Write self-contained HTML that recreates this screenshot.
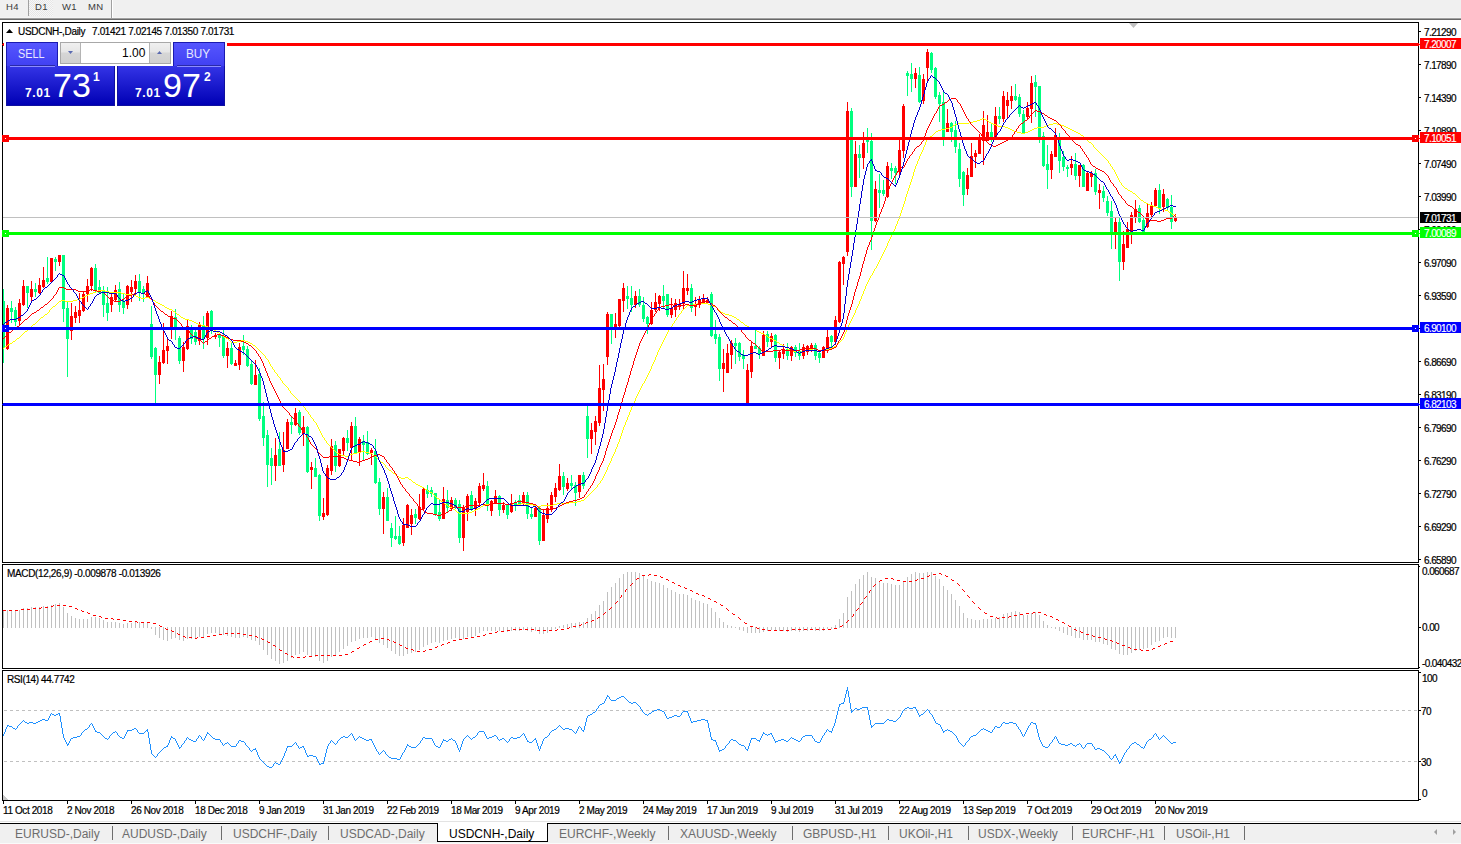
<!DOCTYPE html><html><head><meta charset="utf-8"><title>USDCNH-,Daily</title><style>
*{margin:0;padding:0;box-sizing:border-box}
html,body{width:1461px;height:844px;overflow:hidden;background:#fff}
body{position:relative;font-family:"Liberation Sans",sans-serif;}
.t{position:absolute;white-space:pre;font-size:10px;line-height:10px;color:#000;-webkit-text-stroke:0.2px #000;transform-origin:0 0}
.tb{position:absolute;white-space:pre;font-size:9.5px;line-height:10px;color:#3a3a3a;letter-spacing:0.3px}
.tab{position:absolute;white-space:pre;font-size:12px;line-height:12px;color:#6d6d6d}
.lab{position:absolute;left:1420px;width:41px;height:11px}
.lab span{position:absolute;left:4px;top:2px;font-size:10px;line-height:10px;color:#fff;white-space:pre;letter-spacing:-0.6px;-webkit-text-stroke:0.15px #fff}
svg{position:absolute;left:0;top:0}
.pn{position:absolute}
</style></head><body>
<svg width="1461" height="844" viewBox="0 0 1461 844" shape-rendering="crispEdges"><defs><pattern id="chk" width="2" height="2" patternUnits="userSpaceOnUse"><rect width="2" height="2" fill="#f7f7f7"/><rect width="1" height="1" fill="#e6e6e6"/><rect x="1" y="1" width="1" height="1" fill="#e6e6e6"/></pattern><clipPath id="cm"><rect x="3" y="23" width="1415" height="539"/></clipPath><clipPath id="cmacd"><rect x="3" y="565" width="1415" height="103"/></clipPath><clipPath id="crsi"><rect x="3" y="671" width="1415" height="129"/></clipPath></defs><rect x="0" y="0" width="1461" height="18" fill="#f0f0f0" /><rect x="0" y="17" width="1461" height="1" fill="#f4f4f4" /><rect x="0" y="18" width="1461" height="1" fill="#a0a0a0" /><rect x="0" y="19" width="1461" height="1" fill="#696969" /><rect x="29" y="0" width="24" height="16" fill="url(#chk)" /><rect x="28" y="0" width="1" height="16" fill="#a0a0a0" /><rect x="111" y="0" width="1" height="18" fill="#a0a0a0" /><rect x="112" y="0" width="1" height="18" fill="#ffffff" /><rect x="2" y="22" width="1417" height="1" fill="#000" /><rect x="2" y="562" width="1417" height="1" fill="#000" /><rect x="2" y="22" width="1" height="541" fill="#000" /><rect x="1418" y="22" width="1" height="541" fill="#000" /><rect x="2" y="564" width="1417" height="1" fill="#000" /><rect x="2" y="668" width="1417" height="1" fill="#000" /><rect x="2" y="564" width="1" height="105" fill="#000" /><rect x="1418" y="564" width="1" height="105" fill="#000" /><rect x="2" y="670" width="1417" height="1" fill="#000" /><rect x="2" y="800" width="1417" height="1" fill="#000" /><rect x="2" y="670" width="1" height="131" fill="#000" /><rect x="1418" y="670" width="1" height="131" fill="#000" /><g clip-path="url(#cm)"><rect x="3" y="289" width="1" height="74" fill="#00ff7f"/><rect x="2" y="301" width="3" height="46" fill="#00ff7f"/><rect x="7" y="305" width="1" height="45" fill="#ff0000"/><rect x="6" y="308" width="3" height="41" fill="#ff0000"/><rect x="11" y="301" width="1" height="22" fill="#00ff7f"/><rect x="10" y="308" width="3" height="4" fill="#00ff7f"/><rect x="15" y="307" width="1" height="19" fill="#00ff7f"/><rect x="14" y="310" width="3" height="12" fill="#00ff7f"/><rect x="19" y="299" width="1" height="27" fill="#ff0000"/><rect x="18" y="303" width="3" height="18" fill="#ff0000"/><rect x="23" y="280" width="1" height="26" fill="#ff0000"/><rect x="22" y="286" width="3" height="19" fill="#ff0000"/><rect x="27" y="286" width="1" height="22" fill="#00ff7f"/><rect x="26" y="286" width="3" height="7" fill="#00ff7f"/><rect x="31" y="281" width="1" height="21" fill="#ff0000"/><rect x="30" y="289" width="3" height="8" fill="#ff0000"/><rect x="35" y="283" width="1" height="14" fill="#00ff7f"/><rect x="34" y="289" width="3" height="3" fill="#00ff7f"/><rect x="39" y="278" width="1" height="16" fill="#ff0000"/><rect x="38" y="285" width="3" height="8" fill="#ff0000"/><rect x="43" y="267" width="1" height="21" fill="#ff0000"/><rect x="42" y="280" width="3" height="7" fill="#ff0000"/><rect x="47" y="257" width="1" height="27" fill="#00ff7f"/><rect x="46" y="278" width="3" height="4" fill="#00ff7f"/><rect x="51" y="258" width="1" height="25" fill="#ff0000"/><rect x="50" y="258" width="3" height="24" fill="#ff0000"/><rect x="55" y="257" width="1" height="14" fill="#00ff7f"/><rect x="54" y="259" width="3" height="3" fill="#00ff7f"/><rect x="59" y="255" width="1" height="11" fill="#ff0000"/><rect x="58" y="255" width="3" height="7" fill="#ff0000"/><rect x="63" y="255" width="1" height="67" fill="#00ff7f"/><rect x="62" y="255" width="3" height="54" fill="#00ff7f"/><rect x="67" y="301" width="1" height="76" fill="#00ff7f"/><rect x="66" y="308" width="3" height="31" fill="#00ff7f"/><rect x="71" y="303" width="1" height="37" fill="#ff0000"/><rect x="70" y="316" width="3" height="15" fill="#ff0000"/><rect x="75" y="306" width="1" height="17" fill="#ff0000"/><rect x="74" y="312" width="3" height="6" fill="#ff0000"/><rect x="79" y="293" width="1" height="30" fill="#ff0000"/><rect x="78" y="310" width="3" height="6" fill="#ff0000"/><rect x="83" y="292" width="1" height="20" fill="#ff0000"/><rect x="82" y="294" width="3" height="17" fill="#ff0000"/><rect x="87" y="279" width="1" height="23" fill="#ff0000"/><rect x="86" y="286" width="3" height="8" fill="#ff0000"/><rect x="91" y="267" width="1" height="24" fill="#ff0000"/><rect x="90" y="268" width="3" height="18" fill="#ff0000"/><rect x="95" y="264" width="1" height="28" fill="#00ff7f"/><rect x="94" y="268" width="3" height="22" fill="#00ff7f"/><rect x="99" y="280" width="1" height="14" fill="#00ff7f"/><rect x="98" y="287" width="3" height="6" fill="#00ff7f"/><rect x="103" y="286" width="1" height="31" fill="#00ff7f"/><rect x="102" y="290" width="3" height="15" fill="#00ff7f"/><rect x="107" y="287" width="1" height="34" fill="#00ff7f"/><rect x="106" y="303" width="3" height="10" fill="#00ff7f"/><rect x="111" y="292" width="1" height="20" fill="#ff0000"/><rect x="110" y="297" width="3" height="8" fill="#ff0000"/><rect x="115" y="285" width="1" height="17" fill="#ff0000"/><rect x="114" y="290" width="3" height="10" fill="#ff0000"/><rect x="119" y="282" width="1" height="30" fill="#00ff7f"/><rect x="118" y="289" width="3" height="16" fill="#00ff7f"/><rect x="123" y="294" width="1" height="20" fill="#00ff7f"/><rect x="122" y="301" width="3" height="7" fill="#00ff7f"/><rect x="127" y="285" width="1" height="24" fill="#ff0000"/><rect x="126" y="286" width="3" height="19" fill="#ff0000"/><rect x="131" y="280" width="1" height="22" fill="#ff0000"/><rect x="130" y="287" width="3" height="5" fill="#ff0000"/><rect x="135" y="275" width="1" height="21" fill="#ff0000"/><rect x="134" y="281" width="3" height="8" fill="#ff0000"/><rect x="139" y="274" width="1" height="27" fill="#00ff7f"/><rect x="138" y="281" width="3" height="11" fill="#00ff7f"/><rect x="143" y="286" width="1" height="16" fill="#00ff7f"/><rect x="142" y="289" width="3" height="5" fill="#00ff7f"/><rect x="147" y="276" width="1" height="22" fill="#ff0000"/><rect x="146" y="283" width="3" height="14" fill="#ff0000"/><rect x="151" y="306" width="1" height="53" fill="#00ff7f"/><rect x="150" y="324" width="3" height="33" fill="#00ff7f"/><rect x="155" y="347" width="1" height="56" fill="#00ff7f"/><rect x="154" y="348" width="3" height="27" fill="#00ff7f"/><rect x="159" y="356" width="1" height="28" fill="#ff0000"/><rect x="158" y="362" width="3" height="13" fill="#ff0000"/><rect x="163" y="323" width="1" height="41" fill="#ff0000"/><rect x="162" y="350" width="3" height="13" fill="#ff0000"/><rect x="167" y="339" width="1" height="25" fill="#ff0000"/><rect x="166" y="346" width="3" height="5" fill="#ff0000"/><rect x="171" y="311" width="1" height="28" fill="#ff0000"/><rect x="170" y="316" width="3" height="13" fill="#ff0000"/><rect x="175" y="309" width="1" height="31" fill="#00ff7f"/><rect x="174" y="317" width="3" height="11" fill="#00ff7f"/><rect x="179" y="336" width="1" height="28" fill="#00ff7f"/><rect x="178" y="338" width="3" height="23" fill="#00ff7f"/><rect x="183" y="342" width="1" height="30" fill="#ff0000"/><rect x="182" y="347" width="3" height="14" fill="#ff0000"/><rect x="187" y="320" width="1" height="30" fill="#ff0000"/><rect x="186" y="326" width="3" height="23" fill="#ff0000"/><rect x="191" y="325" width="1" height="19" fill="#00ff7f"/><rect x="190" y="330" width="3" height="9" fill="#00ff7f"/><rect x="195" y="330" width="1" height="15" fill="#00ff7f"/><rect x="194" y="332" width="3" height="10" fill="#00ff7f"/><rect x="199" y="322" width="1" height="23" fill="#ff0000"/><rect x="198" y="324" width="3" height="17" fill="#ff0000"/><rect x="203" y="316" width="1" height="33" fill="#00ff7f"/><rect x="202" y="326" width="3" height="13" fill="#00ff7f"/><rect x="207" y="311" width="1" height="34" fill="#ff0000"/><rect x="206" y="313" width="3" height="25" fill="#ff0000"/><rect x="211" y="310" width="1" height="24" fill="#00ff7f"/><rect x="210" y="311" width="3" height="17" fill="#00ff7f"/><rect x="215" y="333" width="1" height="6" fill="#ff0000"/><rect x="214" y="335" width="3" height="2" fill="#ff0000"/><rect x="219" y="333" width="1" height="14" fill="#00ff7f"/><rect x="218" y="334" width="3" height="4" fill="#00ff7f"/><rect x="223" y="330" width="1" height="28" fill="#00ff7f"/><rect x="222" y="336" width="3" height="20" fill="#00ff7f"/><rect x="227" y="342" width="1" height="26" fill="#ff0000"/><rect x="226" y="348" width="3" height="8" fill="#ff0000"/><rect x="231" y="343" width="1" height="22" fill="#00ff7f"/><rect x="230" y="348" width="3" height="16" fill="#00ff7f"/><rect x="235" y="360" width="1" height="6" fill="#ff0000"/><rect x="234" y="363" width="3" height="3" fill="#ff0000"/><rect x="239" y="343" width="1" height="27" fill="#ff0000"/><rect x="238" y="347" width="3" height="18" fill="#ff0000"/><rect x="243" y="335" width="1" height="20" fill="#00ff7f"/><rect x="242" y="346" width="3" height="4" fill="#00ff7f"/><rect x="247" y="346" width="1" height="21" fill="#00ff7f"/><rect x="246" y="349" width="3" height="17" fill="#00ff7f"/><rect x="251" y="361" width="1" height="24" fill="#00ff7f"/><rect x="250" y="364" width="3" height="20" fill="#00ff7f"/><rect x="255" y="360" width="1" height="25" fill="#ff0000"/><rect x="254" y="375" width="3" height="10" fill="#ff0000"/><rect x="259" y="368" width="1" height="53" fill="#00ff7f"/><rect x="258" y="374" width="3" height="45" fill="#00ff7f"/><rect x="263" y="402" width="1" height="44" fill="#00ff7f"/><rect x="262" y="416" width="3" height="22" fill="#00ff7f"/><rect x="267" y="430" width="1" height="57" fill="#00ff7f"/><rect x="266" y="435" width="3" height="30" fill="#00ff7f"/><rect x="271" y="448" width="1" height="37" fill="#00ff7f"/><rect x="270" y="458" width="3" height="8" fill="#00ff7f"/><rect x="275" y="438" width="1" height="43" fill="#ff0000"/><rect x="274" y="455" width="3" height="11" fill="#ff0000"/><rect x="279" y="432" width="1" height="34" fill="#00ff7f"/><rect x="278" y="449" width="3" height="17" fill="#00ff7f"/><rect x="283" y="432" width="1" height="40" fill="#ff0000"/><rect x="282" y="450" width="3" height="15" fill="#ff0000"/><rect x="287" y="419" width="1" height="30" fill="#ff0000"/><rect x="286" y="422" width="3" height="27" fill="#ff0000"/><rect x="291" y="416" width="1" height="18" fill="#00ff7f"/><rect x="290" y="422" width="3" height="3" fill="#00ff7f"/><rect x="295" y="408" width="1" height="18" fill="#ff0000"/><rect x="294" y="413" width="3" height="12" fill="#ff0000"/><rect x="299" y="410" width="1" height="25" fill="#00ff7f"/><rect x="298" y="412" width="3" height="21" fill="#00ff7f"/><rect x="303" y="416" width="1" height="30" fill="#ff0000"/><rect x="302" y="427" width="3" height="7" fill="#ff0000"/><rect x="307" y="426" width="1" height="47" fill="#00ff7f"/><rect x="306" y="427" width="3" height="45" fill="#00ff7f"/><rect x="311" y="462" width="1" height="27" fill="#ff0000"/><rect x="310" y="467" width="3" height="3" fill="#ff0000"/><rect x="315" y="458" width="1" height="19" fill="#00ff7f"/><rect x="314" y="468" width="3" height="9" fill="#00ff7f"/><rect x="319" y="474" width="1" height="47" fill="#00ff7f"/><rect x="318" y="475" width="3" height="41" fill="#00ff7f"/><rect x="323" y="498" width="1" height="22" fill="#ff0000"/><rect x="322" y="513" width="3" height="4" fill="#ff0000"/><rect x="327" y="465" width="1" height="51" fill="#ff0000"/><rect x="326" y="468" width="3" height="47" fill="#ff0000"/><rect x="331" y="439" width="1" height="36" fill="#ff0000"/><rect x="330" y="446" width="3" height="25" fill="#ff0000"/><rect x="335" y="441" width="1" height="31" fill="#00ff7f"/><rect x="334" y="445" width="3" height="21" fill="#00ff7f"/><rect x="339" y="449" width="1" height="18" fill="#ff0000"/><rect x="338" y="449" width="3" height="17" fill="#ff0000"/><rect x="343" y="437" width="1" height="19" fill="#ff0000"/><rect x="342" y="438" width="3" height="13" fill="#ff0000"/><rect x="347" y="430" width="1" height="21" fill="#00ff7f"/><rect x="346" y="438" width="3" height="5" fill="#00ff7f"/><rect x="351" y="422" width="1" height="39" fill="#ff0000"/><rect x="350" y="426" width="3" height="22" fill="#ff0000"/><rect x="355" y="417" width="1" height="37" fill="#00ff7f"/><rect x="354" y="426" width="3" height="27" fill="#00ff7f"/><rect x="359" y="437" width="1" height="29" fill="#ff0000"/><rect x="358" y="439" width="3" height="14" fill="#ff0000"/><rect x="363" y="435" width="1" height="26" fill="#00ff7f"/><rect x="362" y="441" width="3" height="4" fill="#00ff7f"/><rect x="367" y="431" width="1" height="24" fill="#00ff7f"/><rect x="366" y="442" width="3" height="12" fill="#00ff7f"/><rect x="371" y="448" width="1" height="17" fill="#ff0000"/><rect x="370" y="450" width="3" height="3" fill="#ff0000"/><rect x="375" y="439" width="1" height="45" fill="#00ff7f"/><rect x="374" y="451" width="3" height="32" fill="#00ff7f"/><rect x="379" y="478" width="1" height="37" fill="#00ff7f"/><rect x="378" y="482" width="3" height="27" fill="#00ff7f"/><rect x="383" y="492" width="1" height="42" fill="#ff0000"/><rect x="382" y="497" width="3" height="12" fill="#ff0000"/><rect x="387" y="488" width="1" height="33" fill="#00ff7f"/><rect x="386" y="497" width="3" height="24" fill="#00ff7f"/><rect x="391" y="523" width="1" height="24" fill="#00ff7f"/><rect x="390" y="528" width="3" height="10" fill="#00ff7f"/><rect x="395" y="516" width="1" height="24" fill="#00ff7f"/><rect x="394" y="536" width="3" height="3" fill="#00ff7f"/><rect x="399" y="526" width="1" height="19" fill="#00ff7f"/><rect x="398" y="536" width="3" height="8" fill="#00ff7f"/><rect x="403" y="518" width="1" height="28" fill="#ff0000"/><rect x="402" y="525" width="3" height="18" fill="#ff0000"/><rect x="407" y="504" width="1" height="24" fill="#ff0000"/><rect x="406" y="505" width="3" height="23" fill="#ff0000"/><rect x="411" y="509" width="1" height="26" fill="#ff0000"/><rect x="410" y="515" width="3" height="9" fill="#ff0000"/><rect x="415" y="509" width="1" height="15" fill="#00ff7f"/><rect x="414" y="514" width="3" height="4" fill="#00ff7f"/><rect x="419" y="494" width="1" height="26" fill="#ff0000"/><rect x="418" y="507" width="3" height="12" fill="#ff0000"/><rect x="423" y="488" width="1" height="23" fill="#ff0000"/><rect x="422" y="489" width="3" height="20" fill="#ff0000"/><rect x="427" y="485" width="1" height="13" fill="#00ff7f"/><rect x="426" y="490" width="3" height="4" fill="#00ff7f"/><rect x="431" y="487" width="1" height="10" fill="#00ff7f"/><rect x="430" y="490" width="3" height="4" fill="#00ff7f"/><rect x="435" y="493" width="1" height="23" fill="#00ff7f"/><rect x="434" y="493" width="3" height="21" fill="#00ff7f"/><rect x="439" y="500" width="1" height="21" fill="#00ff7f"/><rect x="438" y="512" width="3" height="7" fill="#00ff7f"/><rect x="443" y="487" width="1" height="32" fill="#ff0000"/><rect x="442" y="499" width="3" height="20" fill="#ff0000"/><rect x="447" y="490" width="1" height="22" fill="#00ff7f"/><rect x="446" y="500" width="3" height="8" fill="#00ff7f"/><rect x="451" y="497" width="1" height="14" fill="#ff0000"/><rect x="450" y="500" width="3" height="9" fill="#ff0000"/><rect x="455" y="498" width="1" height="11" fill="#00ff7f"/><rect x="454" y="500" width="3" height="7" fill="#00ff7f"/><rect x="459" y="500" width="1" height="43" fill="#00ff7f"/><rect x="458" y="504" width="3" height="34" fill="#00ff7f"/><rect x="463" y="505" width="1" height="46" fill="#ff0000"/><rect x="462" y="508" width="3" height="30" fill="#ff0000"/><rect x="467" y="494" width="1" height="27" fill="#ff0000"/><rect x="466" y="496" width="3" height="16" fill="#ff0000"/><rect x="471" y="491" width="1" height="20" fill="#00ff7f"/><rect x="470" y="495" width="3" height="15" fill="#00ff7f"/><rect x="475" y="498" width="1" height="18" fill="#ff0000"/><rect x="474" y="501" width="3" height="8" fill="#ff0000"/><rect x="479" y="483" width="1" height="22" fill="#ff0000"/><rect x="478" y="486" width="3" height="17" fill="#ff0000"/><rect x="483" y="473" width="1" height="18" fill="#ff0000"/><rect x="482" y="485" width="3" height="4" fill="#ff0000"/><rect x="487" y="481" width="1" height="30" fill="#00ff7f"/><rect x="486" y="486" width="3" height="20" fill="#00ff7f"/><rect x="491" y="500" width="1" height="16" fill="#ff0000"/><rect x="490" y="501" width="3" height="10" fill="#ff0000"/><rect x="495" y="490" width="1" height="14" fill="#ff0000"/><rect x="494" y="496" width="3" height="8" fill="#ff0000"/><rect x="499" y="495" width="1" height="21" fill="#00ff7f"/><rect x="498" y="496" width="3" height="14" fill="#00ff7f"/><rect x="503" y="502" width="1" height="11" fill="#ff0000"/><rect x="502" y="505" width="3" height="5" fill="#ff0000"/><rect x="507" y="504" width="1" height="15" fill="#00ff7f"/><rect x="506" y="505" width="3" height="10" fill="#00ff7f"/><rect x="511" y="494" width="1" height="19" fill="#ff0000"/><rect x="510" y="503" width="3" height="9" fill="#ff0000"/><rect x="515" y="500" width="1" height="11" fill="#00ff7f"/><rect x="514" y="503" width="3" height="3" fill="#00ff7f"/><rect x="519" y="495" width="1" height="11" fill="#00ff7f"/><rect x="518" y="500" width="3" height="4" fill="#00ff7f"/><rect x="523" y="492" width="1" height="14" fill="#ff0000"/><rect x="522" y="495" width="3" height="9" fill="#ff0000"/><rect x="527" y="492" width="1" height="27" fill="#00ff7f"/><rect x="526" y="495" width="3" height="19" fill="#00ff7f"/><rect x="531" y="507" width="1" height="12" fill="#00ff7f"/><rect x="530" y="514" width="3" height="3" fill="#00ff7f"/><rect x="535" y="507" width="1" height="10" fill="#ff0000"/><rect x="534" y="508" width="3" height="9" fill="#ff0000"/><rect x="539" y="507" width="1" height="38" fill="#00ff7f"/><rect x="538" y="508" width="3" height="33" fill="#00ff7f"/><rect x="543" y="510" width="1" height="31" fill="#ff0000"/><rect x="542" y="515" width="3" height="26" fill="#ff0000"/><rect x="547" y="503" width="1" height="20" fill="#ff0000"/><rect x="546" y="508" width="3" height="11" fill="#ff0000"/><rect x="551" y="492" width="1" height="20" fill="#ff0000"/><rect x="550" y="495" width="3" height="14" fill="#ff0000"/><rect x="555" y="483" width="1" height="19" fill="#ff0000"/><rect x="554" y="488" width="3" height="9" fill="#ff0000"/><rect x="559" y="464" width="1" height="27" fill="#ff0000"/><rect x="558" y="476" width="3" height="14" fill="#ff0000"/><rect x="563" y="472" width="1" height="23" fill="#00ff7f"/><rect x="562" y="476" width="3" height="11" fill="#00ff7f"/><rect x="567" y="478" width="1" height="13" fill="#ff0000"/><rect x="566" y="483" width="3" height="6" fill="#ff0000"/><rect x="571" y="475" width="1" height="14" fill="#00ff7f"/><rect x="570" y="483" width="3" height="3" fill="#00ff7f"/><rect x="575" y="482" width="1" height="24" fill="#00ff7f"/><rect x="574" y="485" width="3" height="8" fill="#00ff7f"/><rect x="579" y="475" width="1" height="23" fill="#ff0000"/><rect x="578" y="475" width="3" height="17" fill="#ff0000"/><rect x="583" y="472" width="1" height="17" fill="#00ff7f"/><rect x="582" y="475" width="3" height="11" fill="#00ff7f"/><rect x="587" y="405" width="1" height="53" fill="#00ff7f"/><rect x="586" y="416" width="3" height="23" fill="#00ff7f"/><rect x="591" y="423" width="1" height="31" fill="#ff0000"/><rect x="590" y="430" width="3" height="9" fill="#ff0000"/><rect x="595" y="416" width="1" height="29" fill="#ff0000"/><rect x="594" y="421" width="3" height="11" fill="#ff0000"/><rect x="599" y="365" width="1" height="61" fill="#ff0000"/><rect x="598" y="388" width="3" height="35" fill="#ff0000"/><rect x="603" y="364" width="1" height="47" fill="#ff0000"/><rect x="602" y="379" width="3" height="11" fill="#ff0000"/><rect x="607" y="312" width="1" height="53" fill="#ff0000"/><rect x="606" y="314" width="3" height="43" fill="#ff0000"/><rect x="611" y="314" width="1" height="30" fill="#00ff7f"/><rect x="610" y="314" width="3" height="13" fill="#00ff7f"/><rect x="615" y="313" width="1" height="25" fill="#ff0000"/><rect x="614" y="324" width="3" height="3" fill="#ff0000"/><rect x="619" y="299" width="1" height="28" fill="#ff0000"/><rect x="618" y="299" width="3" height="27" fill="#ff0000"/><rect x="623" y="283" width="1" height="29" fill="#ff0000"/><rect x="622" y="288" width="3" height="13" fill="#ff0000"/><rect x="627" y="286" width="1" height="23" fill="#00ff7f"/><rect x="626" y="296" width="3" height="3" fill="#00ff7f"/><rect x="631" y="286" width="1" height="26" fill="#00ff7f"/><rect x="630" y="298" width="3" height="7" fill="#00ff7f"/><rect x="635" y="291" width="1" height="17" fill="#ff0000"/><rect x="634" y="296" width="3" height="9" fill="#ff0000"/><rect x="639" y="289" width="1" height="18" fill="#00ff7f"/><rect x="638" y="296" width="3" height="9" fill="#00ff7f"/><rect x="643" y="297" width="1" height="25" fill="#00ff7f"/><rect x="642" y="305" width="3" height="14" fill="#00ff7f"/><rect x="647" y="316" width="1" height="18" fill="#00ff7f"/><rect x="646" y="317" width="3" height="7" fill="#00ff7f"/><rect x="651" y="302" width="1" height="23" fill="#ff0000"/><rect x="650" y="310" width="3" height="14" fill="#ff0000"/><rect x="655" y="293" width="1" height="19" fill="#ff0000"/><rect x="654" y="302" width="3" height="8" fill="#ff0000"/><rect x="659" y="295" width="1" height="16" fill="#ff0000"/><rect x="658" y="296" width="3" height="8" fill="#ff0000"/><rect x="663" y="285" width="1" height="24" fill="#00ff7f"/><rect x="662" y="296" width="3" height="5" fill="#00ff7f"/><rect x="667" y="294" width="1" height="23" fill="#00ff7f"/><rect x="666" y="294" width="3" height="21" fill="#00ff7f"/><rect x="671" y="298" width="1" height="20" fill="#ff0000"/><rect x="670" y="308" width="3" height="7" fill="#ff0000"/><rect x="675" y="299" width="1" height="18" fill="#ff0000"/><rect x="674" y="303" width="3" height="7" fill="#ff0000"/><rect x="679" y="299" width="1" height="11" fill="#ff0000"/><rect x="678" y="304" width="3" height="3" fill="#ff0000"/><rect x="683" y="271" width="1" height="38" fill="#ff0000"/><rect x="682" y="288" width="3" height="16" fill="#ff0000"/><rect x="687" y="274" width="1" height="21" fill="#ff0000"/><rect x="686" y="288" width="3" height="3" fill="#ff0000"/><rect x="691" y="284" width="1" height="28" fill="#00ff7f"/><rect x="690" y="288" width="3" height="20" fill="#00ff7f"/><rect x="695" y="297" width="1" height="19" fill="#ff0000"/><rect x="694" y="304" width="3" height="3" fill="#ff0000"/><rect x="699" y="296" width="1" height="12" fill="#ff0000"/><rect x="698" y="300" width="3" height="5" fill="#ff0000"/><rect x="703" y="294" width="1" height="9" fill="#ff0000"/><rect x="702" y="298" width="3" height="5" fill="#ff0000"/><rect x="707" y="297" width="1" height="6" fill="#ff0000"/><rect x="706" y="300" width="3" height="3" fill="#ff0000"/><rect x="711" y="292" width="1" height="45" fill="#00ff7f"/><rect x="710" y="294" width="3" height="42" fill="#00ff7f"/><rect x="715" y="320" width="1" height="24" fill="#00ff7f"/><rect x="714" y="334" width="3" height="5" fill="#00ff7f"/><rect x="719" y="334" width="1" height="47" fill="#00ff7f"/><rect x="718" y="337" width="3" height="32" fill="#00ff7f"/><rect x="723" y="349" width="1" height="43" fill="#ff0000"/><rect x="722" y="363" width="3" height="6" fill="#ff0000"/><rect x="727" y="344" width="1" height="29" fill="#ff0000"/><rect x="726" y="353" width="3" height="20" fill="#ff0000"/><rect x="731" y="340" width="1" height="29" fill="#ff0000"/><rect x="730" y="343" width="3" height="12" fill="#ff0000"/><rect x="735" y="338" width="1" height="26" fill="#00ff7f"/><rect x="734" y="343" width="3" height="3" fill="#00ff7f"/><rect x="739" y="342" width="1" height="19" fill="#00ff7f"/><rect x="738" y="343" width="3" height="14" fill="#00ff7f"/><rect x="743" y="350" width="1" height="19" fill="#00ff7f"/><rect x="742" y="355" width="3" height="4" fill="#00ff7f"/><rect x="747" y="364" width="1" height="40" fill="#ff0000"/><rect x="746" y="370" width="3" height="34" fill="#ff0000"/><rect x="751" y="342" width="1" height="36" fill="#ff0000"/><rect x="750" y="346" width="3" height="26" fill="#ff0000"/><rect x="755" y="330" width="1" height="19" fill="#00ff7f"/><rect x="754" y="346" width="3" height="3" fill="#00ff7f"/><rect x="759" y="346" width="1" height="13" fill="#00ff7f"/><rect x="758" y="348" width="3" height="6" fill="#00ff7f"/><rect x="763" y="331" width="1" height="25" fill="#ff0000"/><rect x="762" y="335" width="3" height="21" fill="#ff0000"/><rect x="767" y="331" width="1" height="16" fill="#00ff7f"/><rect x="766" y="334" width="3" height="8" fill="#00ff7f"/><rect x="771" y="333" width="1" height="15" fill="#ff0000"/><rect x="770" y="336" width="3" height="6" fill="#ff0000"/><rect x="775" y="334" width="1" height="28" fill="#00ff7f"/><rect x="774" y="335" width="3" height="23" fill="#00ff7f"/><rect x="779" y="351" width="1" height="18" fill="#ff0000"/><rect x="778" y="352" width="3" height="6" fill="#ff0000"/><rect x="783" y="344" width="1" height="15" fill="#ff0000"/><rect x="782" y="350" width="3" height="4" fill="#ff0000"/><rect x="787" y="343" width="1" height="17" fill="#00ff7f"/><rect x="786" y="349" width="3" height="7" fill="#00ff7f"/><rect x="791" y="346" width="1" height="15" fill="#ff0000"/><rect x="790" y="347" width="3" height="9" fill="#ff0000"/><rect x="795" y="345" width="1" height="12" fill="#00ff7f"/><rect x="794" y="347" width="3" height="6" fill="#00ff7f"/><rect x="799" y="343" width="1" height="17" fill="#00ff7f"/><rect x="798" y="351" width="3" height="5" fill="#00ff7f"/><rect x="803" y="344" width="1" height="15" fill="#ff0000"/><rect x="802" y="347" width="3" height="9" fill="#ff0000"/><rect x="807" y="345" width="1" height="10" fill="#ff0000"/><rect x="806" y="346" width="3" height="6" fill="#ff0000"/><rect x="811" y="343" width="1" height="9" fill="#ff0000"/><rect x="810" y="345" width="3" height="4" fill="#ff0000"/><rect x="815" y="343" width="1" height="17" fill="#00ff7f"/><rect x="814" y="345" width="3" height="11" fill="#00ff7f"/><rect x="819" y="351" width="1" height="12" fill="#00ff7f"/><rect x="818" y="353" width="3" height="5" fill="#00ff7f"/><rect x="823" y="346" width="1" height="12" fill="#ff0000"/><rect x="822" y="347" width="3" height="11" fill="#ff0000"/><rect x="827" y="330" width="1" height="23" fill="#ff0000"/><rect x="826" y="337" width="3" height="12" fill="#ff0000"/><rect x="831" y="335" width="1" height="12" fill="#00ff7f"/><rect x="830" y="336" width="3" height="6" fill="#00ff7f"/><rect x="835" y="316" width="1" height="29" fill="#ff0000"/><rect x="834" y="320" width="3" height="22" fill="#ff0000"/><rect x="839" y="261" width="1" height="62" fill="#ff0000"/><rect x="838" y="262" width="3" height="60" fill="#ff0000"/><rect x="843" y="256" width="1" height="29" fill="#ff0000"/><rect x="842" y="257" width="3" height="7" fill="#ff0000"/><rect x="847" y="102" width="1" height="154" fill="#ff0000"/><rect x="846" y="111" width="3" height="141" fill="#ff0000"/><rect x="851" y="108" width="1" height="89" fill="#00ff7f"/><rect x="850" y="111" width="3" height="76" fill="#00ff7f"/><rect x="855" y="141" width="1" height="46" fill="#ff0000"/><rect x="854" y="154" width="3" height="33" fill="#ff0000"/><rect x="859" y="145" width="1" height="33" fill="#00ff7f"/><rect x="858" y="154" width="3" height="4" fill="#00ff7f"/><rect x="863" y="132" width="1" height="37" fill="#ff0000"/><rect x="862" y="143" width="3" height="15" fill="#ff0000"/><rect x="867" y="128" width="1" height="25" fill="#00ff7f"/><rect x="866" y="140" width="3" height="2" fill="#00ff7f"/><rect x="871" y="133" width="1" height="117" fill="#00ff7f"/><rect x="870" y="141" width="3" height="80" fill="#00ff7f"/><rect x="875" y="181" width="1" height="41" fill="#ff0000"/><rect x="874" y="189" width="3" height="32" fill="#ff0000"/><rect x="879" y="174" width="1" height="34" fill="#00ff7f"/><rect x="878" y="190" width="3" height="3" fill="#00ff7f"/><rect x="883" y="180" width="1" height="16" fill="#00ff7f"/><rect x="882" y="190" width="3" height="4" fill="#00ff7f"/><rect x="887" y="162" width="1" height="36" fill="#ff0000"/><rect x="886" y="166" width="3" height="31" fill="#ff0000"/><rect x="891" y="163" width="1" height="16" fill="#00ff7f"/><rect x="890" y="168" width="3" height="3" fill="#00ff7f"/><rect x="895" y="166" width="1" height="18" fill="#00ff7f"/><rect x="894" y="168" width="3" height="5" fill="#00ff7f"/><rect x="899" y="140" width="1" height="35" fill="#ff0000"/><rect x="898" y="150" width="3" height="22" fill="#ff0000"/><rect x="903" y="104" width="1" height="54" fill="#ff0000"/><rect x="902" y="106" width="3" height="45" fill="#ff0000"/><rect x="907" y="71" width="1" height="25" fill="#00ff7f"/><rect x="906" y="73" width="3" height="3" fill="#00ff7f"/><rect x="911" y="63" width="1" height="29" fill="#00ff7f"/><rect x="910" y="74" width="3" height="5" fill="#00ff7f"/><rect x="915" y="68" width="1" height="20" fill="#ff0000"/><rect x="914" y="73" width="3" height="6" fill="#ff0000"/><rect x="919" y="67" width="1" height="36" fill="#00ff7f"/><rect x="918" y="75" width="3" height="27" fill="#00ff7f"/><rect x="923" y="74" width="1" height="30" fill="#ff0000"/><rect x="922" y="79" width="3" height="22" fill="#ff0000"/><rect x="927" y="49" width="1" height="32" fill="#ff0000"/><rect x="926" y="52" width="3" height="16" fill="#ff0000"/><rect x="931" y="52" width="1" height="21" fill="#00ff7f"/><rect x="930" y="53" width="3" height="17" fill="#00ff7f"/><rect x="935" y="67" width="1" height="32" fill="#00ff7f"/><rect x="934" y="68" width="3" height="29" fill="#00ff7f"/><rect x="939" y="92" width="1" height="30" fill="#00ff7f"/><rect x="938" y="95" width="3" height="9" fill="#00ff7f"/><rect x="943" y="92" width="1" height="54" fill="#00ff7f"/><rect x="942" y="102" width="3" height="35" fill="#00ff7f"/><rect x="947" y="109" width="1" height="23" fill="#ff0000"/><rect x="946" y="123" width="3" height="9" fill="#ff0000"/><rect x="951" y="122" width="1" height="20" fill="#00ff7f"/><rect x="950" y="123" width="3" height="9" fill="#00ff7f"/><rect x="955" y="121" width="1" height="32" fill="#00ff7f"/><rect x="954" y="130" width="3" height="17" fill="#00ff7f"/><rect x="959" y="143" width="1" height="44" fill="#00ff7f"/><rect x="958" y="149" width="3" height="30" fill="#00ff7f"/><rect x="963" y="171" width="1" height="35" fill="#00ff7f"/><rect x="962" y="172" width="3" height="23" fill="#00ff7f"/><rect x="967" y="168" width="1" height="27" fill="#ff0000"/><rect x="966" y="175" width="3" height="14" fill="#ff0000"/><rect x="971" y="143" width="1" height="34" fill="#ff0000"/><rect x="970" y="156" width="3" height="21" fill="#ff0000"/><rect x="975" y="150" width="1" height="18" fill="#ff0000"/><rect x="974" y="153" width="3" height="4" fill="#ff0000"/><rect x="979" y="134" width="1" height="20" fill="#ff0000"/><rect x="978" y="137" width="3" height="17" fill="#ff0000"/><rect x="983" y="111" width="1" height="54" fill="#ff0000"/><rect x="982" y="125" width="3" height="16" fill="#ff0000"/><rect x="987" y="115" width="1" height="26" fill="#ff0000"/><rect x="986" y="132" width="3" height="9" fill="#ff0000"/><rect x="991" y="123" width="1" height="19" fill="#00ff7f"/><rect x="990" y="132" width="3" height="5" fill="#00ff7f"/><rect x="995" y="107" width="1" height="32" fill="#ff0000"/><rect x="994" y="116" width="3" height="23" fill="#ff0000"/><rect x="999" y="107" width="1" height="17" fill="#00ff7f"/><rect x="998" y="116" width="3" height="3" fill="#00ff7f"/><rect x="1003" y="91" width="1" height="31" fill="#ff0000"/><rect x="1002" y="96" width="3" height="23" fill="#ff0000"/><rect x="1007" y="92" width="1" height="27" fill="#ff0000"/><rect x="1006" y="100" width="3" height="6" fill="#ff0000"/><rect x="1011" y="86" width="1" height="23" fill="#ff0000"/><rect x="1010" y="96" width="3" height="5" fill="#ff0000"/><rect x="1015" y="84" width="1" height="17" fill="#00ff7f"/><rect x="1014" y="96" width="3" height="4" fill="#00ff7f"/><rect x="1019" y="94" width="1" height="23" fill="#00ff7f"/><rect x="1018" y="97" width="3" height="17" fill="#00ff7f"/><rect x="1023" y="110" width="1" height="24" fill="#00ff7f"/><rect x="1022" y="114" width="3" height="19" fill="#00ff7f"/><rect x="1027" y="102" width="1" height="17" fill="#ff0000"/><rect x="1026" y="108" width="3" height="9" fill="#ff0000"/><rect x="1031" y="76" width="1" height="47" fill="#ff0000"/><rect x="1030" y="83" width="3" height="26" fill="#ff0000"/><rect x="1035" y="75" width="1" height="42" fill="#00ff7f"/><rect x="1034" y="82" width="3" height="5" fill="#00ff7f"/><rect x="1039" y="86" width="1" height="57" fill="#00ff7f"/><rect x="1038" y="86" width="3" height="53" fill="#00ff7f"/><rect x="1043" y="132" width="1" height="35" fill="#00ff7f"/><rect x="1042" y="136" width="3" height="30" fill="#00ff7f"/><rect x="1047" y="145" width="1" height="44" fill="#00ff7f"/><rect x="1046" y="164" width="3" height="6" fill="#00ff7f"/><rect x="1051" y="151" width="1" height="28" fill="#ff0000"/><rect x="1050" y="154" width="3" height="16" fill="#ff0000"/><rect x="1055" y="128" width="1" height="29" fill="#ff0000"/><rect x="1054" y="135" width="3" height="22" fill="#ff0000"/><rect x="1059" y="133" width="1" height="40" fill="#00ff7f"/><rect x="1058" y="137" width="3" height="24" fill="#00ff7f"/><rect x="1063" y="151" width="1" height="20" fill="#00ff7f"/><rect x="1062" y="157" width="3" height="10" fill="#00ff7f"/><rect x="1067" y="165" width="1" height="12" fill="#00ff7f"/><rect x="1066" y="167" width="3" height="2" fill="#00ff7f"/><rect x="1071" y="156" width="1" height="19" fill="#ff0000"/><rect x="1070" y="164" width="3" height="4" fill="#ff0000"/><rect x="1075" y="153" width="1" height="27" fill="#00ff7f"/><rect x="1074" y="164" width="3" height="12" fill="#00ff7f"/><rect x="1079" y="165" width="1" height="22" fill="#ff0000"/><rect x="1078" y="165" width="3" height="11" fill="#ff0000"/><rect x="1083" y="164" width="1" height="23" fill="#00ff7f"/><rect x="1082" y="165" width="3" height="22" fill="#00ff7f"/><rect x="1087" y="172" width="1" height="19" fill="#ff0000"/><rect x="1086" y="173" width="3" height="18" fill="#ff0000"/><rect x="1091" y="171" width="1" height="16" fill="#ff0000"/><rect x="1090" y="173" width="3" height="4" fill="#ff0000"/><rect x="1095" y="169" width="1" height="26" fill="#00ff7f"/><rect x="1094" y="173" width="3" height="19" fill="#00ff7f"/><rect x="1099" y="184" width="1" height="25" fill="#ff0000"/><rect x="1098" y="190" width="3" height="3" fill="#ff0000"/><rect x="1103" y="186" width="1" height="16" fill="#00ff7f"/><rect x="1102" y="191" width="3" height="7" fill="#00ff7f"/><rect x="1107" y="196" width="1" height="20" fill="#00ff7f"/><rect x="1106" y="201" width="3" height="12" fill="#00ff7f"/><rect x="1111" y="201" width="1" height="48" fill="#00ff7f"/><rect x="1110" y="211" width="3" height="23" fill="#00ff7f"/><rect x="1115" y="217" width="1" height="32" fill="#ff0000"/><rect x="1114" y="222" width="3" height="13" fill="#ff0000"/><rect x="1119" y="218" width="1" height="63" fill="#00ff7f"/><rect x="1118" y="222" width="3" height="40" fill="#00ff7f"/><rect x="1123" y="231" width="1" height="39" fill="#ff0000"/><rect x="1122" y="244" width="3" height="18" fill="#ff0000"/><rect x="1127" y="222" width="1" height="26" fill="#ff0000"/><rect x="1126" y="229" width="3" height="19" fill="#ff0000"/><rect x="1131" y="212" width="1" height="32" fill="#ff0000"/><rect x="1130" y="215" width="3" height="17" fill="#ff0000"/><rect x="1135" y="200" width="1" height="23" fill="#ff0000"/><rect x="1134" y="209" width="3" height="8" fill="#ff0000"/><rect x="1139" y="205" width="1" height="18" fill="#00ff7f"/><rect x="1138" y="208" width="3" height="14" fill="#00ff7f"/><rect x="1143" y="218" width="1" height="14" fill="#00ff7f"/><rect x="1142" y="220" width="3" height="12" fill="#00ff7f"/><rect x="1147" y="204" width="1" height="24" fill="#ff0000"/><rect x="1146" y="213" width="3" height="14" fill="#ff0000"/><rect x="1151" y="202" width="1" height="16" fill="#ff0000"/><rect x="1150" y="205" width="3" height="10" fill="#ff0000"/><rect x="1155" y="188" width="1" height="19" fill="#ff0000"/><rect x="1154" y="190" width="3" height="16" fill="#ff0000"/><rect x="1159" y="184" width="1" height="30" fill="#00ff7f"/><rect x="1158" y="190" width="3" height="18" fill="#00ff7f"/><rect x="1163" y="189" width="1" height="23" fill="#ff0000"/><rect x="1162" y="194" width="3" height="13" fill="#ff0000"/><rect x="1167" y="198" width="1" height="12" fill="#00ff7f"/><rect x="1166" y="199" width="3" height="9" fill="#00ff7f"/><rect x="1171" y="195" width="1" height="34" fill="#00ff7f"/><rect x="1170" y="207" width="3" height="15" fill="#00ff7f"/><rect x="1175" y="214" width="1" height="8" fill="#ff0000"/><rect x="1174" y="217" width="3" height="4" fill="#ff0000"/><path d="M36 322h1v1h-1zM194 322h2v1h-2zM674 322h1v1h-1zM741 322h2v1h-2zM850 322h1v1h-1zM935 132h1v1h-1zM1017 132h4v1h-4zM1025 132h3v1h-3zM1076 132h2v1h-2zM35 323h1v1h-1zM196 323h2v1h-2zM673 323h1v1h-1zM743 323h1v1h-1zM849 323h1v1h-1zM905 197h1v1h-1zM1138 197h1v1h-1zM941 129h4v1h-4zM1010 129h2v1h-2zM1032 129h2v1h-2zM1070 129h2v1h-2zM430 492h2v1h-2zM591 492h1v1h-1zM383 463h1v1h-1zM609 463h1v1h-1zM61 300h4v1h-4zM73 300h4v1h-4zM153 300h2v1h-2zM860 300h1v1h-1zM329 445h1v1h-1zM617 445h1v1h-1zM339 454h2v1h-2zM350 454h3v1h-3zM372 454h1v1h-1zM613 454h1v1h-1zM952 126h1v1h-1zM998 126h7v1h-7zM1044 126h2v1h-2zM1064 126h2v1h-2zM308 413h1v1h-1zM629 413h1v1h-1zM59 301h2v1h-2zM65 301h8v1h-8zM155 301h1v1h-1zM859 301h1v1h-1zM287 387h1v1h-1zM641 387h1v1h-1zM277 375h1v1h-1zM647 375h1v1h-1zM980 119h2v1h-2zM984 119h2v1h-2zM278 376h1v1h-1zM647 376h1v1h-1zM445 504h2v1h-2zM485 504h8v1h-8zM505 504h8v1h-8zM517 504h4v1h-4zM525 504h8v1h-8zM553 504h4v1h-4zM922 150h1v1h-1zM1097 150h1v1h-1zM47 313h1v1h-1zM176 313h1v1h-1zM680 313h1v1h-1zM723 313h2v1h-2zM854 313h1v1h-1zM292 394h1v1h-1zM637 394h1v1h-1zM82 297h2v1h-2zM138 297h3v1h-3zM145 297h4v1h-4zM861 297h1v1h-1zM12 342h1v1h-1zM231 342h6v1h-6zM248 342h2v1h-2zM662 342h1v1h-1zM777 342h2v1h-2zM839 342h1v1h-1zM949 127h3v1h-3zM1005 127h3v1h-3zM1037 127h7v1h-7zM1066 127h2v1h-2zM314 421h1v1h-1zM626 421h1v1h-1zM273 369h1v1h-1zM650 369h1v1h-1zM459 513h10v1h-10zM955 124h2v1h-2zM993 124h3v1h-3zM1049 124h4v1h-4zM1057 124h4v1h-4zM10 343h2v1h-2zM250 343h2v1h-2zM662 343h1v1h-1zM779 343h1v1h-1zM838 343h1v1h-1zM317 425h1v1h-1zM624 425h1v1h-1zM969 122h4v1h-4zM989 122h2v1h-2zM33 324h2v1h-2zM198 324h3v1h-3zM672 324h1v1h-1zM744 324h1v1h-1zM849 324h1v1h-1zM31 326h1v1h-1zM205 326h3v1h-3zM671 326h1v1h-1zM747 326h2v1h-2zM848 326h1v1h-1zM934 133h1v1h-1zM1021 133h4v1h-4zM1078 133h2v1h-2zM441 501h2v1h-2zM577 501h4v1h-4zM93 292h3v1h-3zM109 292h12v1h-12zM863 292h1v1h-1zM341 455h4v1h-4zM348 455h2v1h-2zM373 455h2v1h-2zM613 455h1v1h-1zM425 489h2v1h-2zM594 489h1v1h-1zM3 348h1v1h-1zM257 348h1v1h-1zM659 348h1v1h-1zM787 348h1v1h-1zM829 348h3v1h-3zM40 318h1v1h-1zM183 318h2v1h-2zM676 318h1v1h-1zM736 318h1v1h-1zM852 318h1v1h-1zM385 465h1v1h-1zM608 465h1v1h-1zM444 503h1v1h-1zM493 503h12v1h-12zM521 503h4v1h-4zM557 503h12v1h-12zM905 199h1v1h-1zM1140 199h1v1h-1zM41 317h2v1h-2zM181 317h2v1h-2zM677 317h1v1h-1zM734 317h2v1h-2zM852 317h1v1h-1zM982 118h2v1h-2zM20 336h1v1h-1zM223 336h1v1h-1zM665 336h1v1h-1zM767 336h1v1h-1zM844 336h1v1h-1zM260 351h1v1h-1zM658 351h1v1h-1zM793 351h4v1h-4zM801 351h4v1h-4zM817 351h4v1h-4zM45 314h2v1h-2zM177 314h2v1h-2zM679 314h1v1h-1zM725 314h4v1h-4zM854 314h1v1h-1zM919 156h1v1h-1zM1103 156h1v1h-1zM80 298h2v1h-2zM141 298h4v1h-4zM149 298h3v1h-3zM861 298h1v1h-1zM393 473h2v1h-2zM605 473h1v1h-1zM288 388h1v1h-1zM640 388h1v1h-1zM336 452h1v1h-1zM357 452h4v1h-4zM365 452h4v1h-4zM614 452h1v1h-1zM53 306h2v1h-2zM164 306h1v1h-1zM686 306h1v1h-1zM713 306h3v1h-3zM857 306h1v1h-1zM316 423h1v1h-1zM625 423h1v1h-1zM274 371h1v1h-1zM649 371h1v1h-1zM7 345h1v1h-1zM253 345h2v1h-2zM661 345h1v1h-1zM782 345h2v1h-2zM836 345h1v1h-1zM32 325h1v1h-1zM201 325h4v1h-4zM672 325h1v1h-1zM745 325h2v1h-2zM848 325h1v1h-1zM29 328h1v1h-1zM210 328h2v1h-2zM670 328h1v1h-1zM752 328h2v1h-2zM847 328h1v1h-1zM58 302h1v1h-1zM156 302h2v1h-2zM859 302h1v1h-1zM345 456h3v1h-3zM375 456h1v1h-1zM612 456h1v1h-1zM17 338h2v1h-2zM226 338h2v1h-2zM664 338h1v1h-1zM770 338h2v1h-2zM843 338h1v1h-1zM917 163h1v1h-1zM1109 163h1v1h-1zM301 404h1v1h-1zM633 404h1v1h-1zM928 137h2v1h-2zM1084 137h1v1h-1zM413 482h2v1h-2zM600 482h1v1h-1zM261 352h1v1h-1zM657 352h1v1h-1zM797 352h4v1h-4zM884 251h1v1h-1zM331 447h1v1h-1zM616 447h1v1h-1zM896 225h1v1h-1zM52 307h1v1h-1zM165 307h2v1h-2zM685 307h1v1h-1zM716 307h1v1h-1zM857 307h1v1h-1zM867 283h1v1h-1zM276 373h1v1h-1zM648 373h1v1h-1zM945 128h4v1h-4zM1008 128h2v1h-2zM1034 128h3v1h-3zM1068 128h2v1h-2zM904 201h1v1h-1zM1143 201h1v1h-1zM30 327h1v1h-1zM208 327h2v1h-2zM670 327h1v1h-1zM749 327h3v1h-3zM847 327h1v1h-1zM925 144h1v1h-1zM1092 144h1v1h-1zM901 212h1v1h-1zM1169 212h2v1h-2zM880 258h1v1h-1zM13 341h2v1h-2zM230 341h1v1h-1zM237 341h4v1h-4zM245 341h3v1h-3zM663 341h1v1h-1zM776 341h1v1h-1zM840 341h1v1h-1zM280 379h1v1h-1zM645 379h1v1h-1zM434 495h1v1h-1zM588 495h1v1h-1zM88 294h2v1h-2zM125 294h8v1h-8zM862 294h1v1h-1zM921 152h1v1h-1zM1099 152h1v1h-1zM305 408h1v1h-1zM631 408h1v1h-1zM396 475h1v1h-1zM604 475h1v1h-1zM936 131h2v1h-2zM1014 131h3v1h-3zM1028 131h2v1h-2zM1074 131h2v1h-2zM921 153h1v1h-1zM1100 153h1v1h-1zM57 303h1v1h-1zM158 303h2v1h-2zM697 303h11v1h-11zM859 303h1v1h-1zM448 506h2v1h-2zM481 506h2v1h-2zM537 506h4v1h-4zM957 123h12v1h-12zM991 123h2v1h-2zM1053 123h4v1h-4zM319 429h1v1h-1zM623 429h1v1h-1zM908 189h1v1h-1zM1127 189h1v1h-1zM447 505h1v1h-1zM483 505h2v1h-2zM513 505h4v1h-4zM533 505h4v1h-4zM541 505h12v1h-12zM428 491h2v1h-2zM592 491h1v1h-1zM25 331h2v1h-2zM216 331h1v1h-1zM668 331h1v1h-1zM757 331h2v1h-2zM846 331h1v1h-1zM424 488h1v1h-1zM595 488h1v1h-1zM264 355h1v1h-1zM656 355h1v1h-1zM916 165h1v1h-1zM1110 165h1v1h-1zM303 406h1v1h-1zM632 406h1v1h-1zM883 253h1v1h-1zM895 227h1v1h-1zM453 509h2v1h-2zM476 509h2v1h-2zM866 285h1v1h-1zM924 146h1v1h-1zM1093 146h1v1h-1zM48 312h1v1h-1zM175 312h1v1h-1zM681 312h1v1h-1zM721 312h2v1h-2zM855 312h1v1h-1zM297 399h1v1h-1zM635 399h1v1h-1zM879 260h1v1h-1zM918 159h1v1h-1zM1106 159h1v1h-1zM39 319h1v1h-1zM185 319h4v1h-4zM676 319h1v1h-1zM737 319h2v1h-2zM851 319h1v1h-1zM90 293h3v1h-3zM121 293h4v1h-4zM863 293h1v1h-1zM320 432h1v1h-1zM622 432h1v1h-1zM319 430h1v1h-1zM622 430h1v1h-1zM422 487h2v1h-2zM596 487h1v1h-1zM38 320h1v1h-1zM189 320h3v1h-3zM675 320h1v1h-1zM739 320h1v1h-1zM851 320h1v1h-1zM907 191h1v1h-1zM1130 191h2v1h-2zM416 484h2v1h-2zM598 484h1v1h-1zM953 125h2v1h-2zM996 125h2v1h-2zM1046 125h3v1h-3zM1061 125h3v1h-3zM973 121h4v1h-4zM988 121h1v1h-1zM259 350h1v1h-1zM658 350h1v1h-1zM790 350h3v1h-3zM805 350h4v1h-4zM813 350h4v1h-4zM821 350h4v1h-4zM324 439h1v1h-1zM619 439h1v1h-1zM43 316h1v1h-1zM180 316h1v1h-1zM678 316h1v1h-1zM732 316h2v1h-2zM853 316h1v1h-1zM281 380h1v1h-1zM645 380h1v1h-1zM923 149h1v1h-1zM1096 149h1v1h-1zM289 390h1v1h-1zM639 390h1v1h-1zM313 420h1v1h-1zM626 420h1v1h-1zM282 381h1v1h-1zM644 381h1v1h-1zM890 237h1v1h-1zM878 262h1v1h-1zM8 344h2v1h-2zM252 344h1v1h-1zM661 344h1v1h-1zM780 344h2v1h-2zM837 344h1v1h-1zM904 202h1v1h-1zM1144 202h2v1h-2zM913 175h1v1h-1zM1116 175h1v1h-1zM77 299h3v1h-3zM152 299h1v1h-1zM860 299h1v1h-1zM37 321h1v1h-1zM192 321h2v1h-2zM674 321h1v1h-1zM740 321h1v1h-1zM850 321h1v1h-1zM86 295h2v1h-2zM133 295h3v1h-3zM862 295h1v1h-1zM874 269h1v1h-1zM437 498h2v1h-2zM585 498h1v1h-1zM23 333h1v1h-1zM219 333h1v1h-1zM667 333h1v1h-1zM761 333h3v1h-3zM845 333h1v1h-1zM870 276h1v1h-1zM98 290h7v1h-7zM864 290h1v1h-1zM269 363h1v1h-1zM653 363h1v1h-1zM326 442h1v1h-1zM618 442h1v1h-1zM392 472h1v1h-1zM605 472h1v1h-1zM330 446h1v1h-1zM617 446h1v1h-1zM55 305h1v1h-1zM162 305h2v1h-2zM687 305h6v1h-6zM710 305h3v1h-3zM858 305h1v1h-1zM900 215h1v1h-1zM1174 215h2v1h-2zM299 401h1v1h-1zM634 401h1v1h-1zM315 422h1v1h-1zM625 422h1v1h-1zM917 161h1v1h-1zM1108 161h1v1h-1zM902 208h1v1h-1zM1158 208h3v1h-3zM910 182h1v1h-1zM1120 182h1v1h-1zM4 347h1v1h-1zM256 347h1v1h-1zM660 347h1v1h-1zM785 347h2v1h-2zM832 347h2v1h-2zM938 130h3v1h-3zM1012 130h2v1h-2zM1030 130h2v1h-2zM1072 130h2v1h-2zM318 428h1v1h-1zM623 428h1v1h-1zM301 403h1v1h-1zM633 403h1v1h-1zM873 272h1v1h-1zM433 494h1v1h-1zM589 494h1v1h-1zM258 349h1v1h-1zM659 349h1v1h-1zM788 349h2v1h-2zM809 349h4v1h-4zM825 349h4v1h-4zM399 477h2v1h-2zM405 477h3v1h-3zM603 477h1v1h-1zM21 335h1v1h-1zM221 335h2v1h-2zM666 335h1v1h-1zM765 335h2v1h-2zM844 335h1v1h-1zM266 358h1v1h-1zM655 358h1v1h-1zM869 279h1v1h-1zM50 309h1v1h-1zM169 309h3v1h-3zM683 309h1v1h-1zM718 309h1v1h-1zM856 309h1v1h-1zM19 337h1v1h-1zM224 337h2v1h-2zM665 337h1v1h-1zM768 337h2v1h-2zM843 337h1v1h-1zM280 378h1v1h-1zM646 378h1v1h-1zM270 364h1v1h-1zM652 364h1v1h-1zM284 384h1v1h-1zM642 384h1v1h-1zM395 474h1v1h-1zM604 474h1v1h-1zM932 135h1v1h-1zM1081 135h2v1h-2zM332 448h1v1h-1zM616 448h1v1h-1zM865 286h1v1h-1zM912 177h1v1h-1zM1117 177h1v1h-1zM412 481h1v1h-1zM600 481h1v1h-1zM912 178h1v1h-1zM1118 178h1v1h-1zM337 453h2v1h-2zM353 453h4v1h-4zM369 453h3v1h-3zM614 453h1v1h-1zM916 164h1v1h-1zM1110 164h1v1h-1zM302 405h1v1h-1zM632 405h1v1h-1zM440 500h1v1h-1zM581 500h3v1h-3zM327 443h1v1h-1zM618 443h1v1h-1zM883 252h1v1h-1zM895 226h1v1h-1zM328 444h1v1h-1zM617 444h1v1h-1zM263 354h1v1h-1zM657 354h1v1h-1zM51 308h1v1h-1zM167 308h2v1h-2zM684 308h1v1h-1zM717 308h1v1h-1zM856 308h1v1h-1zM376 457h1v1h-1zM612 457h1v1h-1zM44 315h1v1h-1zM179 315h1v1h-1zM678 315h1v1h-1zM729 315h3v1h-3zM853 315h1v1h-1zM924 145h1v1h-1zM1093 145h1v1h-1zM49 311h1v1h-1zM173 311h2v1h-2zM681 311h1v1h-1zM720 311h1v1h-1zM855 311h1v1h-1zM913 172h1v1h-1zM1115 172h1v1h-1zM904 203h1v1h-1zM1146 203h2v1h-2zM435 496h1v1h-1zM587 496h1v1h-1zM84 296h2v1h-2zM136 296h2v1h-2zM861 296h1v1h-1zM923 148h1v1h-1zM1095 148h1v1h-1zM397 476h2v1h-2zM603 476h1v1h-1zM334 450h1v1h-1zM615 450h1v1h-1zM316 424h1v1h-1zM625 424h1v1h-1zM415 483h1v1h-1zM599 483h1v1h-1zM282 382h1v1h-1zM644 382h1v1h-1zM268 360h1v1h-1zM654 360h1v1h-1zM272 367h1v1h-1zM651 367h1v1h-1zM900 214h1v1h-1zM1172 214h2v1h-2zM920 155h1v1h-1zM1102 155h1v1h-1zM286 386h1v1h-1zM641 386h1v1h-1zM288 389h1v1h-1zM640 389h1v1h-1zM891 236h1v1h-1zM913 174h1v1h-1zM1116 174h1v1h-1zM294 396h1v1h-1zM636 396h1v1h-1zM909 187h1v1h-1zM1124 187h1v1h-1zM887 243h1v1h-1zM443 502h1v1h-1zM569 502h8v1h-8zM907 193h1v1h-1zM1133 193h2v1h-2zM378 459h1v1h-1zM611 459h1v1h-1zM901 211h1v1h-1zM1168 211h1v1h-1zM271 366h1v1h-1zM651 366h1v1h-1zM15 340h1v1h-1zM229 340h1v1h-1zM241 340h4v1h-4zM663 340h1v1h-1zM774 340h2v1h-2zM841 340h1v1h-1zM274 370h1v1h-1zM650 370h1v1h-1zM304 407h1v1h-1zM631 407h1v1h-1zM318 427h1v1h-1zM623 427h1v1h-1zM56 304h1v1h-1zM160 304h2v1h-2zM693 304h4v1h-4zM708 304h2v1h-2zM858 304h1v1h-1zM873 271h1v1h-1zM919 158h1v1h-1zM1105 158h1v1h-1zM898 220h1v1h-1zM869 278h1v1h-1zM927 139h1v1h-1zM1086 139h1v1h-1zM96 291h2v1h-2zM105 291h4v1h-4zM863 291h1v1h-1zM16 339h1v1h-1zM228 339h1v1h-1zM664 339h1v1h-1zM772 339h2v1h-2zM842 339h1v1h-1zM49 310h1v1h-1zM172 310h1v1h-1zM682 310h1v1h-1zM719 310h1v1h-1zM855 310h1v1h-1zM919 157h1v1h-1zM1104 157h1v1h-1zM275 372h1v1h-1zM649 372h1v1h-1zM910 184h1v1h-1zM1121 184h1v1h-1zM27 330h1v1h-1zM214 330h2v1h-2zM668 330h1v1h-1zM756 330h1v1h-1zM846 330h1v1h-1zM420 486h2v1h-2zM597 486h1v1h-1zM918 160h1v1h-1zM1107 160h1v1h-1zM885 248h1v1h-1zM262 353h1v1h-1zM657 353h1v1h-1zM897 222h1v1h-1zM5 346h2v1h-2zM255 346h1v1h-1zM660 346h1v1h-1zM784 346h1v1h-1zM834 346h2v1h-2zM427 490h1v1h-1zM593 490h1v1h-1zM926 141h1v1h-1zM1088 141h1v1h-1zM880 259h1v1h-1zM455 510h1v1h-1zM474 510h2v1h-2zM305 409h1v1h-1zM631 409h1v1h-1zM902 209h1v1h-1zM1161 209h4v1h-4zM24 332h1v1h-1zM217 332h2v1h-2zM667 332h1v1h-1zM759 332h2v1h-2zM845 332h1v1h-1zM903 206h1v1h-1zM1153 206h3v1h-3zM901 210h1v1h-1zM1165 210h3v1h-3zM277 374h1v1h-1zM648 374h1v1h-1zM909 186h1v1h-1zM1123 186h1v1h-1zM908 190h1v1h-1zM1128 190h2v1h-2zM933 134h1v1h-1zM1080 134h1v1h-1zM409 479h2v1h-2zM602 479h1v1h-1zM265 356h1v1h-1zM656 356h1v1h-1zM895 228h1v1h-1zM879 261h1v1h-1zM891 235h1v1h-1zM920 154h1v1h-1zM1101 154h1v1h-1zM875 268h1v1h-1zM450 507h2v1h-2zM480 507h1v1h-1zM907 192h1v1h-1zM1132 192h1v1h-1zM432 493h1v1h-1zM590 493h1v1h-1zM325 440h1v1h-1zM619 440h1v1h-1zM311 417h1v1h-1zM627 417h1v1h-1zM290 391h1v1h-1zM639 391h1v1h-1zM335 451h1v1h-1zM361 451h4v1h-4zM615 451h1v1h-1zM890 238h1v1h-1zM283 383h1v1h-1zM643 383h1v1h-1zM307 411h1v1h-1zM630 411h1v1h-1zM878 263h1v1h-1zM308 412h1v1h-1zM629 412h1v1h-1zM296 398h1v1h-1zM635 398h1v1h-1zM898 219h1v1h-1zM874 270h1v1h-1zM457 512h2v1h-2zM469 512h3v1h-3zM381 462h2v1h-2zM610 462h1v1h-1zM887 245h1v1h-1zM927 138h1v1h-1zM1085 138h1v1h-1zM418 485h2v1h-2zM597 485h1v1h-1zM28 329h1v1h-1zM212 329h2v1h-2zM669 329h1v1h-1zM754 329h2v1h-2zM846 329h1v1h-1zM870 277h1v1h-1zM401 478h4v1h-4zM408 478h1v1h-1zM602 478h1v1h-1zM917 162h1v1h-1zM1108 162h1v1h-1zM910 183h1v1h-1zM1121 183h1v1h-1zM452 508h1v1h-1zM478 508h2v1h-2zM897 221h1v1h-1zM322 435h1v1h-1zM621 435h1v1h-1zM926 140h1v1h-1zM1087 140h1v1h-1zM915 167h1v1h-1zM1112 167h1v1h-1zM270 365h1v1h-1zM652 365h1v1h-1zM894 229h1v1h-1zM865 287h1v1h-1zM900 213h1v1h-1zM1171 213h1v1h-1zM285 385h1v1h-1zM642 385h1v1h-1zM911 179h1v1h-1zM1118 179h1v1h-1zM909 185h1v1h-1zM1122 185h1v1h-1zM911 180h1v1h-1zM1119 180h1v1h-1zM321 433h1v1h-1zM621 433h1v1h-1zM913 173h1v1h-1zM1115 173h1v1h-1zM377 458h1v1h-1zM611 458h1v1h-1zM893 231h1v1h-1zM456 511h1v1h-1zM472 511h2v1h-2zM925 142h1v1h-1zM1089 142h2v1h-2zM864 289h1v1h-1zM915 166h1v1h-1zM1111 166h1v1h-1zM906 195h1v1h-1zM1136 195h1v1h-1zM320 431h1v1h-1zM622 431h1v1h-1zM268 361h1v1h-1zM654 361h1v1h-1zM272 368h1v1h-1zM651 368h1v1h-1zM310 416h1v1h-1zM628 416h1v1h-1zM977 120h3v1h-3zM986 120h2v1h-2zM22 334h1v1h-1zM220 334h1v1h-1zM666 334h1v1h-1zM764 334h1v1h-1zM844 334h1v1h-1zM295 397h1v1h-1zM636 397h1v1h-1zM380 461h1v1h-1zM610 461h1v1h-1zM887 244h1v1h-1zM439 499h1v1h-1zM584 499h1v1h-1zM387 468h1v1h-1zM607 468h1v1h-1zM389 470h2v1h-2zM606 470h1v1h-1zM313 419h1v1h-1zM627 419h1v1h-1zM298 400h1v1h-1zM635 400h1v1h-1zM886 246h1v1h-1zM385 466h1v1h-1zM608 466h1v1h-1zM391 471h1v1h-1zM606 471h1v1h-1zM436 497h1v1h-1zM586 497h1v1h-1zM300 402h1v1h-1zM634 402h1v1h-1zM885 249h1v1h-1zM897 223h1v1h-1zM930 136h2v1h-2zM1083 136h1v1h-1zM881 256h1v1h-1zM306 410h1v1h-1zM630 410h1v1h-1zM903 204h1v1h-1zM1148 204h2v1h-2zM411 480h1v1h-1zM601 480h1v1h-1zM384 464h1v1h-1zM609 464h1v1h-1zM310 415h1v1h-1zM628 415h1v1h-1zM291 393h1v1h-1zM638 393h1v1h-1zM903 205h1v1h-1zM1150 205h3v1h-3zM379 460h1v1h-1zM611 460h1v1h-1zM323 437h1v1h-1zM620 437h1v1h-1zM386 467h1v1h-1zM607 467h1v1h-1zM326 441h1v1h-1zM619 441h1v1h-1zM312 418h1v1h-1zM627 418h1v1h-1zM925 143h1v1h-1zM1091 143h1v1h-1zM309 414h1v1h-1zM629 414h1v1h-1zM293 395h1v1h-1zM637 395h1v1h-1zM906 194h1v1h-1zM1135 194h1v1h-1zM322 436h1v1h-1zM620 436h1v1h-1zM915 168h1v1h-1zM1112 168h1v1h-1zM265 357h1v1h-1zM655 357h1v1h-1zM894 230h1v1h-1zM882 255h1v1h-1zM865 288h1v1h-1zM923 147h1v1h-1zM1094 147h1v1h-1zM902 207h1v1h-1zM1156 207h2v1h-2zM911 181h1v1h-1zM1119 181h1v1h-1zM321 434h1v1h-1zM621 434h1v1h-1zM914 170h1v1h-1zM1114 170h1v1h-1zM388 469h1v1h-1zM607 469h1v1h-1zM893 232h1v1h-1zM922 151h1v1h-1zM1098 151h1v1h-1zM290 392h1v1h-1zM638 392h1v1h-1zM877 265h1v1h-1zM889 239h1v1h-1zM906 196h1v1h-1zM1137 196h1v1h-1zM324 438h1v1h-1zM620 438h1v1h-1zM912 176h1v1h-1zM1117 176h1v1h-1zM892 234h1v1h-1zM876 267h1v1h-1zM888 241h1v1h-1zM872 274h1v1h-1zM868 281h1v1h-1zM914 169h1v1h-1zM1113 169h1v1h-1zM899 217h1v1h-1zM886 247h1v1h-1zM882 254h1v1h-1zM279 377h1v1h-1zM646 377h1v1h-1zM881 257h1v1h-1zM267 359h1v1h-1zM655 359h1v1h-1zM877 264h1v1h-1zM892 233h1v1h-1zM876 266h1v1h-1zM908 188h1v1h-1zM1125 188h2v1h-2zM872 273h1v1h-1zM868 280h1v1h-1zM905 198h1v1h-1zM1139 198h1v1h-1zM317 426h1v1h-1zM624 426h1v1h-1zM899 216h1v1h-1zM871 275h1v1h-1zM884 250h1v1h-1zM896 224h1v1h-1zM867 282h1v1h-1zM866 284h1v1h-1zM905 200h1v1h-1zM1141 200h2v1h-2zM333 449h1v1h-1zM615 449h1v1h-1zM914 171h1v1h-1zM1114 171h1v1h-1zM889 240h1v1h-1zM269 362h1v1h-1zM653 362h1v1h-1zM888 242h1v1h-1zM899 218h1v1h-1z" fill="#ffff00"/><path d="M271 383h1v1h-1zM627 383h1v1h-1zM413 499h1v1h-1zM577 499h3v1h-3zM416 503h1v1h-1zM493 503h12v1h-12zM512 503h2v1h-2zM529 503h4v1h-4zM564 503h2v1h-2zM19 325h1v1h-1zM181 325h1v1h-1zM648 325h1v1h-1zM736 325h1v1h-1zM845 325h1v1h-1zM417 504h1v1h-1zM481 504h4v1h-4zM489 504h4v1h-4zM505 504h7v1h-7zM533 504h3v1h-3zM562 504h2v1h-2zM49 301h1v1h-1zM114 301h6v1h-6zM152 301h1v1h-1zM705 301h3v1h-3zM852 301h1v1h-1zM41 307h2v1h-2zM157 307h1v1h-1zM659 307h2v1h-2zM716 307h1v1h-1zM850 307h1v1h-1zM878 219h1v1h-1zM1147 219h2v1h-2zM1164 219h2v1h-2zM278 397h1v1h-1zM623 397h1v1h-1zM321 455h1v1h-1zM374 455h3v1h-3zM380 455h2v1h-2zM604 455h1v1h-1zM415 502h1v1h-1zM514 502h3v1h-3zM525 502h4v1h-4zM566 502h3v1h-3zM52 298h1v1h-1zM109 298h2v1h-2zM124 298h1v1h-1zM150 298h1v1h-1zM853 298h1v1h-1zM883 205h1v1h-1zM1128 205h2v1h-2zM414 501h1v1h-1zM517 501h8v1h-8zM569 501h4v1h-4zM28 317h1v1h-1zM170 317h3v1h-3zM652 317h1v1h-1zM725 317h2v1h-2zM847 317h1v1h-1zM322 456h1v1h-1zM329 456h12v1h-12zM372 456h2v1h-2zM382 456h2v1h-2zM604 456h1v1h-1zM877 220h1v1h-1zM1149 220h8v1h-8zM1161 220h3v1h-3zM15 328h1v1h-1zM184 328h2v1h-2zM647 328h1v1h-1zM739 328h1v1h-1zM844 328h1v1h-1zM202 342h1v1h-1zM204 342h1v1h-1zM244 342h2v1h-2zM640 342h1v1h-1zM752 342h1v1h-1zM838 342h1v1h-1zM883 206h1v1h-1zM1130 206h2v1h-2zM306 436h1v1h-1zM610 436h1v1h-1zM879 215h1v1h-1zM1142 215h1v1h-1zM1174 215h1v1h-1zM27 318h1v1h-1zM173 318h3v1h-3zM652 318h1v1h-1zM727 318h1v1h-1zM847 318h1v1h-1zM31 314h1v1h-1zM165 314h2v1h-2zM654 314h1v1h-1zM722 314h1v1h-1zM848 314h1v1h-1zM9 332h2v1h-2zM189 332h1v1h-1zM645 332h1v1h-1zM742 332h1v1h-1zM843 332h1v1h-1zM256 352h1v1h-1zM636 352h1v1h-1zM57 290h1v1h-1zM76 290h2v1h-2zM88 290h2v1h-2zM93 290h4v1h-4zM855 290h1v1h-1zM921 142h1v1h-1zM987 142h1v1h-1zM1002 142h2v1h-2zM1074 142h1v1h-1zM400 482h1v1h-1zM593 482h1v1h-1zM407 492h1v1h-1zM586 492h1v1h-1zM886 195h1v1h-1zM1120 195h1v1h-1zM57 291h1v1h-1zM78 291h10v1h-10zM97 291h4v1h-4zM855 291h1v1h-1zM4 337h1v1h-1zM195 337h1v1h-1zM211 337h1v1h-1zM226 337h2v1h-2zM642 337h1v1h-1zM746 337h1v1h-1zM841 337h1v1h-1zM866 253h1v1h-1zM251 346h1v1h-1zM638 346h1v1h-1zM757 346h1v1h-1zM836 346h1v1h-1zM914 150h1v1h-1zM1082 150h1v1h-1zM945 102h2v1h-2zM958 102h1v1h-1zM927 129h1v1h-1zM976 129h1v1h-1zM1016 129h1v1h-1zM1063 129h1v1h-1zM357 462h3v1h-3zM387 462h1v1h-1zM602 462h1v1h-1zM926 130h1v1h-1zM977 130h1v1h-1zM1016 130h1v1h-1zM1064 130h1v1h-1zM942 104h2v1h-2zM960 104h1v1h-1zM919 145h1v1h-1zM991 145h2v1h-2zM996 145h2v1h-2zM1078 145h2v1h-2zM43 306h1v1h-1zM156 306h1v1h-1zM661 306h4v1h-4zM677 306h4v1h-4zM715 306h1v1h-1zM851 306h1v1h-1zM255 350h1v1h-1zM637 350h1v1h-1zM761 350h2v1h-2zM773 350h8v1h-8zM785 350h15v1h-15zM818 350h11v1h-11zM425 512h2v1h-2zM446 512h2v1h-2zM59 287h5v1h-5zM856 287h1v1h-1zM201 341h1v1h-1zM205 341h2v1h-2zM241 341h3v1h-3zM640 341h1v1h-1zM751 341h1v1h-1zM838 341h1v1h-1zM53 296h1v1h-1zM107 296h1v1h-1zM127 296h2v1h-2zM149 296h1v1h-1zM853 296h1v1h-1zM265 369h1v1h-1zM631 369h1v1h-1zM279 400h1v1h-1zM622 400h1v1h-1zM17 326h2v1h-2zM182 326h1v1h-1zM648 326h1v1h-1zM737 326h1v1h-1zM845 326h1v1h-1zM25 319h2v1h-2zM176 319h1v1h-1zM651 319h1v1h-1zM728 319h1v1h-1zM847 319h1v1h-1zM404 488h1v1h-1zM589 488h1v1h-1zM298 424h1v1h-1zM615 424h1v1h-1zM870 241h1v1h-1zM884 202h1v1h-1zM1125 202h1v1h-1zM249 345h2v1h-2zM639 345h1v1h-1zM756 345h1v1h-1zM836 345h1v1h-1zM921 143h1v1h-1zM988 143h1v1h-1zM1000 143h2v1h-2zM1075 143h1v1h-1zM37 310h2v1h-2zM160 310h1v1h-1zM657 310h1v1h-1zM718 310h1v1h-1zM849 310h1v1h-1zM884 203h1v1h-1zM1126 203h1v1h-1zM433 514h4v1h-4zM441 514h3v1h-3zM36 311h1v1h-1zM161 311h2v1h-2zM656 311h1v1h-1zM719 311h1v1h-1zM849 311h1v1h-1zM878 217h1v1h-1zM1144 217h1v1h-1zM1172 217h1v1h-1zM253 348h1v1h-1zM638 348h1v1h-1zM759 348h1v1h-1zM802 348h14v1h-14zM832 348h2v1h-2zM265 368h1v1h-1zM631 368h1v1h-1zM256 351h1v1h-1zM637 351h1v1h-1zM763 351h10v1h-10zM947 101h1v1h-1zM957 101h1v1h-1zM885 198h1v1h-1zM1122 198h1v1h-1zM917 146h2v1h-2zM993 146h3v1h-3zM1080 146h1v1h-1zM931 120h1v1h-1zM968 120h1v1h-1zM1025 120h2v1h-2zM1054 120h2v1h-2zM272 385h1v1h-1zM626 385h1v1h-1zM418 506h1v1h-1zM455 506h2v1h-2zM465 506h4v1h-4zM537 506h1v1h-1zM558 506h2v1h-2zM933 117h1v1h-1zM966 117h1v1h-1zM1029 117h1v1h-1zM1048 117h2v1h-2zM45 304h2v1h-2zM154 304h1v1h-1zM669 304h4v1h-4zM685 304h4v1h-4zM696 304h2v1h-2zM712 304h1v1h-1zM851 304h1v1h-1zM280 402h1v1h-1zM621 402h1v1h-1zM880 212h1v1h-1zM1138 212h2v1h-2zM290 415h1v1h-1zM617 415h1v1h-1zM266 371h1v1h-1zM630 371h1v1h-1zM254 349h1v1h-1zM637 349h1v1h-1zM760 349h1v1h-1zM781 349h4v1h-4zM800 349h2v1h-2zM816 349h2v1h-2zM829 349h3v1h-3zM880 213h1v1h-1zM1140 213h1v1h-1zM282 406h1v1h-1zM620 406h1v1h-1zM869 244h1v1h-1zM924 138h1v1h-1zM984 138h1v1h-1zM1009 138h2v1h-2zM1070 138h1v1h-1zM933 116h1v1h-1zM966 116h1v1h-1zM1029 116h1v1h-1zM1047 116h1v1h-1zM258 355h1v1h-1zM635 355h1v1h-1zM398 478h1v1h-1zM595 478h1v1h-1zM876 224h1v1h-1zM419 507h1v1h-1zM453 507h2v1h-2zM457 507h8v1h-8zM538 507h1v1h-1zM556 507h2v1h-2zM951 98h5v1h-5zM44 305h1v1h-1zM155 305h1v1h-1zM665 305h4v1h-4zM673 305h4v1h-4zM681 305h4v1h-4zM689 305h7v1h-7zM713 305h2v1h-2zM851 305h1v1h-1zM929 124h1v1h-1zM971 124h1v1h-1zM1020 124h1v1h-1zM1059 124h1v1h-1zM932 118h1v1h-1zM967 118h1v1h-1zM1028 118h1v1h-1zM1050 118h2v1h-2zM926 132h1v1h-1zM979 132h1v1h-1zM1014 132h1v1h-1zM1065 132h1v1h-1zM417 505h1v1h-1zM469 505h12v1h-12zM485 505h4v1h-4zM536 505h1v1h-1zM560 505h2v1h-2zM6 335h1v1h-1zM192 335h1v1h-1zM214 335h3v1h-3zM221 335h3v1h-3zM643 335h1v1h-1zM745 335h1v1h-1zM842 335h1v1h-1zM47 303h1v1h-1zM154 303h1v1h-1zM698 303h3v1h-3zM710 303h2v1h-2zM852 303h1v1h-1zM928 126h1v1h-1zM973 126h1v1h-1zM1018 126h1v1h-1zM1061 126h1v1h-1zM935 113h1v1h-1zM964 113h1v1h-1zM1032 113h1v1h-1zM1042 113h2v1h-2zM274 390h1v1h-1zM625 390h1v1h-1zM937 110h1v1h-1zM963 110h1v1h-1zM1035 110h2v1h-2zM53 297h1v1h-1zM108 297h1v1h-1zM125 297h2v1h-2zM149 297h1v1h-1zM853 297h1v1h-1zM349 460h4v1h-4zM362 460h3v1h-3zM386 460h1v1h-1zM603 460h1v1h-1zM893 179h1v1h-1zM1109 179h1v1h-1zM892 181h1v1h-1zM1110 181h1v1h-1zM353 461h4v1h-4zM360 461h2v1h-2zM386 461h1v1h-1zM602 461h1v1h-1zM890 185h1v1h-1zM1113 185h1v1h-1zM925 134h1v1h-1zM981 134h1v1h-1zM1013 134h1v1h-1zM1067 134h1v1h-1zM300 427h1v1h-1zM614 427h1v1h-1zM878 218h1v1h-1zM1145 218h2v1h-2zM1166 218h6v1h-6zM23 321h1v1h-1zM178 321h1v1h-1zM650 321h1v1h-1zM731 321h1v1h-1zM846 321h1v1h-1zM301 428h1v1h-1zM613 428h1v1h-1zM323 457h6v1h-6zM341 457h3v1h-3zM370 457h2v1h-2zM384 457h1v1h-1zM604 457h1v1h-1zM940 105h2v1h-2zM960 105h1v1h-1zM423 510h1v1h-1zM449 510h2v1h-2zM3 338h1v1h-1zM196 338h2v1h-2zM209 338h2v1h-2zM228 338h2v1h-2zM642 338h1v1h-1zM747 338h1v1h-1zM840 338h1v1h-1zM58 289h1v1h-1zM66 289h10v1h-10zM90 289h3v1h-3zM855 289h1v1h-1zM7 334h1v1h-1zM191 334h1v1h-1zM217 334h4v1h-4zM644 334h1v1h-1zM744 334h1v1h-1zM842 334h1v1h-1zM936 111h1v1h-1zM963 111h1v1h-1zM1034 111h1v1h-1zM1037 111h3v1h-3zM413 500h1v1h-1zM573 500h4v1h-4zM262 361h1v1h-1zM633 361h1v1h-1zM277 396h1v1h-1zM623 396h1v1h-1zM872 234h1v1h-1zM278 398h1v1h-1zM622 398h1v1h-1zM281 403h1v1h-1zM621 403h1v1h-1zM402 485h1v1h-1zM591 485h1v1h-1zM879 214h1v1h-1zM1141 214h1v1h-1zM1175 214h1v1h-1zM924 136h1v1h-1zM982 136h1v1h-1zM1012 136h1v1h-1zM1069 136h1v1h-1zM306 435h1v1h-1zM611 435h1v1h-1zM260 357h1v1h-1zM635 357h1v1h-1zM30 315h1v1h-1zM167 315h1v1h-1zM654 315h1v1h-1zM723 315h1v1h-1zM848 315h1v1h-1zM40 308h1v1h-1zM158 308h1v1h-1zM658 308h1v1h-1zM717 308h1v1h-1zM850 308h1v1h-1zM310 443h1v1h-1zM608 443h1v1h-1zM866 252h1v1h-1zM39 309h1v1h-1zM159 309h1v1h-1zM658 309h1v1h-1zM717 309h1v1h-1zM850 309h1v1h-1zM269 380h1v1h-1zM628 380h1v1h-1zM311 444h1v1h-1zM608 444h1v1h-1zM931 121h1v1h-1zM969 121h1v1h-1zM1024 121h1v1h-1zM1056 121h1v1h-1zM267 374h1v1h-1zM630 374h1v1h-1zM934 115h1v1h-1zM965 115h1v1h-1zM1030 115h1v1h-1zM1045 115h2v1h-2zM925 135h1v1h-1zM981 135h1v1h-1zM1012 135h1v1h-1zM1068 135h1v1h-1zM399 480h1v1h-1zM594 480h1v1h-1zM279 399h1v1h-1zM622 399h1v1h-1zM34 312h2v1h-2zM163 312h1v1h-1zM656 312h1v1h-1zM720 312h1v1h-1zM849 312h1v1h-1zM16 327h1v1h-1zM183 327h1v1h-1zM647 327h1v1h-1zM738 327h1v1h-1zM845 327h1v1h-1zM424 511h1v1h-1zM448 511h1v1h-1zM55 294h1v1h-1zM105 294h1v1h-1zM132 294h2v1h-2zM145 294h3v1h-3zM854 294h1v1h-1zM870 240h1v1h-1zM248 344h1v1h-1zM639 344h1v1h-1zM755 344h1v1h-1zM837 344h1v1h-1zM923 139h1v1h-1zM985 139h1v1h-1zM1008 139h1v1h-1zM1071 139h1v1h-1zM881 211h1v1h-1zM1136 211h2v1h-2zM403 487h1v1h-1zM590 487h1v1h-1zM200 340h1v1h-1zM207 340h1v1h-1zM233 340h8v1h-8zM641 340h1v1h-1zM749 340h2v1h-2zM839 340h1v1h-1zM409 494h1v1h-1zM585 494h1v1h-1zM308 438h1v1h-1zM610 438h1v1h-1zM938 107h1v1h-1zM961 107h1v1h-1zM317 450h1v1h-1zM606 450h1v1h-1zM437 515h4v1h-4zM56 293h1v1h-1zM104 293h1v1h-1zM134 293h3v1h-3zM141 293h4v1h-4zM854 293h1v1h-1zM858 279h1v1h-1zM273 387h1v1h-1zM626 387h1v1h-1zM899 167h5v1h-5zM1095 167h1v1h-1zM421 509h2v1h-2zM451 509h1v1h-1zM541 509h12v1h-12zM48 302h1v1h-1zM153 302h1v1h-1zM701 302h4v1h-4zM708 302h2v1h-2zM852 302h1v1h-1zM936 112h1v1h-1zM964 112h1v1h-1zM1033 112h1v1h-1zM1040 112h2v1h-2zM280 401h1v1h-1zM622 401h1v1h-1zM909 156h1v1h-1zM1086 156h1v1h-1zM299 426h1v1h-1zM614 426h1v1h-1zM906 161h1v1h-1zM1089 161h1v1h-1zM869 243h1v1h-1zM50 300h1v1h-1zM112 300h2v1h-2zM120 300h2v1h-2zM152 300h1v1h-1zM852 300h1v1h-1zM258 354h1v1h-1zM636 354h1v1h-1zM320 454h1v1h-1zM377 454h3v1h-3zM605 454h1v1h-1zM389 465h1v1h-1zM600 465h1v1h-1zM389 464h1v1h-1zM601 464h1v1h-1zM198 339h2v1h-2zM208 339h1v1h-1zM230 339h3v1h-3zM641 339h1v1h-1zM748 339h1v1h-1zM840 339h1v1h-1zM882 208h1v1h-1zM1133 208h1v1h-1zM29 316h1v1h-1zM168 316h2v1h-2zM653 316h1v1h-1zM724 316h1v1h-1zM847 316h1v1h-1zM309 441h1v1h-1zM609 441h1v1h-1zM410 496h1v1h-1zM584 496h1v1h-1zM265 370h1v1h-1zM631 370h1v1h-1zM949 99h2v1h-2zM956 99h1v1h-1zM427 513h6v1h-6zM444 513h2v1h-2zM885 200h1v1h-1zM1124 200h1v1h-1zM930 122h1v1h-1zM970 122h1v1h-1zM1023 122h1v1h-1zM1057 122h1v1h-1zM274 389h1v1h-1zM625 389h1v1h-1zM897 171h1v1h-1zM1102 171h2v1h-2zM318 452h1v1h-1zM605 452h1v1h-1zM890 184h1v1h-1zM1113 184h1v1h-1zM925 133h1v1h-1zM980 133h1v1h-1zM1014 133h1v1h-1zM1066 133h1v1h-1zM51 299h1v1h-1zM111 299h1v1h-1zM122 299h2v1h-2zM151 299h1v1h-1zM853 299h1v1h-1zM888 190h1v1h-1zM1117 190h1v1h-1zM882 207h1v1h-1zM1132 207h1v1h-1zM861 269h1v1h-1zM889 188h1v1h-1zM1116 188h1v1h-1zM267 373h1v1h-1zM630 373h1v1h-1zM284 408h1v1h-1zM620 408h1v1h-1zM32 313h2v1h-2zM164 313h1v1h-1zM655 313h1v1h-1zM721 313h1v1h-1zM848 313h1v1h-1zM399 481h1v1h-1zM593 481h1v1h-1zM402 486h1v1h-1zM590 486h1v1h-1zM291 416h1v1h-1zM617 416h1v1h-1zM5 336h1v1h-1zM193 336h2v1h-2zM212 336h2v1h-2zM224 336h2v1h-2zM643 336h1v1h-1zM745 336h1v1h-1zM841 336h1v1h-1zM397 477h1v1h-1zM595 477h1v1h-1zM927 128h1v1h-1zM975 128h1v1h-1zM1017 128h1v1h-1zM1062 128h1v1h-1zM909 157h1v1h-1zM1087 157h1v1h-1zM908 158h1v1h-1zM1088 158h1v1h-1zM881 210h1v1h-1zM1135 210h1v1h-1zM390 466h1v1h-1zM600 466h1v1h-1zM305 434h1v1h-1zM611 434h1v1h-1zM860 272h1v1h-1zM269 379h1v1h-1zM628 379h1v1h-1zM264 367h1v1h-1zM632 367h1v1h-1zM271 384h1v1h-1zM627 384h1v1h-1zM398 479h1v1h-1zM594 479h1v1h-1zM420 508h1v1h-1zM452 508h1v1h-1zM539 508h2v1h-2zM553 508h3v1h-3zM923 140h1v1h-1zM985 140h1v1h-1zM1006 140h2v1h-2zM1072 140h1v1h-1zM346 459h3v1h-3zM365 459h3v1h-3zM385 459h1v1h-1zM603 459h1v1h-1zM872 236h1v1h-1zM252 347h1v1h-1zM638 347h1v1h-1zM758 347h1v1h-1zM834 347h2v1h-2zM307 437h1v1h-1zM610 437h1v1h-1zM879 216h1v1h-1zM1143 216h1v1h-1zM1173 216h1v1h-1zM400 483h1v1h-1zM592 483h1v1h-1zM270 382h1v1h-1zM627 382h1v1h-1zM408 493h1v1h-1zM586 493h1v1h-1zM401 484h1v1h-1zM592 484h1v1h-1zM411 497h1v1h-1zM582 497h2v1h-2zM932 119h1v1h-1zM968 119h1v1h-1zM1027 119h1v1h-1zM1052 119h2v1h-2zM929 125h1v1h-1zM972 125h1v1h-1zM1019 125h1v1h-1zM1060 125h1v1h-1zM911 154h1v1h-1zM1085 154h1v1h-1zM910 155h1v1h-1zM1086 155h1v1h-1zM298 425h1v1h-1zM614 425h1v1h-1zM896 174h1v1h-1zM1106 174h1v1h-1zM907 160h1v1h-1zM1089 160h1v1h-1zM926 131h1v1h-1zM978 131h1v1h-1zM1015 131h1v1h-1zM1065 131h1v1h-1zM863 262h1v1h-1zM288 412h1v1h-1zM618 412h1v1h-1zM13 329h2v1h-2zM186 329h2v1h-2zM646 329h1v1h-1zM740 329h1v1h-1zM844 329h1v1h-1zM388 463h1v1h-1zM601 463h1v1h-1zM24 320h1v1h-1zM177 320h1v1h-1zM651 320h1v1h-1zM729 320h2v1h-2zM846 320h1v1h-1zM12 330h1v1h-1zM188 330h1v1h-1zM646 330h1v1h-1zM741 330h1v1h-1zM844 330h1v1h-1zM393 470h1v1h-1zM598 470h1v1h-1zM313 446h1v1h-1zM607 446h1v1h-1zM930 123h1v1h-1zM970 123h1v1h-1zM1021 123h2v1h-2zM1058 123h1v1h-1zM858 281h1v1h-1zM203 343h1v1h-1zM246 343h2v1h-2zM639 343h1v1h-1zM753 343h2v1h-2zM837 343h1v1h-1zM875 226h1v1h-1zM317 451h1v1h-1zM605 451h1v1h-1zM861 268h1v1h-1zM266 372h1v1h-1zM630 372h1v1h-1zM262 362h1v1h-1zM633 362h1v1h-1zM58 288h1v1h-1zM64 288h2v1h-2zM856 288h1v1h-1zM395 473h1v1h-1zM597 473h1v1h-1zM275 391h1v1h-1zM625 391h1v1h-1zM344 458h2v1h-2zM368 458h2v1h-2zM384 458h1v1h-1zM603 458h1v1h-1zM881 209h1v1h-1zM1134 209h1v1h-1zM297 423h1v1h-1zM615 423h1v1h-1zM11 331h1v1h-1zM189 331h1v1h-1zM645 331h1v1h-1zM741 331h1v1h-1zM844 331h1v1h-1zM301 429h1v1h-1zM613 429h1v1h-1zM861 271h1v1h-1zM315 448h1v1h-1zM606 448h1v1h-1zM8 333h1v1h-1zM190 333h1v1h-1zM644 333h1v1h-1zM743 333h1v1h-1zM843 333h1v1h-1zM316 449h1v1h-1zM606 449h1v1h-1zM54 295h1v1h-1zM106 295h1v1h-1zM129 295h3v1h-3zM148 295h1v1h-1zM854 295h1v1h-1zM865 255h1v1h-1zM293 418h1v1h-1zM617 418h1v1h-1zM913 151h1v1h-1zM1083 151h1v1h-1zM872 235h1v1h-1zM898 169h1v1h-1zM1098 169h2v1h-2zM281 404h1v1h-1zM621 404h1v1h-1zM282 405h1v1h-1zM620 405h1v1h-1zM924 137h1v1h-1zM983 137h1v1h-1zM1011 137h1v1h-1zM1069 137h1v1h-1zM257 353h1v1h-1zM636 353h1v1h-1zM860 274h1v1h-1zM260 358h1v1h-1zM634 358h1v1h-1zM920 144h1v1h-1zM989 144h2v1h-2zM998 144h2v1h-2zM1076 144h2v1h-2zM270 381h1v1h-1zM628 381h1v1h-1zM405 489h1v1h-1zM588 489h1v1h-1zM267 375h1v1h-1zM629 375h1v1h-1zM896 173h1v1h-1zM1105 173h1v1h-1zM863 261h1v1h-1zM56 292h1v1h-1zM101 292h3v1h-3zM137 292h4v1h-4zM854 292h1v1h-1zM912 153h1v1h-1zM1084 153h1v1h-1zM904 166h1v1h-1zM1093 166h2v1h-2zM871 237h1v1h-1zM891 183h1v1h-1zM1112 183h1v1h-1zM907 159h1v1h-1zM1088 159h1v1h-1zM888 189h1v1h-1zM1116 189h1v1h-1zM303 431h1v1h-1zM612 431h1v1h-1zM858 280h1v1h-1zM938 108h1v1h-1zM962 108h1v1h-1zM899 168h1v1h-1zM1096 168h2v1h-2zM875 225h1v1h-1zM895 175h1v1h-1zM1107 175h1v1h-1zM891 182h1v1h-1zM1111 182h1v1h-1zM259 356h1v1h-1zM635 356h1v1h-1zM394 472h1v1h-1zM597 472h1v1h-1zM857 282h1v1h-1zM319 453h1v1h-1zM605 453h1v1h-1zM273 388h1v1h-1zM625 388h1v1h-1zM889 186h1v1h-1zM1114 186h1v1h-1zM887 191h1v1h-1zM1117 191h1v1h-1zM887 192h1v1h-1zM1118 192h1v1h-1zM861 270h1v1h-1zM21 323h1v1h-1zM180 323h1v1h-1zM649 323h1v1h-1zM733 323h2v1h-2zM846 323h1v1h-1zM865 254h1v1h-1zM396 474h1v1h-1zM596 474h1v1h-1zM292 417h1v1h-1zM617 417h1v1h-1zM905 164h1v1h-1zM1091 164h1v1h-1zM286 410h1v1h-1zM619 410h1v1h-1zM860 273h1v1h-1zM268 376h1v1h-1zM629 376h1v1h-1zM294 419h1v1h-1zM616 419h1v1h-1zM928 127h1v1h-1zM974 127h1v1h-1zM1018 127h1v1h-1zM1061 127h1v1h-1zM912 152h1v1h-1zM1084 152h1v1h-1zM263 364h1v1h-1zM633 364h1v1h-1zM20 324h1v1h-1zM181 324h1v1h-1zM649 324h1v1h-1zM735 324h1v1h-1zM845 324h1v1h-1zM312 445h1v1h-1zM607 445h1v1h-1zM884 201h1v1h-1zM1125 201h1v1h-1zM877 221h1v1h-1zM1157 221h4v1h-4zM863 263h1v1h-1zM906 162h1v1h-1zM1090 162h1v1h-1zM264 366h1v1h-1zM632 366h1v1h-1zM871 239h1v1h-1zM285 409h1v1h-1zM619 409h1v1h-1zM394 471h1v1h-1zM598 471h1v1h-1zM22 322h1v1h-1zM179 322h1v1h-1zM650 322h1v1h-1zM732 322h1v1h-1zM846 322h1v1h-1zM875 227h1v1h-1zM862 265h1v1h-1zM894 177h1v1h-1zM1108 177h1v1h-1zM857 284h1v1h-1zM874 229h1v1h-1zM391 467h1v1h-1zM599 467h1v1h-1zM392 468h1v1h-1zM599 468h1v1h-1zM302 430h1v1h-1zM612 430h1v1h-1zM865 256h1v1h-1zM922 141h1v1h-1zM986 141h1v1h-1zM1004 141h2v1h-2zM1073 141h1v1h-1zM261 359h1v1h-1zM634 359h1v1h-1zM934 114h1v1h-1zM965 114h1v1h-1zM1031 114h1v1h-1zM1044 114h1v1h-1zM263 363h1v1h-1zM633 363h1v1h-1zM873 232h1v1h-1zM892 180h1v1h-1zM1110 180h1v1h-1zM283 407h1v1h-1zM620 407h1v1h-1zM860 275h1v1h-1zM405 490h1v1h-1zM588 490h1v1h-1zM261 360h1v1h-1zM634 360h1v1h-1zM948 100h1v1h-1zM957 100h1v1h-1zM916 147h1v1h-1zM1080 147h1v1h-1zM864 258h1v1h-1zM296 421h1v1h-1zM616 421h1v1h-1zM898 170h1v1h-1zM1100 170h2v1h-2zM263 365h1v1h-1zM632 365h1v1h-1zM871 238h1v1h-1zM397 476h1v1h-1zM595 476h1v1h-1zM304 433h1v1h-1zM611 433h1v1h-1zM868 246h1v1h-1zM859 277h1v1h-1zM937 109h1v1h-1zM962 109h1v1h-1zM876 222h1v1h-1zM314 447h1v1h-1zM607 447h1v1h-1zM862 264h1v1h-1zM894 176h1v1h-1zM1108 176h1v1h-1zM275 392h1v1h-1zM624 392h1v1h-1zM867 248h1v1h-1zM857 283h1v1h-1zM287 411h1v1h-1zM619 411h1v1h-1zM269 378h1v1h-1zM628 378h1v1h-1zM874 228h1v1h-1zM939 106h1v1h-1zM961 106h1v1h-1zM277 395h1v1h-1zM623 395h1v1h-1zM862 267h1v1h-1zM887 193h1v1h-1zM1118 193h1v1h-1zM886 194h1v1h-1zM1119 194h1v1h-1zM289 414h1v1h-1zM618 414h1v1h-1zM396 475h1v1h-1zM596 475h1v1h-1zM915 148h1v1h-1zM1081 148h1v1h-1zM873 231h1v1h-1zM268 377h1v1h-1zM629 377h1v1h-1zM409 495h1v1h-1zM584 495h1v1h-1zM309 440h1v1h-1zM609 440h1v1h-1zM864 257h1v1h-1zM412 498h1v1h-1zM580 498h2v1h-2zM295 420h1v1h-1zM616 420h1v1h-1zM276 393h1v1h-1zM624 393h1v1h-1zM304 432h1v1h-1zM612 432h1v1h-1zM868 245h1v1h-1zM859 276h1v1h-1zM886 196h1v1h-1zM1121 196h1v1h-1zM905 163h1v1h-1zM1090 163h1v1h-1zM406 491h1v1h-1zM587 491h1v1h-1zM310 442h1v1h-1zM608 442h1v1h-1zM897 172h1v1h-1zM1104 172h1v1h-1zM296 422h1v1h-1zM615 422h1v1h-1zM864 260h1v1h-1zM867 247h1v1h-1zM904 165h1v1h-1zM1092 165h1v1h-1zM914 149h1v1h-1zM1082 149h1v1h-1zM883 204h1v1h-1zM1127 204h1v1h-1zM862 266h1v1h-1zM276 394h1v1h-1zM624 394h1v1h-1zM885 199h1v1h-1zM1123 199h1v1h-1zM289 413h1v1h-1zM618 413h1v1h-1zM857 285h1v1h-1zM874 230h1v1h-1zM392 469h1v1h-1zM599 469h1v1h-1zM308 439h1v1h-1zM609 439h1v1h-1zM873 233h1v1h-1zM885 197h1v1h-1zM1121 197h1v1h-1zM944 103h1v1h-1zM959 103h1v1h-1zM864 259h1v1h-1zM893 178h1v1h-1zM1109 178h1v1h-1zM859 278h1v1h-1zM876 223h1v1h-1zM856 286h1v1h-1zM867 249h1v1h-1zM866 251h1v1h-1zM889 187h1v1h-1zM1115 187h1v1h-1zM272 386h1v1h-1zM626 386h1v1h-1zM869 242h1v1h-1zM866 250h1v1h-1z" fill="#ff0000"/><path d="M65 278h1v2h-1zM694 300h1v1h-1zM89 306h1v1h-1zM129 299h1v1h-1zM925 87h1v3h-1zM1052 130h1v1h-1zM957 121h1v4h-1zM842 319h1v4h-1zM1042 115h1v2h-1zM611 384h1v4h-1zM846 287h1v9h-1zM648 305h1v1h-1zM325 474h1v2h-1zM105 292h1v1h-1zM586 479h1v1h-1zM826 348h1v1h-1zM483 503h1v1h-1zM1056 135h1v3h-1zM348 456h1v3h-1zM851 256h1v6h-1zM742 354h1v1h-1zM10 319h1v1h-1zM855 230h1v7h-1zM888 179h1v1h-1zM1149 220h1v2h-1zM617 358h1v4h-1zM912 127h1v3h-1zM860 198h1v6h-1zM845 296h1v8h-1zM154 305h1v3h-1zM999 131h1v1h-1zM1060 146h1v3h-1zM378 457h1v3h-1zM903 162h1v4h-1zM994 138h1v2h-1zM615 367h1v5h-1zM602 434h1v4h-1zM865 171h1v4h-1zM269 405h1v4h-1zM25 312h1v1h-1zM272 417h1v3h-1zM1145 226h1v2h-1zM716 313h1v2h-1zM667 309h1v1h-1zM607 406h1v5h-1zM131 298h1v1h-1zM719 319h1v3h-1zM1155 212h1v1h-1zM589 474h1v2h-1zM60 274h1v1h-1zM1121 218h1v2h-1zM164 331h1v2h-1zM899 175h1v3h-1zM907 146h1v4h-1zM127 300h1v1h-1zM421 517h1v2h-1zM547 514h1v1h-1zM1125 225h1v2h-1zM991 144h1v3h-1zM610 388h1v6h-1zM1048 127h1v1h-1zM924 90h1v4h-1zM392 494h1v3h-1zM644 302h1v1h-1zM146 291h1v1h-1zM265 389h1v4h-1zM624 327h1v3h-1zM960 132h1v4h-1zM850 262h1v6h-1zM911 130h1v4h-1zM935 78h1v1h-1zM1148 222h1v1h-1zM268 401h1v4h-1zM817 351h1v1h-1zM767 350h1v1h-1zM902 166h1v3h-1zM1110 194h1v2h-1zM134 294h1v1h-1zM342 472h1v1h-1zM859 204h1v7h-1zM918 110h1v2h-1zM708 299h1v2h-1zM949 97h1v2h-1zM247 356h1v1h-1zM601 438h1v4h-1zM864 175h1v4h-1zM709 301h1v2h-1zM1144 228h1v2h-1zM712 306h1v2h-1zM66 280h1v2h-1zM836 339h1v3h-1zM351 448h1v2h-1zM160 322h1v2h-1zM569 491h1v1h-1zM320 459h1v4h-1zM447 502h1v1h-1zM953 107h1v3h-1zM619 348h1v5h-1zM550 514h1v1h-1zM915 117h1v3h-1zM1044 119h1v2h-1zM990 147h1v2h-1zM115 293h1v1h-1zM323 471h1v2h-1zM448 502h1v1h-1zM1054 132h1v1h-1zM923 94h1v3h-1zM327 477h1v1h-1zM1055 133h1v2h-1zM878 171h1v1h-1zM32 300h1v1h-1zM289 450h1v1h-1zM281 445h1v2h-1zM435 504h1v1h-1zM596 456h1v4h-1zM868 163h1v1h-1zM1061 149h1v2h-1zM1174 206h1v1h-1zM986 154h1v2h-1zM282 447h1v3h-1zM820 351h1v1h-1zM623 330h1v4h-1zM931 75h1v1h-1zM981 161h1v1h-1zM473 508h1v1h-1zM963 143h1v3h-1zM849 268h1v6h-1zM910 134h1v4h-1zM557 507h1v1h-1zM1116 205h1v3h-1zM242 352h1v1h-1zM341 473h1v2h-1zM224 334h1v1h-1zM593 465h1v2h-1zM271 413h1v4h-1zM1009 115h1v2h-1zM718 317h1v2h-1zM966 151h1v3h-1zM927 81h1v2h-1zM858 211h1v6h-1zM573 487h1v1h-1zM208 331h1v1h-1zM461 511h1v1h-1zM759 354h1v1h-1zM863 179h1v6h-1zM451 503h1v1h-1zM349 453h1v3h-1zM1127 228h1v1h-1zM393 497h1v4h-1zM170 340h1v1h-1zM653 308h1v1h-1zM605 417h1v6h-1zM88 307h1v2h-1zM725 332h1v2h-1zM914 120h1v3h-1zM1028 105h1v1h-1zM857 217h1v7h-1zM77 296h1v2h-1zM204 337h1v2h-1zM989 149h1v2h-1zM726 334h1v2h-1zM729 339h1v2h-1zM905 154h1v4h-1zM264 385h1v4h-1zM680 303h1v1h-1zM874 166h1v3h-1zM921 100h1v4h-1zM31 301h1v2h-1zM1098 178h1v1h-1zM1105 185h1v2h-1zM149 293h1v2h-1zM740 353h1v1h-1zM1016 108h1v1h-1zM867 164h1v3h-1zM1108 190h1v2h-1zM839 330h1v3h-1zM361 442h1v1h-1zM99 293h1v1h-1zM622 334h1v5h-1zM985 156h1v2h-1zM46 287h1v1h-1zM937 80h1v1h-1zM1109 192h1v2h-1zM948 95h1v2h-1zM710 303h1v2h-1zM930 76h1v2h-1zM357 444h1v1h-1zM812 350h1v1h-1zM248 357h1v1h-1zM27 309h1v2h-1zM909 138h1v4h-1zM238 349h1v1h-1zM249 358h1v1h-1zM973 160h1v1h-1zM804 351h1v1h-1zM159 319h1v3h-1zM592 467h1v2h-1zM22 315h1v1h-1zM1008 117h1v1h-1zM853 243h1v7h-1zM926 83h1v4h-1zM843 313h1v6h-1zM38 296h1v1h-1zM58 274h1v1h-1zM695 300h1v1h-1zM457 508h1v1h-1zM847 280h1v7h-1zM18 317h1v1h-1zM125 300h1v1h-1zM599 446h1v3h-1zM626 320h1v3h-1zM691 302h1v1h-1zM751 353h1v1h-1zM53 280h1v1h-1zM641 301h1v1h-1zM277 433h1v3h-1zM537 508h1v2h-1zM827 348h1v1h-1zM87 309h1v1h-1zM280 442h1v3h-1zM480 505h1v1h-1zM904 158h1v4h-1zM359 444h1v1h-1zM430 504h1v1h-1zM196 337h1v1h-1zM814 350h1v1h-1zM1150 219h1v1h-1zM603 429h1v5h-1zM838 333h1v3h-1zM188 338h1v1h-1zM933 77h1v1h-1zM815 350h1v1h-1zM255 364h1v1h-1zM468 508h1v1h-1zM995 136h1v2h-1zM608 400h1v6h-1zM385 473h1v2h-1zM621 339h1v4h-1zM968 156h1v1h-1zM668 309h1v1h-1zM969 157h1v1h-1zM1035 102h1v1h-1zM389 484h1v4h-1zM1156 212h1v1h-1zM452 504h1v1h-1zM753 352h1v1h-1zM262 378h1v3h-1zM954 110h1v4h-1zM180 347h1v1h-1zM78 298h1v2h-1zM331 479h1v1h-1zM57 275h1v2h-1zM829 347h1v1h-1zM727 336h1v1h-1zM263 381h1v4h-1zM1129 230h1v1h-1zM113 293h1v1h-1zM172 342h1v2h-1zM1153 215h1v1h-1zM79 300h1v1h-1zM625 323h1v4h-1zM371 444h1v1h-1zM861 191h1v7h-1zM147 290h1v1h-1zM433 504h1v1h-1zM1078 162h1v1h-1zM582 483h1v1h-1zM818 351h1v1h-1zM1172 205h1v1h-1zM302 434h1v1h-1zM940 84h1v2h-1zM513 505h1v1h-1zM317 449h1v4h-1zM1063 154h1v2h-1zM135 293h1v1h-1zM670 308h1v1h-1zM1117 208h1v3h-1zM240 351h1v1h-1zM299 437h1v1h-1zM620 343h1v5h-1zM1118 211h1v3h-1zM975 162h1v1h-1zM459 511h1v1h-1zM1132 231h1v1h-1zM490 498h1v1h-1zM294 443h1v2h-1zM535 506h1v1h-1zM1041 112h1v3h-1zM612 380h1v4h-1zM276 430h1v3h-1zM651 308h1v1h-1zM567 493h1v2h-1zM890 181h1v1h-1zM168 339h1v1h-1zM879 171h1v1h-1zM841 323h1v3h-1zM436 504h1v1h-1zM880 172h1v1h-1zM377 454h1v3h-1zM772 346h1v1h-1zM516 505h1v1h-1zM474 508h1v1h-1zM384 470h1v3h-1zM632 307h1v1h-1zM1143 230h1v1h-1zM235 347h1v1h-1zM574 487h1v1h-1zM950 99h1v2h-1zM350 450h1v3h-1zM209 331h1v1h-1zM462 511h1v1h-1zM93 299h1v2h-1zM606 411h1v6h-1zM67 282h1v2h-1zM261 376h1v2h-1zM654 308h1v1h-1zM1029 105h1v1h-1zM80 301h1v1h-1zM293 445h1v2h-1zM689 302h1v1h-1zM81 302h1v2h-1zM1025 107h1v1h-1zM774 345h1v1h-1zM681 303h1v1h-1zM840 326h1v4h-1zM1058 140h1v3h-1zM561 502h1v1h-1zM100 293h1v1h-1zM1080 163h1v2h-1zM609 394h1v6h-1zM519 505h1v1h-1zM1065 157h1v2h-1zM358 444h1v1h-1zM813 350h1v1h-1zM316 446h1v3h-1zM1062 151h1v3h-1zM703 298h1v1h-1zM800 352h1v1h-1zM92 301h1v2h-1zM627 317h1v3h-1zM793 349h1v1h-1zM852 250h1v6h-1zM19 317h1v1h-1zM39 295h1v1h-1zM166 335h1v2h-1zM390 488h1v3h-1zM618 353h1v5h-1zM752 353h1v1h-1zM167 337h1v2h-1zM642 301h1v1h-1zM881 173h1v2h-1zM892 183h1v1h-1zM913 123h1v4h-1zM893 184h1v1h-1zM778 346h1v1h-1zM1094 174h1v1h-1zM959 129h1v3h-1zM1000 129h1v2h-1zM30 303h1v2h-1zM1075 160h1v1h-1zM481 504h1v1h-1zM360 443h1v1h-1zM431 503h1v1h-1zM962 139h1v4h-1zM1076 161h1v1h-1zM934 77h1v1h-1zM816 350h1v1h-1zM844 304h1v9h-1zM245 354h1v1h-1zM42 290h1v2h-1zM848 274h1v6h-1zM227 336h1v1h-1zM952 103h1v4h-1zM908 142h1v4h-1zM993 140h1v2h-1zM453 504h1v1h-1zM37 297h1v1h-1zM754 352h1v1h-1zM68 284h1v1h-1zM332 479h1v1h-1zM830 347h1v1h-1zM69 285h1v2h-1zM82 304h1v1h-1zM1130 230h1v1h-1zM181 346h1v1h-1zM83 305h1v1h-1zM877 171h1v1h-1zM896 183h1v2h-1zM1057 138h1v2h-1zM414 526h1v1h-1zM434 504h1v1h-1zM49 284h1v1h-1zM1082 167h1v2h-1zM583 483h1v1h-1zM144 292h1v1h-1zM415 526h1v1h-1zM514 505h1v1h-1zM136 293h1v1h-1zM671 308h1v1h-1zM270 409h1v4h-1zM765 351h1v1h-1zM976 162h1v1h-1zM460 511h1v1h-1zM660 307h1v1h-1zM491 498h1v1h-1zM179 348h1v1h-1zM1133 230h1v1h-1zM539 511h1v1h-1zM56 277h1v1h-1zM652 308h1v1h-1zM1126 227h1v1h-1zM532 507h1v1h-1zM883 176h1v1h-1zM437 504h1v1h-1zM286 451h1v1h-1zM266 393h1v4h-1zM198 338h1v1h-1zM884 177h1v1h-1zM958 125h1v4h-1zM895 185h1v2h-1zM1096 176h1v1h-1zM773 346h1v1h-1zM616 362h1v5h-1zM517 505h1v1h-1zM1070 159h1v1h-1zM701 298h1v1h-1zM1164 208h1v1h-1zM298 438h1v1h-1zM971 158h1v1h-1zM463 511h1v1h-1zM798 352h1v1h-1zM1160 210h1v1h-1zM70 287h1v1h-1zM161 324h1v3h-1zM321 463h1v4h-1zM71 288h1v1h-1zM655 308h1v1h-1zM647 304h1v1h-1zM456 506h1v2h-1zM791 348h1v1h-1zM566 495h1v2h-1zM85 307h1v1h-1zM775 345h1v1h-1zM1003 123h1v2h-1zM677 304h1v1h-1zM1091 172h1v1h-1zM202 339h1v1h-1zM562 502h1v1h-1zM1073 160h1v1h-1zM1092 173h1v1h-1zM409 525h1v1h-1zM678 304h1v1h-1zM1014 110h1v1h-1zM398 514h1v3h-1zM854 237h1v6h-1zM704 298h1v1h-1zM1162 209h1v1h-1zM254 363h1v1h-1zM425 510h1v2h-1zM801 352h1v1h-1zM967 154h1v2h-1zM554 511h1v1h-1zM258 369h1v2h-1zM692 301h1v1h-1zM1006 119h1v1h-1zM628 315h1v2h-1zM956 117h1v4h-1zM330 479h1v1h-1zM871 159h1v2h-1zM205 335h1v2h-1zM643 301h1v1h-1zM748 354h1v1h-1zM565 497h1v2h-1zM1002 125h1v2h-1zM8 320h1v1h-1zM875 169h1v2h-1zM482 504h1v1h-1zM312 438h1v2h-1zM581 483h1v1h-1zM432 503h1v1h-1zM707 298h1v1h-1zM1113 199h1v2h-1zM614 372h1v4h-1zM156 311h1v3h-1zM220 332h1v1h-1zM1139 229h1v1h-1zM1032 103h1v1h-1zM424 512h1v2h-1zM665 309h1v1h-1zM274 424h1v3h-1zM489 498h1v1h-1zM750 353h1v1h-1zM458 509h1v2h-1zM544 513h1v1h-1zM862 185h1v6h-1zM1043 117h1v2h-1zM442 502h1v1h-1zM73 290h1v2h-1zM1154 213h1v2h-1zM588 476h1v2h-1zM649 306h1v1h-1zM545 514h1v1h-1zM420 519h1v2h-1zM650 307h1v1h-1zM118 297h1v1h-1zM530 507h1v1h-1zM889 180h1v1h-1zM284 451h1v1h-1zM267 397h1v4h-1zM307 434h1v1h-1zM1169 206h1v1h-1zM308 435h1v1h-1zM866 167h1v4h-1zM1034 102h1v1h-1zM133 295h1v2h-1zM386 475h1v3h-1zM256 365h1v2h-1zM469 509h1v1h-1zM185 341h1v2h-1zM795 350h1v1h-1zM835 342h1v2h-1zM487 499h1v1h-1zM796 351h1v1h-1zM788 347h1v1h-1zM445 502h1v1h-1zM955 114h1v3h-1zM548 514h1v1h-1zM789 348h1v1h-1zM645 303h1v1h-1zM731 343h1v1h-1zM173 344h1v1h-1zM587 478h1v1h-1zM728 337h1v2h-1zM287 451h1v1h-1zM199 338h1v1h-1zM604 423h1v6h-1zM936 79h1v1h-1zM1089 172h1v1h-1zM148 291h1v2h-1zM151 297h1v2h-1zM1111 196h1v1h-1zM633 306h1v1h-1zM1071 159h1v1h-1zM344 467h1v3h-1zM471 509h1v1h-1zM229 338h1v1h-1zM155 308h1v3h-1zM407 524h1v1h-1zM702 298h1v1h-1zM1064 156h1v1h-1zM230 339h1v1h-1zM807 350h1v1h-1zM1161 210h1v1h-1zM132 297h1v1h-1zM273 420h1v4h-1zM720 322h1v2h-1zM75 293h1v1h-1zM116 294h1v1h-1zM207 332h1v1h-1zM1026 106h1v1h-1zM117 295h1v2h-1zM536 507h1v1h-1zM328 478h1v1h-1zM856 224h1v6h-1zM1103 182h1v1h-1zM395 504h1v3h-1zM367 442h1v1h-1zM891 182h1v1h-1zM1175 206h1v1h-1zM809 350h1v1h-1zM191 337h1v1h-1zM559 504h1v1h-1zM343 470h1v2h-1zM355 445h1v1h-1zM225 335h1v1h-1zM217 331h1v1h-1zM1163 209h1v1h-1zM978 163h1v1h-1zM338 477h1v1h-1zM20 316h1v1h-1zM218 331h1v1h-1zM1037 105h1v1h-1zM570 490h1v1h-1zM1128 229h1v1h-1zM16 318h1v1h-1zM171 341h1v1h-1zM542 513h1v1h-1zM639 302h1v1h-1zM175 347h1v1h-1zM783 346h1v1h-1zM206 333h1v2h-1zM347 459h1v3h-1zM598 449h1v4h-1zM886 178h1v1h-1zM279 439h1v3h-1zM640 302h1v1h-1zM150 295h1v2h-1zM305 434h1v1h-1zM938 81h1v1h-1zM998 132h1v1h-1zM1081 165h1v2h-1zM1013 111h1v1h-1zM939 82h1v2h-1zM504 499h1v1h-1zM429 505h1v1h-1zM505 500h1v1h-1zM43 289h1v1h-1zM221 332h1v1h-1zM232 341h1v2h-1zM1140 229h1v1h-1zM666 309h1v1h-1zM722 326h1v2h-1zM443 502h1v1h-1zM126 300h1v1h-1zM898 178h1v2h-1zM391 491h1v3h-1zM546 514h1v1h-1zM538 510h1v1h-1zM111 293h1v1h-1zM50 283h1v1h-1zM444 502h1v1h-1zM531 507h1v1h-1zM1001 127h1v2h-1zM7 321h1v1h-1zM394 501h1v3h-1zM145 291h1v1h-1zM882 175h1v1h-1zM580 484h1v1h-1zM197 337h1v1h-1zM1095 175h1v1h-1zM1087 171h1v1h-1zM997 133h1v2h-1zM1170 205h1v1h-1zM1069 159h1v1h-1zM766 350h1v1h-1zM26 311h1v1h-1zM511 505h1v1h-1zM762 352h1v1h-1zM470 509h1v1h-1zM1036 103h1v2h-1zM319 456h1v3h-1zM1039 108h1v2h-1zM23 314h1v1h-1zM970 157h1v1h-1zM322 467h1v4h-1zM488 499h1v1h-1zM446 502h1v1h-1zM163 329h1v2h-1zM1120 216h1v2h-1zM533 506h1v1h-1zM54 279h1v1h-1zM114 293h1v1h-1zM1046 123h1v2h-1zM372 445h1v1h-1zM684 302h1v1h-1zM200 338h1v1h-1zM1090 172h1v1h-1zM1101 181h1v1h-1zM1173 206h1v1h-1zM379 460h1v2h-1zM472 509h1v1h-1zM400 519h1v2h-1zM506 501h1v1h-1zM222 333h1v1h-1zM698 299h1v1h-1zM631 308h1v2h-1zM507 502h1v1h-1zM499 498h1v1h-1zM184 343h1v1h-1zM252 361h1v1h-1zM808 350h1v1h-1zM572 488h1v1h-1zM1141 230h1v1h-1zM613 376h1v4h-1zM917 112h1v3h-1zM834 344h1v1h-1zM699 299h1v1h-1zM992 142h1v2h-1zM600 442h1v4h-1zM337 477h1v1h-1zM120 299h1v1h-1zM686 301h1v1h-1zM169 340h1v1h-1zM873 164h1v2h-1zM121 300h1v1h-1zM1053 131h1v1h-1zM540 512h1v1h-1zM292 447h1v2h-1zM781 346h1v1h-1zM1023 108h1v1h-1zM525 505h1v1h-1zM106 292h1v1h-1zM1015 109h1v1h-1zM310 436h1v1h-1zM810 350h1v1h-1zM192 337h1v1h-1zM675 305h1v1h-1zM311 437h1v1h-1zM303 433h1v1h-1zM314 442h1v2h-1zM595 460h1v3h-1zM226 335h1v1h-1zM1115 203h1v2h-1zM502 498h1v1h-1zM811 350h1v1h-1zM555 510h1v1h-1zM158 316h1v3h-1zM979 163h1v1h-1zM1112 197h1v2h-1zM318 453h1v3h-1zM951 101h1v2h-1zM713 308h1v2h-1zM663 308h1v1h-1zM1007 118h1v1h-1zM339 476h1v1h-1zM219 331h1v1h-1zM1119 214h1v2h-1zM17 318h1v1h-1zM916 115h1v2h-1zM1122 220h1v2h-1zM162 327h1v2h-1zM799 353h1v1h-1zM543 513h1v1h-1zM176 347h1v1h-1zM108 292h1v1h-1zM784 346h1v1h-1zM690 302h1v1h-1zM1045 121h1v2h-1zM869 161h1v2h-1zM109 293h1v1h-1zM887 178h1v1h-1zM1019 105h1v1h-1zM738 351h1v1h-1zM194 336h1v1h-1zM822 350h1v1h-1zM1084 170h1v1h-1zM29 305h1v2h-1zM283 450h1v2h-1zM558 505h1v2h-1zM1104 183h1v2h-1zM139 292h1v1h-1zM399 517h1v2h-1zM964 146h1v3h-1zM410 526h1v1h-1zM402 522h1v2h-1zM594 463h1v2h-1zM467 508h1v1h-1zM63 275h1v1h-1zM928 79h1v2h-1zM1136 230h1v1h-1zM794 350h1v1h-1zM36 298h1v1h-1zM872 161h1v3h-1zM112 293h1v1h-1zM369 443h1v1h-1zM894 185h1v1h-1zM440 503h1v1h-1zM824 349h1v1h-1zM730 341h1v2h-1zM51 282h1v1h-1zM370 444h1v1h-1zM4 323h1v1h-1zM412 526h1v1h-1zM142 293h1v1h-1zM153 302h1v3h-1zM1088 171h1v1h-1zM313 440h1v2h-1zM1171 205h1v1h-1zM28 307h1v2h-1zM428 506h1v1h-1zM512 505h1v1h-1zM577 485h1v1h-1zM942 88h1v2h-1zM228 337h1v1h-1zM711 305h1v1h-1zM1114 201h1v2h-1zM763 352h1v1h-1zM186 340h1v1h-1zM669 308h1v1h-1zM497 498h1v1h-1zM697 299h1v1h-1zM1131 231h1v1h-1zM658 307h1v1h-1zM897 180h1v3h-1zM534 506h1v1h-1zM485 501h1v1h-1zM177 348h1v1h-1zM84 306h1v1h-1zM278 436h1v3h-1zM55 278h1v1h-1zM1020 106h1v1h-1zM597 453h1v3h-1zM1021 107h1v1h-1zM1102 181h1v1h-1zM346 462h1v3h-1zM1106 187h1v2h-1zM1068 160h1v1h-1zM515 505h1v1h-1zM223 333h1v1h-1zM500 498h1v1h-1zM977 163h1v1h-1zM1142 230h1v1h-1zM297 439h1v2h-1zM257 367h1v2h-1zM700 299h1v1h-1zM687 301h1v1h-1zM541 512h1v1h-1zM174 345h1v2h-1zM11 319h1v1h-1zM526 505h1v1h-1zM1024 107h1v1h-1zM1097 177h1v1h-1zM732 344h1v2h-1zM107 292h1v1h-1zM769 348h1v1h-1zM560 503h1v1h-1zM152 299h1v3h-1zM676 305h1v1h-1zM304 433h1v1h-1zM770 348h1v1h-1zM193 336h1v1h-1zM944 92h1v1h-1zM137 292h1v1h-1zM672 307h1v1h-1zM503 498h1v1h-1zM941 86h1v2h-1zM630 310h1v2h-1zM972 159h1v1h-1zM571 489h1v1h-1zM234 345h1v2h-1zM664 308h1v1h-1zM833 345h1v1h-1zM61 274h1v1h-1zM336 478h1v1h-1zM792 349h1v1h-1zM721 324h1v2h-1zM724 330h1v2h-1zM86 308h1v1h-1zM14 319h1v1h-1zM870 160h1v1h-1zM988 151h1v2h-1zM195 336h1v1h-1zM637 303h1v1h-1zM823 350h1v1h-1zM1093 174h1v1h-1zM1085 170h1v1h-1zM1074 160h1v1h-1zM1086 171h1v1h-1zM674 306h1v1h-1zM932 76h1v1h-1zM97 294h1v1h-1zM476 507h1v1h-1zM509 504h1v1h-1zM140 292h1v1h-1zM1011 113h1v1h-1zM984 158h1v2h-1zM411 526h1v1h-1zM94 297h1v2h-1zM629 312h1v3h-1zM464 510h1v1h-1zM1038 106h1v2h-1zM551 514h1v1h-1zM1137 229h1v1h-1zM591 469h1v3h-1zM757 353h1v1h-1zM90 304h1v2h-1zM123 301h1v1h-1zM749 354h1v1h-1zM33 300h1v1h-1zM441 503h1v1h-1zM825 349h1v1h-1zM1018 106h1v1h-1zM734 347h1v2h-1zM1059 143h1v3h-1zM413 526h1v1h-1zM1099 179h1v1h-1zM478 506h1v1h-1zM5 322h1v1h-1zM1100 180h1v1h-1zM982 161h1v1h-1zM381 464h1v2h-1zM920 104h1v3h-1zM1066 159h1v1h-1zM837 336h1v3h-1zM466 509h1v1h-1zM24 313h1v1h-1zM974 161h1v1h-1zM233 343h1v2h-1zM802 351h1v1h-1zM236 348h1v1h-1zM388 481h1v3h-1zM40 293h1v2h-1zM1033 103h1v1h-1zM659 307h1v1h-1zM723 328h1v2h-1zM178 348h1v1h-1zM35 299h1v1h-1zM786 347h1v1h-1zM685 301h1v1h-1zM119 298h1v1h-1zM486 500h1v1h-1zM1051 129h1v1h-1zM1152 216h1v2h-1zM1022 107h1v1h-1zM285 451h1v1h-1zM362 442h1v1h-1zM309 436h1v1h-1zM1147 223h1v1h-1zM404 524h1v1h-1zM47 286h1v1h-1zM919 107h1v3h-1zM501 498h1v1h-1zM157 314h1v2h-1zM130 298h1v1h-1zM423 514h1v1h-1zM696 300h1v1h-1zM1040 110h1v2h-1zM797 352h1v1h-1zM688 301h1v1h-1zM275 427h1v3h-1zM906 150h1v4h-1zM790 348h1v1h-1zM419 521h1v1h-1zM1047 125h1v2h-1zM12 319h1v1h-1zM364 441h1v1h-1zM376 451h1v3h-1zM373 446h1v2h-1zM365 442h1v1h-1zM397 510h1v4h-1zM1083 169h1v1h-1zM408 525h1v1h-1zM1146 224h1v2h-1zM380 462h1v2h-1zM138 292h1v1h-1zM383 468h1v2h-1zM96 295h1v1h-1zM301 435h1v1h-1zM673 306h1v1h-1zM215 331h1v1h-1zM901 169h1v3h-1zM354 446h1v1h-1zM246 355h1v1h-1zM296 441h1v1h-1zM387 478h1v3h-1zM454 505h1v1h-1zM260 373h1v3h-1zM15 319h1v1h-1zM368 443h1v1h-1zM288 450h1v1h-1zM638 303h1v1h-1zM922 97h1v3h-1zM819 351h1v1h-1zM98 294h1v1h-1zM510 504h1v1h-1zM315 444h1v2h-1zM356 445h1v1h-1zM929 78h1v1h-1zM576 485h1v1h-1zM1012 112h1v1h-1zM241 351h1v1h-1zM352 447h1v1h-1zM714 310h1v2h-1zM900 172h1v3h-1zM717 315h1v2h-1zM465 509h1v1h-1zM1138 229h1v1h-1zM165 333h1v2h-1zM552 513h1v1h-1zM124 301h1v1h-1zM1123 222h1v2h-1zM374 448h1v1h-1zM528 506h1v1h-1zM821 350h1v1h-1zM1049 128h1v1h-1zM987 153h1v1h-1zM375 449h1v2h-1zM479 506h1v1h-1zM396 507h1v3h-1zM961 136h1v3h-1zM6 322h1v1h-1zM306 434h1v1h-1zM578 484h1v1h-1zM475 508h1v1h-1zM1168 206h1v1h-1zM983 160h1v1h-1zM947 94h1v1h-1zM426 508h1v2h-1zM403 524h1v1h-1zM760 353h1v1h-1zM996 135h1v1h-1zM21 315h1v1h-1zM494 498h1v1h-1zM64 276h1v2h-1zM259 371h1v2h-1zM210 330h1v1h-1zM761 353h1v1h-1zM422 515h1v2h-1zM787 347h1v1h-1zM324 473h1v1h-1zM418 522h1v1h-1zM682 302h1v1h-1zM520 505h1v1h-1zM405 524h1v1h-1zM101 292h1v1h-1zM805 350h1v1h-1zM44 288h1v1h-1zM406 524h1v1h-1zM943 90h1v2h-1zM59 273h1v1h-1zM213 331h1v1h-1zM715 312h1v1h-1zM1124 224h1v1h-1zM183 344h1v1h-1zM214 331h1v1h-1zM13 319h1v1h-1zM1151 218h1v1h-1zM585 480h1v2h-1zM779 346h1v1h-1zM366 442h1v1h-1zM417 523h1v2h-1zM523 505h1v1h-1zM771 347h1v1h-1zM1077 161h1v1h-1zM401 521h1v1h-1zM1107 189h1v1h-1zM190 337h1v1h-1zM508 503h1v1h-1zM216 331h1v1h-1zM239 350h1v1h-1zM755 352h1v1h-1zM1158 211h1v1h-1zM661 308h1v1h-1zM455 505h1v1h-1zM333 479h1v1h-1zM831 347h1v1h-1zM756 353h1v1h-1zM326 476h1v1h-1zM122 300h1v1h-1zM743 355h1v1h-1zM782 346h1v1h-1zM733 346h1v1h-1zM744 355h1v1h-1zM345 465h1v2h-1zM635 305h1v1h-1zM95 296h1v1h-1zM300 436h1v1h-1zM945 93h1v1h-1zM295 442h1v1h-1zM492 498h1v1h-1zM91 303h1v1h-1zM1134 230h1v1h-1zM72 289h1v1h-1zM34 299h1v1h-1zM785 347h1v1h-1zM1005 120h1v2h-1zM291 449h1v1h-1zM76 294h1v2h-1zM746 355h1v1h-1zM529 506h1v1h-1zM438 504h1v1h-1zM110 293h1v1h-1zM1050 128h1v1h-1zM564 499h1v2h-1zM739 352h1v1h-1zM885 177h1v1h-1zM518 505h1v1h-1zM579 484h1v1h-1zM3 324h1v1h-1zM575 486h1v1h-1zM1165 208h1v1h-1zM556 508h1v2h-1zM980 162h1v1h-1zM41 292h1v1h-1zM427 507h1v1h-1zM340 475h1v1h-1zM495 498h1v1h-1zM211 330h1v1h-1zM1030 104h1v1h-1zM656 308h1v1h-1zM449 503h1v1h-1zM776 345h1v1h-1zM484 502h1v1h-1zM363 441h1v1h-1zM777 346h1v1h-1zM683 302h1v1h-1zM735 349h1v1h-1zM203 339h1v1h-1zM48 285h1v1h-1zM521 505h1v1h-1zM679 304h1v1h-1zM102 292h1v1h-1zM143 293h1v1h-1zM1167 207h1v1h-1zM705 298h1v1h-1zM806 350h1v1h-1zM243 352h1v1h-1zM382 466h1v2h-1zM965 149h1v2h-1zM244 353h1v1h-1zM498 498h1v1h-1zM693 301h1v1h-1zM74 292h1v1h-1zM128 299h1v1h-1zM590 472h1v2h-1zM104 292h1v1h-1zM9 320h1v1h-1zM780 346h1v1h-1zM52 281h1v1h-1zM741 354h1v1h-1zM876 170h1v1h-1zM524 505h1v1h-1zM768 349h1v1h-1zM250 359h1v1h-1zM764 351h1v1h-1zM187 339h1v1h-1zM251 360h1v1h-1zM1159 211h1v1h-1zM662 308h1v1h-1zM182 345h1v1h-1zM334 479h1v1h-1zM832 346h1v1h-1zM335 479h1v1h-1zM828 348h1v1h-1zM584 482h1v1h-1zM736 350h1v1h-1zM527 505h1v1h-1zM290 449h1v1h-1zM416 525h1v1h-1zM745 355h1v1h-1zM737 351h1v1h-1zM636 304h1v1h-1zM189 338h1v1h-1zM353 446h1v1h-1zM231 340h1v1h-1zM946 93h1v1h-1zM1010 114h1v1h-1zM62 275h1v1h-1zM568 492h1v1h-1zM493 498h1v1h-1zM553 512h1v1h-1zM1135 230h1v1h-1zM549 514h1v1h-1zM646 303h1v1h-1zM747 355h1v1h-1zM439 504h1v1h-1zM201 339h1v1h-1zM1079 162h1v1h-1zM634 306h1v1h-1zM1017 107h1v1h-1zM141 293h1v1h-1zM1072 159h1v1h-1zM477 507h1v1h-1zM1166 207h1v1h-1zM496 498h1v1h-1zM253 362h1v1h-1zM212 330h1v1h-1zM1031 104h1v1h-1zM758 354h1v1h-1zM450 503h1v1h-1zM1027 106h1v1h-1zM657 307h1v1h-1zM1004 122h1v1h-1zM329 478h1v1h-1zM563 501h1v1h-1zM522 505h1v1h-1zM103 292h1v1h-1zM45 287h1v1h-1zM706 298h1v1h-1zM1067 160h1v1h-1zM237 349h1v1h-1zM803 351h1v1h-1zM1157 211h1v1h-1z" fill="#0000cd"/></g><rect x="3" y="217" width="1415" height="1" fill="#c0c0c0" /><rect x="3" y="43" width="1416" height="3" fill="#ff0000" /><rect x="2" y="44" width="1" height="1" fill="#ff0000" /><rect x="1419" y="44" width="1" height="1" fill="#ff0000" /><rect x="3" y="137" width="1416" height="3" fill="#ff0000" /><rect x="2" y="138" width="1" height="1" fill="#ff0000" /><rect x="1419" y="138" width="1" height="1" fill="#ff0000" /><rect x="2" y="135" width="7" height="7" fill="#ff0000" /><rect x="1412" y="135" width="7" height="7" fill="#ff0000" /><rect x="5" y="138" width="1" height="1" fill="#fff" /><rect x="1415" y="138" width="1" height="1" fill="#fff" /><rect x="3" y="232" width="1416" height="3" fill="#00ff00" /><rect x="2" y="233" width="1" height="1" fill="#00ff00" /><rect x="1419" y="233" width="1" height="1" fill="#00ff00" /><rect x="2" y="230" width="7" height="7" fill="#00ff00" /><rect x="1412" y="230" width="7" height="7" fill="#00ff00" /><rect x="5" y="233" width="1" height="1" fill="#fff" /><rect x="1415" y="233" width="1" height="1" fill="#fff" /><rect x="3" y="327" width="1416" height="3" fill="#0000ff" /><rect x="2" y="328" width="1" height="1" fill="#0000ff" /><rect x="1419" y="328" width="1" height="1" fill="#0000ff" /><rect x="2" y="325" width="7" height="7" fill="#0000ff" /><rect x="1412" y="325" width="7" height="7" fill="#0000ff" /><rect x="5" y="328" width="1" height="1" fill="#fff" /><rect x="1415" y="328" width="1" height="1" fill="#fff" /><rect x="3" y="403" width="1416" height="3" fill="#0000ff" /><rect x="2" y="404" width="1" height="1" fill="#0000ff" /><rect x="1419" y="404" width="1" height="1" fill="#0000ff" /><polygon points="1129,23 1138,23 1133.5,28" fill="#c0c0c0" shape-rendering="auto"/><rect x="1419" y="31" width="2" height="1" fill="#000" /><rect x="1419" y="64" width="2" height="1" fill="#000" /><rect x="1419" y="97" width="2" height="1" fill="#000" /><rect x="1419" y="130" width="2" height="1" fill="#000" /><rect x="1419" y="163" width="2" height="1" fill="#000" /><rect x="1419" y="196" width="2" height="1" fill="#000" /><rect x="1419" y="229" width="2" height="1" fill="#000" /><rect x="1419" y="262" width="2" height="1" fill="#000" /><rect x="1419" y="295" width="2" height="1" fill="#000" /><rect x="1419" y="328" width="2" height="1" fill="#000" /><rect x="1419" y="361" width="2" height="1" fill="#000" /><rect x="1419" y="394" width="2" height="1" fill="#000" /><rect x="1419" y="427" width="2" height="1" fill="#000" /><rect x="1419" y="460" width="2" height="1" fill="#000" /><rect x="1419" y="493" width="2" height="1" fill="#000" /><rect x="1419" y="526" width="2" height="1" fill="#000" /><rect x="1419" y="559" width="2" height="1" fill="#000" /><g clip-path="url(#cmacd)"><rect x="3" y="611" width="1" height="17" fill="#c0c0c0"/><rect x="7" y="610" width="1" height="18" fill="#c0c0c0"/><rect x="11" y="610" width="1" height="18" fill="#c0c0c0"/><rect x="15" y="611" width="1" height="17" fill="#c0c0c0"/><rect x="19" y="610" width="1" height="18" fill="#c0c0c0"/><rect x="23" y="608" width="1" height="20" fill="#c0c0c0"/><rect x="27" y="608" width="1" height="20" fill="#c0c0c0"/><rect x="31" y="607" width="1" height="21" fill="#c0c0c0"/><rect x="35" y="607" width="1" height="21" fill="#c0c0c0"/><rect x="39" y="607" width="1" height="21" fill="#c0c0c0"/><rect x="43" y="606" width="1" height="22" fill="#c0c0c0"/><rect x="47" y="606" width="1" height="22" fill="#c0c0c0"/><rect x="51" y="605" width="1" height="23" fill="#c0c0c0"/><rect x="55" y="604" width="1" height="24" fill="#c0c0c0"/><rect x="59" y="603" width="1" height="25" fill="#c0c0c0"/><rect x="63" y="607" width="1" height="21" fill="#c0c0c0"/><rect x="67" y="613" width="1" height="15" fill="#c0c0c0"/><rect x="71" y="616" width="1" height="12" fill="#c0c0c0"/><rect x="75" y="618" width="1" height="10" fill="#c0c0c0"/><rect x="79" y="619" width="1" height="9" fill="#c0c0c0"/><rect x="83" y="619" width="1" height="9" fill="#c0c0c0"/><rect x="87" y="619" width="1" height="9" fill="#c0c0c0"/><rect x="91" y="617" width="1" height="11" fill="#c0c0c0"/><rect x="95" y="617" width="1" height="11" fill="#c0c0c0"/><rect x="99" y="618" width="1" height="10" fill="#c0c0c0"/><rect x="103" y="620" width="1" height="8" fill="#c0c0c0"/><rect x="107" y="622" width="1" height="6" fill="#c0c0c0"/><rect x="111" y="622" width="1" height="6" fill="#c0c0c0"/><rect x="115" y="622" width="1" height="6" fill="#c0c0c0"/><rect x="119" y="623" width="1" height="5" fill="#c0c0c0"/><rect x="123" y="624" width="1" height="4" fill="#c0c0c0"/><rect x="127" y="623" width="1" height="5" fill="#c0c0c0"/><rect x="131" y="623" width="1" height="5" fill="#c0c0c0"/><rect x="135" y="622" width="1" height="6" fill="#c0c0c0"/><rect x="139" y="622" width="1" height="6" fill="#c0c0c0"/><rect x="143" y="622" width="1" height="6" fill="#c0c0c0"/><rect x="147" y="622" width="1" height="6" fill="#c0c0c0"/><rect x="151" y="627" width="1" height="2" fill="#c0c0c0"/><rect x="155" y="627" width="1" height="8" fill="#c0c0c0"/><rect x="159" y="627" width="1" height="11" fill="#c0c0c0"/><rect x="163" y="627" width="1" height="13" fill="#c0c0c0"/><rect x="167" y="627" width="1" height="14" fill="#c0c0c0"/><rect x="171" y="627" width="1" height="12" fill="#c0c0c0"/><rect x="175" y="627" width="1" height="11" fill="#c0c0c0"/><rect x="179" y="627" width="1" height="13" fill="#c0c0c0"/><rect x="183" y="627" width="1" height="14" fill="#c0c0c0"/><rect x="187" y="627" width="1" height="12" fill="#c0c0c0"/><rect x="191" y="627" width="1" height="12" fill="#c0c0c0"/><rect x="195" y="627" width="1" height="11" fill="#c0c0c0"/><rect x="199" y="627" width="1" height="10" fill="#c0c0c0"/><rect x="203" y="627" width="1" height="10" fill="#c0c0c0"/><rect x="207" y="627" width="1" height="7" fill="#c0c0c0"/><rect x="211" y="627" width="1" height="6" fill="#c0c0c0"/><rect x="215" y="627" width="1" height="6" fill="#c0c0c0"/><rect x="219" y="627" width="1" height="7" fill="#c0c0c0"/><rect x="223" y="627" width="1" height="8" fill="#c0c0c0"/><rect x="227" y="627" width="1" height="9" fill="#c0c0c0"/><rect x="231" y="627" width="1" height="10" fill="#c0c0c0"/><rect x="235" y="627" width="1" height="11" fill="#c0c0c0"/><rect x="239" y="627" width="1" height="11" fill="#c0c0c0"/><rect x="243" y="627" width="1" height="10" fill="#c0c0c0"/><rect x="247" y="627" width="1" height="11" fill="#c0c0c0"/><rect x="251" y="627" width="1" height="13" fill="#c0c0c0"/><rect x="255" y="627" width="1" height="14" fill="#c0c0c0"/><rect x="259" y="627" width="1" height="18" fill="#c0c0c0"/><rect x="263" y="627" width="1" height="23" fill="#c0c0c0"/><rect x="267" y="627" width="1" height="28" fill="#c0c0c0"/><rect x="271" y="627" width="1" height="32" fill="#c0c0c0"/><rect x="275" y="627" width="1" height="34" fill="#c0c0c0"/><rect x="279" y="627" width="1" height="37" fill="#c0c0c0"/><rect x="283" y="627" width="1" height="36" fill="#c0c0c0"/><rect x="287" y="627" width="1" height="34" fill="#c0c0c0"/><rect x="291" y="627" width="1" height="31" fill="#c0c0c0"/><rect x="295" y="627" width="1" height="28" fill="#c0c0c0"/><rect x="299" y="627" width="1" height="27" fill="#c0c0c0"/><rect x="303" y="627" width="1" height="25" fill="#c0c0c0"/><rect x="307" y="627" width="1" height="28" fill="#c0c0c0"/><rect x="311" y="627" width="1" height="29" fill="#c0c0c0"/><rect x="315" y="627" width="1" height="30" fill="#c0c0c0"/><rect x="319" y="627" width="1" height="34" fill="#c0c0c0"/><rect x="323" y="627" width="1" height="36" fill="#c0c0c0"/><rect x="327" y="627" width="1" height="34" fill="#c0c0c0"/><rect x="331" y="627" width="1" height="30" fill="#c0c0c0"/><rect x="335" y="627" width="1" height="28" fill="#c0c0c0"/><rect x="339" y="627" width="1" height="25" fill="#c0c0c0"/><rect x="343" y="627" width="1" height="22" fill="#c0c0c0"/><rect x="347" y="627" width="1" height="19" fill="#c0c0c0"/><rect x="351" y="627" width="1" height="15" fill="#c0c0c0"/><rect x="355" y="627" width="1" height="14" fill="#c0c0c0"/><rect x="359" y="627" width="1" height="12" fill="#c0c0c0"/><rect x="363" y="627" width="1" height="11" fill="#c0c0c0"/><rect x="367" y="627" width="1" height="11" fill="#c0c0c0"/><rect x="371" y="627" width="1" height="10" fill="#c0c0c0"/><rect x="375" y="627" width="1" height="12" fill="#c0c0c0"/><rect x="379" y="627" width="1" height="16" fill="#c0c0c0"/><rect x="383" y="627" width="1" height="18" fill="#c0c0c0"/><rect x="387" y="627" width="1" height="21" fill="#c0c0c0"/><rect x="391" y="627" width="1" height="24" fill="#c0c0c0"/><rect x="395" y="627" width="1" height="27" fill="#c0c0c0"/><rect x="399" y="627" width="1" height="29" fill="#c0c0c0"/><rect x="403" y="627" width="1" height="29" fill="#c0c0c0"/><rect x="407" y="627" width="1" height="27" fill="#c0c0c0"/><rect x="411" y="627" width="1" height="26" fill="#c0c0c0"/><rect x="415" y="627" width="1" height="25" fill="#c0c0c0"/><rect x="419" y="627" width="1" height="23" fill="#c0c0c0"/><rect x="423" y="627" width="1" height="20" fill="#c0c0c0"/><rect x="427" y="627" width="1" height="18" fill="#c0c0c0"/><rect x="431" y="627" width="1" height="16" fill="#c0c0c0"/><rect x="435" y="627" width="1" height="15" fill="#c0c0c0"/><rect x="439" y="627" width="1" height="16" fill="#c0c0c0"/><rect x="443" y="627" width="1" height="14" fill="#c0c0c0"/><rect x="447" y="627" width="1" height="13" fill="#c0c0c0"/><rect x="451" y="627" width="1" height="12" fill="#c0c0c0"/><rect x="455" y="627" width="1" height="11" fill="#c0c0c0"/><rect x="459" y="627" width="1" height="13" fill="#c0c0c0"/><rect x="463" y="627" width="1" height="12" fill="#c0c0c0"/><rect x="467" y="627" width="1" height="10" fill="#c0c0c0"/><rect x="471" y="627" width="1" height="10" fill="#c0c0c0"/><rect x="475" y="627" width="1" height="9" fill="#c0c0c0"/><rect x="479" y="627" width="1" height="6" fill="#c0c0c0"/><rect x="483" y="627" width="1" height="4" fill="#c0c0c0"/><rect x="487" y="627" width="1" height="4" fill="#c0c0c0"/><rect x="491" y="627" width="1" height="4" fill="#c0c0c0"/><rect x="495" y="627" width="1" height="4" fill="#c0c0c0"/><rect x="499" y="627" width="1" height="4" fill="#c0c0c0"/><rect x="503" y="627" width="1" height="4" fill="#c0c0c0"/><rect x="507" y="627" width="1" height="5" fill="#c0c0c0"/><rect x="511" y="627" width="1" height="4" fill="#c0c0c0"/><rect x="515" y="627" width="1" height="4" fill="#c0c0c0"/><rect x="519" y="627" width="1" height="4" fill="#c0c0c0"/><rect x="523" y="627" width="1" height="3" fill="#c0c0c0"/><rect x="527" y="627" width="1" height="4" fill="#c0c0c0"/><rect x="531" y="627" width="1" height="5" fill="#c0c0c0"/><rect x="535" y="627" width="1" height="4" fill="#c0c0c0"/><rect x="539" y="627" width="1" height="7" fill="#c0c0c0"/><rect x="543" y="627" width="1" height="7" fill="#c0c0c0"/><rect x="547" y="627" width="1" height="6" fill="#c0c0c0"/><rect x="551" y="627" width="1" height="4" fill="#c0c0c0"/><rect x="555" y="627" width="1" height="2" fill="#c0c0c0"/><rect x="559" y="626" width="1" height="2" fill="#c0c0c0"/><rect x="563" y="625" width="1" height="3" fill="#c0c0c0"/><rect x="567" y="624" width="1" height="4" fill="#c0c0c0"/><rect x="571" y="623" width="1" height="5" fill="#c0c0c0"/><rect x="575" y="623" width="1" height="5" fill="#c0c0c0"/><rect x="579" y="622" width="1" height="6" fill="#c0c0c0"/><rect x="583" y="622" width="1" height="6" fill="#c0c0c0"/><rect x="587" y="618" width="1" height="10" fill="#c0c0c0"/><rect x="591" y="614" width="1" height="14" fill="#c0c0c0"/><rect x="595" y="611" width="1" height="17" fill="#c0c0c0"/><rect x="599" y="605" width="1" height="23" fill="#c0c0c0"/><rect x="603" y="601" width="1" height="27" fill="#c0c0c0"/><rect x="607" y="592" width="1" height="36" fill="#c0c0c0"/><rect x="611" y="587" width="1" height="41" fill="#c0c0c0"/><rect x="615" y="583" width="1" height="45" fill="#c0c0c0"/><rect x="619" y="578" width="1" height="50" fill="#c0c0c0"/><rect x="623" y="574" width="1" height="54" fill="#c0c0c0"/><rect x="627" y="572" width="1" height="56" fill="#c0c0c0"/><rect x="631" y="572" width="1" height="56" fill="#c0c0c0"/><rect x="635" y="572" width="1" height="56" fill="#c0c0c0"/><rect x="639" y="573" width="1" height="55" fill="#c0c0c0"/><rect x="643" y="576" width="1" height="52" fill="#c0c0c0"/><rect x="647" y="579" width="1" height="49" fill="#c0c0c0"/><rect x="651" y="581" width="1" height="47" fill="#c0c0c0"/><rect x="655" y="582" width="1" height="46" fill="#c0c0c0"/><rect x="659" y="583" width="1" height="45" fill="#c0c0c0"/><rect x="663" y="585" width="1" height="43" fill="#c0c0c0"/><rect x="667" y="588" width="1" height="40" fill="#c0c0c0"/><rect x="671" y="590" width="1" height="38" fill="#c0c0c0"/><rect x="675" y="592" width="1" height="36" fill="#c0c0c0"/><rect x="679" y="594" width="1" height="34" fill="#c0c0c0"/><rect x="683" y="594" width="1" height="34" fill="#c0c0c0"/><rect x="687" y="595" width="1" height="33" fill="#c0c0c0"/><rect x="691" y="598" width="1" height="30" fill="#c0c0c0"/><rect x="695" y="600" width="1" height="28" fill="#c0c0c0"/><rect x="699" y="601" width="1" height="27" fill="#c0c0c0"/><rect x="703" y="603" width="1" height="25" fill="#c0c0c0"/><rect x="707" y="604" width="1" height="24" fill="#c0c0c0"/><rect x="711" y="608" width="1" height="20" fill="#c0c0c0"/><rect x="715" y="612" width="1" height="16" fill="#c0c0c0"/><rect x="719" y="618" width="1" height="10" fill="#c0c0c0"/><rect x="723" y="622" width="1" height="6" fill="#c0c0c0"/><rect x="727" y="625" width="1" height="3" fill="#c0c0c0"/><rect x="731" y="626" width="1" height="2" fill="#c0c0c0"/><rect x="735" y="627" width="1" height="1" fill="#c0c0c0"/><rect x="739" y="627" width="1" height="3" fill="#c0c0c0"/><rect x="743" y="627" width="1" height="4" fill="#c0c0c0"/><rect x="747" y="627" width="1" height="6" fill="#c0c0c0"/><rect x="751" y="627" width="1" height="6" fill="#c0c0c0"/><rect x="755" y="627" width="1" height="6" fill="#c0c0c0"/><rect x="759" y="627" width="1" height="6" fill="#c0c0c0"/><rect x="763" y="627" width="1" height="5" fill="#c0c0c0"/><rect x="767" y="627" width="1" height="4" fill="#c0c0c0"/><rect x="771" y="627" width="1" height="3" fill="#c0c0c0"/><rect x="775" y="627" width="1" height="4" fill="#c0c0c0"/><rect x="779" y="627" width="1" height="4" fill="#c0c0c0"/><rect x="783" y="627" width="1" height="4" fill="#c0c0c0"/><rect x="787" y="627" width="1" height="5" fill="#c0c0c0"/><rect x="791" y="627" width="1" height="4" fill="#c0c0c0"/><rect x="795" y="627" width="1" height="4" fill="#c0c0c0"/><rect x="799" y="627" width="1" height="5" fill="#c0c0c0"/><rect x="803" y="627" width="1" height="4" fill="#c0c0c0"/><rect x="807" y="627" width="1" height="4" fill="#c0c0c0"/><rect x="811" y="627" width="1" height="3" fill="#c0c0c0"/><rect x="815" y="627" width="1" height="4" fill="#c0c0c0"/><rect x="819" y="627" width="1" height="4" fill="#c0c0c0"/><rect x="823" y="627" width="1" height="4" fill="#c0c0c0"/><rect x="827" y="627" width="1" height="2" fill="#c0c0c0"/><rect x="831" y="627" width="1" height="2" fill="#c0c0c0"/><rect x="835" y="625" width="1" height="3" fill="#c0c0c0"/><rect x="839" y="619" width="1" height="9" fill="#c0c0c0"/><rect x="843" y="613" width="1" height="15" fill="#c0c0c0"/><rect x="847" y="597" width="1" height="31" fill="#c0c0c0"/><rect x="851" y="591" width="1" height="37" fill="#c0c0c0"/><rect x="855" y="584" width="1" height="44" fill="#c0c0c0"/><rect x="859" y="579" width="1" height="49" fill="#c0c0c0"/><rect x="863" y="575" width="1" height="53" fill="#c0c0c0"/><rect x="867" y="572" width="1" height="56" fill="#c0c0c0"/><rect x="871" y="577" width="1" height="51" fill="#c0c0c0"/><rect x="875" y="578" width="1" height="50" fill="#c0c0c0"/><rect x="879" y="581" width="1" height="47" fill="#c0c0c0"/><rect x="883" y="583" width="1" height="45" fill="#c0c0c0"/><rect x="887" y="583" width="1" height="45" fill="#c0c0c0"/><rect x="891" y="584" width="1" height="44" fill="#c0c0c0"/><rect x="895" y="585" width="1" height="43" fill="#c0c0c0"/><rect x="899" y="585" width="1" height="43" fill="#c0c0c0"/><rect x="903" y="582" width="1" height="46" fill="#c0c0c0"/><rect x="907" y="577" width="1" height="51" fill="#c0c0c0"/><rect x="911" y="574" width="1" height="54" fill="#c0c0c0"/><rect x="915" y="572" width="1" height="56" fill="#c0c0c0"/><rect x="919" y="573" width="1" height="55" fill="#c0c0c0"/><rect x="923" y="573" width="1" height="55" fill="#c0c0c0"/><rect x="927" y="572" width="1" height="56" fill="#c0c0c0"/><rect x="931" y="572" width="1" height="56" fill="#c0c0c0"/><rect x="935" y="576" width="1" height="52" fill="#c0c0c0"/><rect x="939" y="579" width="1" height="49" fill="#c0c0c0"/><rect x="943" y="586" width="1" height="42" fill="#c0c0c0"/><rect x="947" y="590" width="1" height="38" fill="#c0c0c0"/><rect x="951" y="594" width="1" height="34" fill="#c0c0c0"/><rect x="955" y="600" width="1" height="28" fill="#c0c0c0"/><rect x="959" y="606" width="1" height="22" fill="#c0c0c0"/><rect x="963" y="613" width="1" height="15" fill="#c0c0c0"/><rect x="967" y="618" width="1" height="10" fill="#c0c0c0"/><rect x="971" y="619" width="1" height="9" fill="#c0c0c0"/><rect x="975" y="620" width="1" height="8" fill="#c0c0c0"/><rect x="979" y="620" width="1" height="8" fill="#c0c0c0"/><rect x="983" y="619" width="1" height="9" fill="#c0c0c0"/><rect x="987" y="619" width="1" height="9" fill="#c0c0c0"/><rect x="991" y="619" width="1" height="9" fill="#c0c0c0"/><rect x="995" y="618" width="1" height="10" fill="#c0c0c0"/><rect x="999" y="617" width="1" height="11" fill="#c0c0c0"/><rect x="1003" y="614" width="1" height="14" fill="#c0c0c0"/><rect x="1007" y="613" width="1" height="15" fill="#c0c0c0"/><rect x="1011" y="612" width="1" height="16" fill="#c0c0c0"/><rect x="1015" y="611" width="1" height="17" fill="#c0c0c0"/><rect x="1019" y="612" width="1" height="16" fill="#c0c0c0"/><rect x="1023" y="615" width="1" height="13" fill="#c0c0c0"/><rect x="1027" y="615" width="1" height="13" fill="#c0c0c0"/><rect x="1031" y="613" width="1" height="15" fill="#c0c0c0"/><rect x="1035" y="612" width="1" height="16" fill="#c0c0c0"/><rect x="1039" y="615" width="1" height="13" fill="#c0c0c0"/><rect x="1043" y="621" width="1" height="7" fill="#c0c0c0"/><rect x="1047" y="625" width="1" height="3" fill="#c0c0c0"/><rect x="1051" y="627" width="1" height="1" fill="#c0c0c0"/><rect x="1055" y="627" width="1" height="2" fill="#c0c0c0"/><rect x="1059" y="627" width="1" height="4" fill="#c0c0c0"/><rect x="1063" y="627" width="1" height="6" fill="#c0c0c0"/><rect x="1067" y="627" width="1" height="8" fill="#c0c0c0"/><rect x="1071" y="627" width="1" height="9" fill="#c0c0c0"/><rect x="1075" y="627" width="1" height="11" fill="#c0c0c0"/><rect x="1079" y="627" width="1" height="11" fill="#c0c0c0"/><rect x="1083" y="627" width="1" height="13" fill="#c0c0c0"/><rect x="1087" y="627" width="1" height="13" fill="#c0c0c0"/><rect x="1091" y="627" width="1" height="13" fill="#c0c0c0"/><rect x="1095" y="627" width="1" height="15" fill="#c0c0c0"/><rect x="1099" y="627" width="1" height="15" fill="#c0c0c0"/><rect x="1103" y="627" width="1" height="17" fill="#c0c0c0"/><rect x="1107" y="627" width="1" height="18" fill="#c0c0c0"/><rect x="1111" y="627" width="1" height="22" fill="#c0c0c0"/><rect x="1115" y="627" width="1" height="23" fill="#c0c0c0"/><rect x="1119" y="627" width="1" height="27" fill="#c0c0c0"/><rect x="1123" y="627" width="1" height="28" fill="#c0c0c0"/><rect x="1127" y="627" width="1" height="28" fill="#c0c0c0"/><rect x="1131" y="627" width="1" height="26" fill="#c0c0c0"/><rect x="1135" y="627" width="1" height="24" fill="#c0c0c0"/><rect x="1139" y="627" width="1" height="23" fill="#c0c0c0"/><rect x="1143" y="627" width="1" height="22" fill="#c0c0c0"/><rect x="1147" y="627" width="1" height="21" fill="#c0c0c0"/><rect x="1151" y="627" width="1" height="18" fill="#c0c0c0"/><rect x="1155" y="627" width="1" height="15" fill="#c0c0c0"/><rect x="1159" y="627" width="1" height="14" fill="#c0c0c0"/><rect x="1163" y="627" width="1" height="11" fill="#c0c0c0"/><rect x="1167" y="627" width="1" height="10" fill="#c0c0c0"/><rect x="1171" y="627" width="1" height="11" fill="#c0c0c0"/><rect x="1175" y="627" width="1" height="11" fill="#c0c0c0"/><path d="M185 637h1v1h-1zM189 637h3v1h-3zM197 637h1v1h-1zM201 637h3v1h-3zM257 637h1v1h-1zM471 637h3v1h-3zM1098 637h3v1h-3zM171 630h1v1h-1zM507 630h3v1h-3zM537 630h3v1h-3zM543 630h3v1h-3zM549 630h3v1h-3zM555 630h2v1h-2zM768 630h3v1h-3zM774 630h3v1h-3zM780 630h3v1h-3zM786 630h3v1h-3zM1076 630h1v1h-1zM262 639h2v1h-2zM375 639h3v1h-3zM387 639h2v1h-2zM459 639h3v1h-3zM1105 639h2v1h-2zM279 649h1v1h-1zM411 649h2v1h-2zM429 649h3v1h-3zM1134 649h3v1h-3zM1140 649h1v1h-1zM1152 649h1v1h-1zM177 633h1v1h-1zM225 633h3v1h-3zM231 633h3v1h-3zM237 633h3v1h-3zM489 633h3v1h-3zM649 574h2v1h-2zM933 574h3v1h-3zM941 574h1v1h-1zM137 622h1v1h-1zM141 622h3v1h-3zM147 622h3v1h-3zM586 622h2v1h-2zM744 622h1v1h-1zM846 622h1v1h-1zM1062 622h2v1h-2zM165 628h1v1h-1zM567 628h2v1h-2zM757 628h2v1h-2zM834 628h3v1h-3zM101 617h1v1h-1zM598 617h2v1h-2zM738 617h1v1h-1zM996 617h1v1h-1zM1002 617h3v1h-3zM1008 617h1v1h-1zM1052 617h1v1h-1zM642 575h3v1h-3zM648 575h1v1h-1zM654 575h3v1h-3zM929 575h1v1h-1zM945 575h1v1h-1zM685 588h2v1h-2zM364 644h2v1h-2zM399 644h1v1h-1zM442 644h2v1h-2zM1164 644h1v1h-1zM630 585h1v1h-1zM678 585h2v1h-2zM874 585h1v1h-1zM959 585h1v1h-1zM41 607h1v1h-1zM45 607h3v1h-3zM611 607h1v1h-1zM978 607h1v1h-1zM315 655h3v1h-3zM321 655h3v1h-3zM327 655h3v1h-3zM333 655h3v1h-3zM339 655h3v1h-3zM280 650h2v1h-2zM413 650h1v1h-1zM425 650h1v1h-1zM1141 650h2v1h-2zM1146 650h3v1h-3zM166 629h2v1h-2zM513 629h3v1h-3zM519 629h3v1h-3zM525 629h3v1h-3zM531 629h3v1h-3zM557 629h1v1h-1zM561 629h3v1h-3zM762 629h3v1h-3zM792 629h3v1h-3zM798 629h3v1h-3zM804 629h3v1h-3zM810 629h3v1h-3zM816 629h3v1h-3zM822 629h3v1h-3zM828 629h3v1h-3zM1074 629h2v1h-2zM183 636h2v1h-2zM207 636h3v1h-3zM255 636h2v1h-2zM477 636h3v1h-3zM1093 636h2v1h-2zM287 654h1v1h-1zM345 654h3v1h-3zM160 626h2v1h-2zM573 626h3v1h-3zM750 626h3v1h-3zM840 626h2v1h-2zM1069 626h2v1h-2zM625 590h1v1h-1zM690 590h2v1h-2zM870 590h1v1h-1zM963 590h1v1h-1zM668 580h1v1h-1zM880 580h2v1h-2zM897 580h3v1h-3zM915 580h2v1h-2zM952 580h2v1h-2zM293 657h1v1h-1zM297 657h3v1h-3zM303 657h2v1h-2zM99 616h2v1h-2zM852 616h1v1h-1zM990 616h3v1h-3zM1009 616h2v1h-2zM1050 616h2v1h-2zM617 601h1v1h-1zM714 601h2v1h-2zM972 601h1v1h-1zM879 581h1v1h-1zM903 581h3v1h-3zM909 581h3v1h-3zM273 645h2v1h-2zM363 645h1v1h-1zM400 645h2v1h-2zM441 645h1v1h-1zM1122 645h3v1h-3zM1160 645h1v1h-1zM636 579h1v1h-1zM666 579h2v1h-2zM893 579h1v1h-1zM917 579h1v1h-1zM951 579h1v1h-1zM616 602h1v1h-1zM716 602h1v1h-1zM862 602h1v1h-1zM973 602h1v1h-1zM708 598h2v1h-2zM864 598h1v1h-1zM625 591h1v1h-1zM692 591h1v1h-1zM869 591h1v1h-1zM964 591h1v1h-1zM285 653h2v1h-2zM637 578h2v1h-2zM885 578h3v1h-3zM891 578h2v1h-2zM921 578h3v1h-3zM275 646h1v1h-1zM437 646h1v1h-1zM1158 646h2v1h-2zM291 656h2v1h-2zM305 656h1v1h-1zM309 656h3v1h-3zM620 597h1v1h-1zM865 597h1v1h-1zM969 597h1v1h-1zM87 612h1v1h-1zM605 612h1v1h-1zM984 612h1v1h-1zM1033 612h2v1h-2zM1038 612h3v1h-3zM621 596h1v1h-1zM704 596h1v1h-1zM866 596h1v1h-1zM968 596h1v1h-1zM33 608h3v1h-3zM39 608h2v1h-2zM75 608h2v1h-2zM610 608h1v1h-1zM726 608h1v1h-1zM858 608h1v1h-1zM979 608h1v1h-1zM696 593h2v1h-2zM51 606h2v1h-2zM69 606h3v1h-3zM21 609h3v1h-3zM27 609h3v1h-3zM77 609h1v1h-1zM609 609h1v1h-1zM727 609h1v1h-1zM857 609h1v1h-1zM980 609h1v1h-1zM3 610h3v1h-3zM9 610h3v1h-3zM15 610h3v1h-3zM81 610h1v1h-1zM728 610h1v1h-1zM856 610h1v1h-1zM352 651h2v1h-2zM417 651h3v1h-3zM423 651h2v1h-2zM105 618h3v1h-3zM111 618h2v1h-2zM597 618h1v1h-1zM739 618h1v1h-1zM997 618h2v1h-2zM267 641h1v1h-1zM370 641h2v1h-2zM393 641h1v1h-1zM1112 641h1v1h-1zM1170 641h3v1h-3zM93 615h3v1h-3zM853 615h1v1h-1zM1014 615h3v1h-3zM1046 615h1v1h-1zM603 614h1v1h-1zM733 614h2v1h-2zM853 614h1v1h-1zM1020 614h3v1h-3zM1044 614h2v1h-2zM178 634h2v1h-2zM219 634h3v1h-3zM243 634h3v1h-3zM485 634h1v1h-1zM1086 634h3v1h-3zM495 632h2v1h-2zM1081 632h2v1h-2zM113 619h1v1h-1zM117 619h3v1h-3zM740 619h1v1h-1zM1056 619h2v1h-2zM581 624h1v1h-1zM195 638h2v1h-2zM261 638h1v1h-1zM381 638h3v1h-3zM465 638h3v1h-3zM1104 638h1v1h-1zM129 621h3v1h-3zM135 621h2v1h-2zM591 621h1v1h-1zM847 621h1v1h-1zM626 589h1v1h-1zM962 589h1v1h-1zM268 642h2v1h-2zM369 642h1v1h-1zM394 642h2v1h-2zM448 642h2v1h-2zM1116 642h1v1h-1zM159 625h1v1h-1zM579 625h2v1h-2zM842 625h1v1h-1zM1068 625h1v1h-1zM447 643h1v1h-1zM1117 643h2v1h-2zM1165 643h2v1h-2zM153 623h3v1h-3zM585 623h1v1h-1zM745 623h2v1h-2zM1064 623h1v1h-1zM53 605h1v1h-1zM57 605h3v1h-3zM63 605h3v1h-3zM721 605h2v1h-2zM123 620h3v1h-3zM592 620h2v1h-2zM848 620h1v1h-1zM1058 620h1v1h-1zM213 635h3v1h-3zM249 635h3v1h-3zM483 635h2v1h-2zM1092 635h1v1h-1zM172 631h2v1h-2zM497 631h1v1h-1zM501 631h3v1h-3zM1080 631h1v1h-1zM631 584h1v1h-1zM875 584h1v1h-1zM958 584h1v1h-1zM82 611h2v1h-2zM357 648h2v1h-2zM406 648h2v1h-2zM1130 648h1v1h-1zM1153 648h2v1h-2zM389 640h1v1h-1zM453 640h3v1h-3zM1110 640h2v1h-2zM939 573h2v1h-2zM88 613h2v1h-2zM604 613h1v1h-1zM732 613h1v1h-1zM985 613h2v1h-2zM1026 613h3v1h-3zM1032 613h1v1h-1zM660 576h1v1h-1zM927 576h2v1h-2zM946 576h2v1h-2zM359 647h1v1h-1zM405 647h1v1h-1zM435 647h2v1h-2zM1128 647h2v1h-2zM680 586h1v1h-1zM873 586h1v1h-1zM661 577h2v1h-2zM720 604h1v1h-1zM860 604h1v1h-1zM672 582h2v1h-2zM698 594h1v1h-1zM632 583h1v1h-1zM674 583h1v1h-1zM957 583h1v1h-1zM869 592h1v1h-1zM621 595h1v1h-1zM702 595h2v1h-2zM967 595h1v1h-1zM615 603h1v1h-1zM861 603h1v1h-1zM974 603h1v1h-1zM569 627h1v1h-1zM756 627h1v1h-1zM684 587h1v1h-1zM710 599h1v1h-1zM351 652h1v1h-1z" fill="#ff0000"/></g><rect x="1419" y="566" width="1" height="1" fill="#000" /><rect x="1419" y="627" width="2" height="1" fill="#000" /><rect x="1419" y="667" width="1" height="1" fill="#000" /><g clip-path="url(#crsi)"><line x1="4" y1="710.5" x2="1418" y2="710.5" stroke="#c0c0c0" stroke-width="1" stroke-dasharray="3 3"/><line x1="4" y1="761.5" x2="1418" y2="761.5" stroke="#c0c0c0" stroke-width="1" stroke-dasharray="3 3"/><path d="M1020 730h1v2h-1zM766 734h1v1h-1zM275 762h1v1h-1zM1081 745h1v2h-1zM697 720h1v1h-1zM1125 752h1v1h-1zM689 716h1v2h-1zM392 758h1v1h-1zM69 741h1v2h-1zM834 723h1v3h-1zM48 718h1v2h-1zM648 714h1v1h-1zM709 728h1v4h-1zM290 746h1v1h-1zM241 741h1v1h-1zM461 744h1v3h-1zM93 726h1v2h-1zM576 731h1v2h-1zM850 703h1v6h-1zM682 712h1v1h-1zM191 740h1v1h-1zM829 731h1v1h-1zM130 730h1v1h-1zM358 737h1v1h-1zM149 738h1v6h-1zM484 732h1v2h-1zM1121 759h1v2h-1zM286 748h1v3h-1zM487 738h1v1h-1zM1031 722h1v1h-1zM36 722h1v1h-1zM150 744h1v6h-1zM1098 748h1v1h-1zM749 743h1v3h-1zM131 730h1v1h-1zM229 744h1v1h-1zM838 707h1v4h-1zM587 716h1v2h-1zM1110 758h1v1h-1zM607 695h1v2h-1zM1099 748h1v1h-1zM768 734h1v1h-1zM1167 739h1v1h-1zM77 736h1v1h-1zM1042 744h1v2h-1zM312 755h1v1h-1zM62 728h1v6h-1zM868 710h1v5h-1zM700 720h1v1h-1zM1152 737h1v1h-1zM849 697h1v6h-1zM1008 723h1v1h-1zM1072 744h1v1h-1zM99 732h1v1h-1zM506 741h1v1h-1zM265 764h1v1h-1zM633 702h1v1h-1zM833 726h1v2h-1zM68 743h1v2h-1zM625 698h1v1h-1zM100 733h1v1h-1zM361 737h1v1h-1zM266 765h1v1h-1zM459 750h1v2h-1zM187 737h1v1h-1zM326 749h1v4h-1zM970 737h1v1h-1zM84 730h1v1h-1zM1120 761h1v2h-1zM965 743h1v2h-1zM1030 723h1v2h-1zM748 746h1v3h-1zM1144 746h1v2h-1zM957 738h1v2h-1zM58 713h1v1h-1zM606 697h1v2h-1zM175 739h1v2h-1zM783 739h1v1h-1zM342 737h1v1h-1zM958 740h1v2h-1zM659 709h1v1h-1zM54 715h1v1h-1zM1026 730h1v2h-1zM1018 727h1v2h-1zM601 704h1v1h-1zM422 738h1v2h-1zM118 735h1v1h-1zM635 702h1v1h-1zM710 732h1v5h-1zM1083 748h1v1h-1zM688 713h1v3h-1zM8 725h1v1h-1zM543 739h1v2h-1zM901 713h1v2h-1zM106 738h1v1h-1zM1067 745h1v1h-1zM570 729h1v1h-1zM414 747h1v1h-1zM352 734h1v2h-1zM718 747h1v3h-1zM353 736h1v2h-1zM155 757h1v1h-1zM609 697h1v2h-1zM1037 729h1v4h-1zM1143 748h1v1h-1zM406 746h1v2h-1zM1040 740h1v2h-1zM171 736h1v2h-1zM665 714h1v2h-1zM584 726h1v4h-1zM113 732h1v1h-1zM778 740h1v1h-1zM919 715h1v2h-1zM279 764h1v1h-1zM467 735h1v1h-1zM848 691h1v6h-1zM425 738h1v1h-1zM19 724h1v1h-1zM1025 732h1v2h-1zM763 732h1v2h-1zM836 715h1v4h-1zM201 737h1v2h-1zM147 729h1v3h-1zM421 740h1v1h-1zM462 741h1v3h-1zM371 739h1v2h-1zM844 698h1v4h-1zM855 708h1v1h-1zM646 714h1v1h-1zM101 734h1v1h-1zM416 746h1v1h-1zM759 740h1v2h-1zM542 741h1v3h-1zM102 735h1v1h-1zM458 748h1v2h-1zM691 721h1v2h-1zM900 715h1v2h-1zM839 704h1v3h-1zM535 738h1v2h-1zM481 731h1v1h-1zM189 739h1v1h-1zM3 734h1v2h-1zM895 721h1v1h-1zM129 730h1v1h-1zM1104 751h1v1h-1zM960 743h1v1h-1zM743 745h1v1h-1zM554 729h1v1h-1zM1097 748h1v1h-1zM124 736h1v2h-1zM1130 745h1v1h-1zM116 732h1v1h-1zM1047 747h1v1h-1zM117 733h1v2h-1zM978 732h1v1h-1zM637 704h1v1h-1zM762 734h1v2h-1zM71 738h1v1h-1zM63 734h1v4h-1zM869 715h1v5h-1zM397 759h1v1h-1zM1006 723h1v1h-1zM638 705h1v1h-1zM975 735h1v1h-1zM242 741h1v1h-1zM454 740h1v1h-1zM192 740h1v1h-1zM694 721h1v1h-1zM1123 755h1v2h-1zM67 744h1v2h-1zM488 738h1v1h-1zM446 741h1v1h-1zM719 750h1v2h-1zM1062 744h1v1h-1zM899 717h1v1h-1zM751 738h1v2h-1zM1118 760h1v2h-1zM1036 725h1v4h-1zM127 730h1v2h-1zM663 711h1v1h-1zM1119 762h1v2h-1zM1091 743h1v1h-1zM611 700h1v1h-1zM1175 742h1v1h-1zM664 712h1v2h-1zM1092 744h1v2h-1zM982 729h1v1h-1zM123 738h1v1h-1zM1129 746h1v2h-1zM469 737h1v1h-1zM73 737h1v1h-1zM52 714h1v1h-1zM305 750h1v3h-1zM274 763h1v1h-1zM13 728h1v1h-1zM861 708h1v1h-1zM47 720h1v1h-1zM256 750h1v2h-1zM1149 739h1v1h-1zM753 738h1v1h-1zM690 718h1v3h-1zM613 700h1v1h-1zM35 723h1v1h-1zM1113 756h1v2h-1zM183 743h1v1h-1zM529 742h1v1h-1zM1145 744h1v2h-1zM929 711h1v2h-1zM670 717h1v1h-1zM985 729h1v1h-1zM837 711h1v4h-1zM943 731h1v2h-1zM962 745h1v1h-1zM1163 735h1v1h-1zM472 738h1v1h-1zM986 730h1v1h-1zM1164 736h1v1h-1zM76 737h1v1h-1zM300 747h1v1h-1zM814 739h1v2h-1zM277 763h1v1h-1zM846 690h1v4h-1zM878 723h1v1h-1zM278 764h1v1h-1zM418 744h1v1h-1zM756 739h1v1h-1zM640 707h1v2h-1zM632 703h1v1h-1zM65 740h1v2h-1zM380 753h1v1h-1zM969 738h1v2h-1zM134 728h1v1h-1zM571 729h1v1h-1zM1000 726h1v1h-1zM594 712h1v1h-1zM479 731h1v1h-1zM893 721h1v1h-1zM232 746h1v1h-1zM1094 747h1v2h-1zM1044 746h1v1h-1zM436 746h1v1h-1zM303 746h1v2h-1zM920 715h1v1h-1zM314 756h1v1h-1zM809 735h1v1h-1zM775 741h1v2h-1zM304 748h1v2h-1zM296 743h1v2h-1zM905 708h1v1h-1zM977 733h1v1h-1zM627 700h1v1h-1zM330 741h1v2h-1zM7 725h1v2h-1zM856 708h1v1h-1zM1075 746h1v1h-1zM268 766h1v1h-1zM95 730h1v2h-1zM1059 743h1v1h-1zM159 752h1v1h-1zM482 731h1v1h-1zM452 739h1v1h-1zM190 739h1v1h-1zM927 709h1v1h-1zM1052 740h1v2h-1zM486 736h1v2h-1zM405 748h1v2h-1zM444 740h1v1h-1zM235 746h1v1h-1zM227 742h1v1h-1zM30 722h1v1h-1zM1089 743h1v1h-1zM1173 742h1v1h-1zM555 729h1v1h-1zM661 710h1v1h-1zM170 738h1v2h-1zM786 741h1v1h-1zM120 737h1v1h-1zM401 755h1v2h-1zM662 711h1v1h-1zM466 736h1v1h-1zM18 725h1v1h-1zM1166 738h1v1h-1zM1128 748h1v1h-1zM649 713h1v1h-1zM641 709h1v1h-1zM1007 723h1v1h-1zM253 749h1v1h-1zM45 720h1v1h-1zM642 710h1v2h-1zM854 709h1v1h-1zM497 737h1v2h-1zM148 732h1v6h-1zM623 696h1v1h-1zM287 746h1v2h-1zM695 721h1v1h-1zM801 738h1v2h-1zM264 763h1v1h-1zM624 697h1v1h-1zM573 731h1v1h-1zM720 750h1v1h-1zM33 723h1v1h-1zM1051 742h1v1h-1zM990 732h1v1h-1zM404 750h1v2h-1zM612 700h1v1h-1zM349 735h1v1h-1zM173 738h1v1h-1zM527 740h1v2h-1zM1096 749h1v1h-1zM519 737h1v1h-1zM60 716h1v6h-1zM991 732h1v1h-1zM177 743h1v2h-1zM983 728h1v1h-1zM819 742h1v1h-1zM705 720h1v1h-1zM74 737h1v1h-1zM53 714h1v1h-1zM400 757h1v2h-1zM1017 726h1v1h-1zM317 759h1v2h-1zM727 744h1v1h-1zM1009 722h1v1h-1zM70 739h1v2h-1zM298 746h1v2h-1zM876 723h1v1h-1zM204 738h1v2h-1zM1021 732h1v2h-1zM629 702h1v1h-1zM165 747h1v1h-1zM857 709h1v1h-1zM508 741h1v1h-1zM104 737h1v1h-1zM568 728h1v1h-1zM105 738h1v1h-1zM754 738h1v1h-1zM377 751h1v1h-1zM843 702h1v2h-1zM750 740h1v3h-1zM679 716h1v1h-1zM994 727h1v2h-1zM1107 754h1v1h-1zM933 717h1v2h-1zM671 717h1v1h-1zM25 722h1v1h-1zM891 720h1v1h-1zM283 756h1v2h-1zM738 743h1v1h-1zM656 710h1v1h-1zM739 744h1v1h-1zM301 747h1v1h-1zM1012 722h1v1h-1zM1043 746h1v1h-1zM879 723h1v1h-1zM199 735h1v1h-1zM599 705h1v1h-1zM294 743h1v1h-1zM335 744h1v1h-1zM244 742h1v1h-1zM1148 740h1v1h-1zM194 741h1v1h-1zM245 743h1v2h-1zM1136 743h1v1h-1zM1102 750h1v1h-1zM894 721h1v1h-1zM233 746h1v1h-1zM430 738h1v1h-1zM176 741h1v2h-1zM471 739h1v1h-1zM81 733h1v2h-1zM1027 728h1v2h-1zM20 723h1v1h-1zM179 747h1v2h-1zM734 740h1v1h-1zM338 740h1v1h-1zM914 707h1v1h-1zM1155 733h1v1h-1zM1088 743h1v1h-1zM315 756h1v1h-1zM1019 729h1v1h-1zM810 735h1v1h-1zM882 723h1v1h-1zM1156 734h1v2h-1zM316 757h1v2h-1zM906 708h1v1h-1zM708 723h1v5h-1zM42 719h1v1h-1zM198 736h1v2h-1zM636 703h1v1h-1zM145 731h1v1h-1zM494 735h1v1h-1zM621 696h1v1h-1zM43 719h1v1h-1zM96 731h1v1h-1zM88 727h1v1h-1zM999 727h1v1h-1zM1060 743h1v1h-1zM790 738h1v1h-1zM825 732h1v1h-1zM354 738h1v2h-1zM31 722h1v1h-1zM1090 743h1v1h-1zM1109 756h1v2h-1zM224 744h1v1h-1zM787 741h1v1h-1zM988 731h1v1h-1zM517 737h1v1h-1zM121 737h1v1h-1zM666 716h1v2h-1zM61 722h1v6h-1zM80 735h1v1h-1zM1041 742h1v2h-1zM322 763h1v1h-1zM703 719h1v1h-1zM167 745h1v2h-1zM650 713h1v1h-1zM904 709h1v1h-1zM976 734h1v1h-1zM505 740h1v1h-1zM307 755h1v2h-1zM254 749h1v1h-1zM46 720h1v1h-1zM246 745h1v1h-1zM372 741h1v2h-1zM383 750h1v1h-1zM247 746h1v1h-1zM258 755h1v2h-1zM752 738h1v1h-1zM158 753h1v1h-1zM137 730h1v2h-1zM681 713h1v2h-1zM721 750h1v1h-1zM34 723h1v1h-1zM824 733h1v2h-1zM174 738h1v1h-1zM923 713h1v1h-1zM889 720h1v1h-1zM706 720h1v1h-1zM744 746h1v1h-1zM1010 722h1v1h-1zM820 740h1v2h-1zM812 736h1v2h-1zM276 763h1v1h-1zM1127 749h1v1h-1zM877 723h1v1h-1zM728 743h1v1h-1zM310 755h1v1h-1zM707 720h1v3h-1zM630 702h1v1h-1zM858 709h1v1h-1zM873 725h1v1h-1zM631 703h1v1h-1zM97 732h1v1h-1zM800 740h1v1h-1zM455 741h1v2h-1zM593 712h1v1h-1zM355 740h1v1h-1zM193 741h1v1h-1zM230 745h1v1h-1zM956 736h1v2h-1zM1111 759h1v1h-1zM325 753h1v4h-1zM1134 742h1v1h-1zM348 736h1v1h-1zM1100 749h1v1h-1zM667 718h1v1h-1zM1029 725h1v1h-1zM731 739h1v1h-1zM1168 740h1v1h-1zM1093 746h1v1h-1zM1161 737h1v1h-1zM657 709h1v1h-1zM313 756h1v1h-1zM732 739h1v1h-1zM880 723h1v1h-1zM302 746h1v1h-1zM580 727h1v1h-1zM203 740h1v1h-1zM1073 745h1v1h-1zM507 742h1v1h-1zM626 699h1v1h-1zM248 747h1v1h-1zM195 741h1v1h-1zM575 733h1v1h-1zM385 752h1v2h-1zM500 739h1v1h-1zM595 711h1v1h-1zM249 748h1v2h-1zM188 738h1v1h-1zM367 740h1v1h-1zM359 736h1v1h-1zM997 727h1v1h-1zM1122 757h1v2h-1zM412 747h1v1h-1zM29 722h1v1h-1zM784 740h1v1h-1zM282 758h1v2h-1zM1039 737h1v3h-1zM180 747h1v1h-1zM735 740h1v1h-1zM915 707h1v2h-1zM746 749h1v1h-1zM1028 726h1v2h-1zM55 715h1v1h-1zM119 736h1v1h-1zM339 739h1v1h-1zM112 733h1v1h-1zM701 719h1v1h-1zM1076 745h1v1h-1zM1153 735h1v2h-1zM502 738h1v1h-1zM293 744h1v1h-1zM1024 734h1v2h-1zM369 739h1v1h-1zM107 739h1v1h-1zM495 735h1v1h-1zM142 733h1v1h-1zM618 698h1v1h-1zM415 747h1v1h-1zM795 739h1v1h-1zM32 722h1v1h-1zM947 729h1v1h-1zM966 742h1v1h-1zM476 735h1v1h-1zM343 736h1v1h-1zM940 725h1v2h-1zM513 738h1v1h-1zM741 745h1v1h-1zM1170 742h1v1h-1zM887 719h1v1h-1zM281 760h1v2h-1zM114 732h1v1h-1zM1045 747h1v1h-1zM547 736h1v1h-1zM1171 743h1v1h-1zM464 738h1v1h-1zM323 761h1v3h-1zM704 719h1v1h-1zM845 694h1v4h-1zM319 763h1v2h-1zM144 732h1v1h-1zM250 750h1v1h-1zM647 715h1v1h-1zM239 740h1v1h-1zM628 701h1v1h-1zM902 711h1v2h-1zM251 751h1v1h-1zM620 697h1v1h-1zM103 736h1v1h-1zM1068 744h1v1h-1zM692 722h1v1h-1zM852 711h1v1h-1zM87 728h1v1h-1zM1034 723h1v1h-1zM563 729h1v1h-1zM1139 745h1v1h-1zM1105 752h1v1h-1zM532 741h1v1h-1zM220 740h1v2h-1zM1140 746h1v1h-1zM23 720h1v1h-1zM935 721h1v2h-1zM516 738h1v1h-1zM885 721h1v1h-1zM126 732h1v2h-1zM932 715h1v2h-1zM441 743h1v2h-1zM736 741h1v1h-1zM924 712h1v1h-1zM1038 733h1v4h-1zM866 707h1v1h-1zM737 742h1v1h-1zM50 714h1v2h-1zM867 707h1v3h-1zM166 746h1v1h-1zM311 755h1v1h-1zM72 738h1v1h-1zM1070 743h1v1h-1zM398 759h1v1h-1zM273 764h1v2h-1zM643 712h1v1h-1zM98 732h1v1h-1zM874 724h1v1h-1zM1056 737h1v2h-1zM565 728h1v1h-1zM680 715h1v1h-1zM840 704h1v1h-1zM409 746h1v1h-1zM995 726h1v1h-1zM356 739h1v1h-1zM781 739h1v1h-1zM1135 742h1v1h-1zM151 750h1v4h-1zM1112 758h1v1h-1zM668 718h1v1h-1zM208 733h1v1h-1zM125 734h1v2h-1zM782 739h1v1h-1zM470 738h1v1h-1zM178 745h1v2h-1zM600 704h1v1h-1zM49 716h1v2h-1zM318 761h1v2h-1zM1158 737h1v2h-1zM299 748h1v1h-1zM501 739h1v1h-1zM1150 739h1v1h-1zM451 738h1v1h-1zM368 740h1v1h-1zM870 720h1v5h-1zM998 727h1v1h-1zM592 713h1v1h-1zM1115 754h1v2h-1zM569 729h1v1h-1zM413 747h1v1h-1zM952 732h1v1h-1zM1141 747h1v1h-1zM785 740h1v1h-1zM934 719h1v2h-1zM847 687h1v4h-1zM747 749h1v2h-1zM215 739h1v1h-1zM181 745h1v2h-1zM1160 738h1v1h-1zM911 708h1v1h-1zM511 737h1v1h-1zM702 719h1v1h-1zM807 735h1v1h-1zM503 738h1v1h-1zM370 739h1v1h-1zM644 713h1v1h-1zM499 740h1v1h-1zM687 711h1v2h-1zM1002 723h1v1h-1zM572 730h1v1h-1zM645 714h1v1h-1zM40 720h1v1h-1zM449 739h1v1h-1zM374 745h1v2h-1zM6 727h1v2h-1zM238 741h1v2h-1zM135 728h1v1h-1zM534 739h1v1h-1zM619 697h1v1h-1zM537 743h1v3h-1zM184 741h1v2h-1zM225 743h1v1h-1zM217 739h1v1h-1zM28 723h1v1h-1zM1137 744h1v1h-1zM477 733h1v2h-1zM1087 743h1v1h-1zM944 731h1v1h-1zM218 739h1v1h-1zM514 738h1v1h-1zM742 745h1v1h-1zM210 735h1v1h-1zM324 757h1v4h-1zM864 707h1v1h-1zM297 745h1v1h-1zM111 734h1v1h-1zM548 735h1v1h-1zM17 726h1v2h-1zM1023 736h1v1h-1zM1157 736h1v1h-1zM465 737h1v1h-1zM309 755h1v1h-1zM395 758h1v1h-1zM973 735h1v1h-1zM320 764h1v1h-1zM1004 722h1v1h-1zM1005 723h1v1h-1zM240 740h1v1h-1zM1069 744h1v1h-1zM974 735h1v1h-1zM715 740h1v2h-1zM252 750h1v1h-1zM453 740h1v1h-1zM853 710h1v1h-1zM362 738h1v1h-1zM328 744h1v2h-1zM5 729h1v3h-1zM898 718h1v1h-1zM1035 723h1v2h-1zM564 729h1v1h-1zM228 743h1v1h-1zM407 744h1v2h-1zM525 736h1v2h-1zM954 734h1v1h-1zM475 736h1v1h-1zM955 735h1v1h-1zM551 731h1v1h-1zM403 752h1v1h-1zM772 735h1v2h-1zM886 720h1v1h-1zM981 729h1v1h-1zM921 714h1v1h-1zM122 738h1v1h-1zM817 742h1v1h-1zM1071 743h1v1h-1zM399 759h1v1h-1zM163 748h1v1h-1zM760 738h1v2h-1zM579 726h1v1h-1zM202 739h1v1h-1zM726 745h1v1h-1zM92 724h1v2h-1zM331 740h1v1h-1zM460 747h1v3h-1zM574 732h1v1h-1zM566 728h1v1h-1zM711 737h1v3h-1zM4 732h1v2h-1zM841 703h1v1h-1zM559 725h1v1h-1zM996 726h1v1h-1zM536 740h1v3h-1zM327 746h1v3h-1zM949 730h1v1h-1zM950 731h1v1h-1zM345 737h1v1h-1zM440 745h1v2h-1zM669 717h1v1h-1zM984 729h1v1h-1zM586 718h1v4h-1zM433 741h1v2h-1zM916 709h1v2h-1zM654 710h1v1h-1zM402 753h1v2h-1zM745 747h1v2h-1zM805 735h1v1h-1zM272 766h1v1h-1zM1124 753h1v2h-1zM390 757h1v1h-1zM288 746h1v1h-1zM725 746h1v2h-1zM793 738h1v1h-1zM832 728h1v3h-1zM1147 741h1v1h-1zM794 739h1v1h-1zM523 733h1v1h-1zM589 715h1v1h-1zM186 738h1v2h-1zM284 753h1v3h-1zM1142 747h1v1h-1zM524 734h1v2h-1zM937 723h1v1h-1zM231 746h1v1h-1zM26 722h1v1h-1zM938 724h1v1h-1zM216 739h1v1h-1zM585 722h1v4h-1zM605 699h1v2h-1zM428 738h1v1h-1zM1086 744h1v1h-1zM512 737h1v1h-1zM740 744h1v1h-1zM200 736h1v1h-1zM808 735h1v1h-1zM337 741h1v2h-1zM698 720h1v1h-1zM1154 734h1v1h-1zM306 753h1v2h-1zM393 758h1v1h-1zM581 728h1v2h-1zM291 746h1v1h-1zM492 736h1v1h-1zM257 752h1v3h-1zM712 739h1v1h-1zM41 720h1v1h-1zM450 739h1v1h-1zM386 754h1v1h-1zM713 740h1v1h-1zM831 731h1v2h-1zM139 733h1v1h-1zM1032 722h1v1h-1zM851 709h1v4h-1zM37 722h1v1h-1zM967 741h1v1h-1zM1146 742h1v2h-1zM561 727h1v1h-1zM226 743h1v1h-1zM1138 744h1v1h-1zM769 734h1v1h-1zM219 739h1v1h-1zM431 738h1v1h-1zM222 743h1v2h-1zM918 713h1v2h-1zM865 707h1v1h-1zM78 736h1v1h-1zM432 739h1v2h-1zM811 735h1v1h-1zM1085 745h1v2h-1zM835 719h1v4h-1zM396 758h1v1h-1zM815 741h1v1h-1zM545 737h1v1h-1zM336 743h1v1h-1zM420 741h1v2h-1zM903 710h1v1h-1zM1001 724h1v2h-1zM1065 745h1v1h-1zM457 745h1v3h-1zM363 738h1v1h-1zM541 744h1v2h-1zM533 740h1v1h-1zM827 729h1v1h-1zM408 745h1v1h-1zM85 729h1v1h-1zM674 715h1v1h-1zM157 754h1v2h-1zM59 713h1v3h-1zM925 711h1v1h-1zM552 730h1v1h-1zM21 722h1v1h-1zM1095 749h1v1h-1zM207 732h1v2h-1zM51 713h1v1h-1zM922 714h1v1h-1zM818 742h1v1h-1zM16 728h1v1h-1zM423 737h1v1h-1zM308 756h1v1h-1zM582 730h1v1h-1zM875 723h1v1h-1zM384 751h1v1h-1zM583 730h1v2h-1zM1126 750h1v2h-1zM164 747h1v1h-1zM761 736h1v2h-1zM262 761h1v1h-1zM798 741h1v1h-1zM871 725h1v3h-1zM567 728h1v1h-1zM677 716h1v1h-1zM897 719h1v1h-1zM842 703h1v1h-1zM236 744h1v2h-1zM799 741h1v1h-1zM791 737h1v1h-1zM1117 758h1v2h-1zM540 746h1v3h-1zM678 716h1v1h-1zM522 734h1v1h-1zM1132 743h1v1h-1zM951 731h1v1h-1zM346 737h1v1h-1zM156 756h1v1h-1zM221 742h1v1h-1zM213 738h1v1h-1zM1049 744h1v2h-1zM779 740h1v1h-1zM980 730h1v1h-1zM1133 743h1v1h-1zM426 738h1v1h-1zM655 710h1v1h-1zM813 738h1v1h-1zM764 733h1v1h-1zM206 734h1v2h-1zM730 740h1v1h-1zM651 712h1v1h-1zM806 735h1v1h-1zM578 727h1v2h-1zM802 737h1v1h-1zM364 739h1v1h-1zM269 767h1v1h-1zM498 739h1v1h-1zM376 749h1v2h-1zM722 749h1v1h-1zM373 743h1v2h-1zM828 730h1v1h-1zM1057 739h1v2h-1zM558 726h1v1h-1zM539 749h1v2h-1zM590 714h1v1h-1zM285 751h1v2h-1zM992 730h1v2h-1zM939 724h1v1h-1zM942 729h1v2h-1zM429 738h1v1h-1zM653 711h1v1h-1zM733 740h1v1h-1zM913 707h1v1h-1zM205 736h1v2h-1zM509 739h1v2h-1zM729 741h1v2h-1zM333 742h1v1h-1zM1022 734h1v2h-1zM597 708h1v1h-1zM1074 745h1v1h-1zM334 743h1v1h-1zM493 736h1v1h-1zM577 729h1v2h-1zM724 748h1v1h-1zM64 738h1v2h-1zM714 740h1v1h-1zM717 745h1v2h-1zM140 733h1v1h-1zM132 729h1v1h-1zM447 741h1v1h-1zM1063 744h1v1h-1zM185 740h1v1h-1zM953 733h1v1h-1zM604 701h1v2h-1zM946 730h1v1h-1zM770 733h1v1h-1zM79 736h1v1h-1zM771 733h1v2h-1zM280 762h1v2h-1zM321 763h1v1h-1zM774 739h1v2h-1zM816 741h1v1h-1zM686 711h1v1h-1zM109 736h1v2h-1zM546 737h1v1h-1zM463 739h1v2h-1zM496 736h1v1h-1zM196 739h1v2h-1zM596 709h1v2h-1zM971 736h1v1h-1zM91 723h1v1h-1zM143 733h1v1h-1zM94 728h1v2h-1zM375 747h1v2h-1zM796 740h1v1h-1zM378 752h1v2h-1zM485 734h1v2h-1zM86 729h1v1h-1zM675 715h1v1h-1zM538 746h1v3h-1zM948 730h1v1h-1zM530 742h1v1h-1zM153 755h1v1h-1zM615 700h1v1h-1zM823 735h1v1h-1zM154 756h1v1h-1zM553 730h1v1h-1zM344 736h1v1h-1zM473 737h1v1h-1zM56 714h1v1h-1zM22 721h1v1h-1zM169 740h1v3h-1zM603 703h1v1h-1zM340 738h1v1h-1zM884 722h1v1h-1zM1084 747h1v1h-1zM424 737h1v1h-1zM1013 723h1v1h-1zM1077 744h1v1h-1zM544 738h1v1h-1zM388 756h1v1h-1zM419 743h1v1h-1zM108 738h1v1h-1zM389 757h1v1h-1zM381 752h1v1h-1zM716 742h1v3h-1zM480 731h1v1h-1zM826 730h1v2h-1zM1054 737h1v2h-1zM347 737h1v1h-1zM24 721h1v1h-1zM526 738h1v2h-1zM936 723h1v1h-1zM822 736h1v2h-1zM780 740h1v1h-1zM959 742h1v1h-1zM438 747h1v1h-1zM115 731h1v1h-1zM773 737h1v2h-1zM1079 743h1v1h-1zM1080 744h1v1h-1zM803 736h1v1h-1zM259 757h1v2h-1zM693 721h1v1h-1zM365 739h1v1h-1zM270 767h1v1h-1zM483 731h1v1h-1zM723 749h1v1h-1zM366 740h1v1h-1zM1061 744h1v1h-1zM160 751h1v1h-1zM410 746h1v1h-1zM830 731h1v1h-1zM445 740h1v1h-1zM351 733h1v1h-1zM411 747h1v1h-1zM591 714h1v1h-1zM1114 755h1v1h-1zM521 735h1v1h-1zM209 734h1v1h-1zM1174 742h1v1h-1zM821 738h1v2h-1zM434 743h1v2h-1zM917 711h1v2h-1zM909 708h1v1h-1zM11 726h1v1h-1zM1159 739h1v1h-1zM292 745h1v1h-1zM860 708h1v1h-1zM684 711h1v1h-1zM12 727h1v1h-1zM598 706h1v2h-1zM696 721h1v1h-1zM38 721h1v1h-1zM141 733h1v1h-1zM133 729h1v1h-1zM1064 744h1v1h-1zM490 737h1v1h-1zM456 743h1v2h-1zM617 698h1v1h-1zM39 721h1v1h-1zM448 740h1v1h-1zM357 738h1v1h-1zM528 741h1v1h-1zM75 737h1v1h-1zM912 708h1v1h-1zM862 707h1v1h-1zM767 735h1v1h-1zM1082 747h1v1h-1zM110 735h1v1h-1zM260 759h1v1h-1zM972 736h1v1h-1zM1151 738h1v1h-1zM755 738h1v1h-1zM136 729h1v1h-1zM261 760h1v1h-1zM797 740h1v1h-1zM676 715h1v1h-1zM531 742h1v1h-1zM1033 723h1v1h-1zM608 696h1v1h-1zM83 731h1v1h-1zM1116 756h1v2h-1zM892 720h1v1h-1zM964 745h1v1h-1zM211 736h1v1h-1zM474 737h1v1h-1zM515 738h1v1h-1zM57 714h1v1h-1zM212 737h1v1h-1zM1169 741h1v1h-1zM435 745h1v1h-1zM550 732h1v1h-1zM1014 723h1v1h-1zM1078 744h1v1h-1zM267 766h1v1h-1zM90 724h1v1h-1zM237 743h1v1h-1zM162 749h1v1h-1zM1058 741h1v2h-1zM1103 750h1v1h-1zM443 739h1v2h-1zM234 746h1v1h-1zM789 739h1v1h-1zM1050 743h1v1h-1zM660 710h1v1h-1zM776 741h1v1h-1zM439 747h1v1h-1zM941 727h1v2h-1zM652 711h1v1h-1zM883 723h1v1h-1zM549 733h1v2h-1zM9 726h1v1h-1zM907 707h1v1h-1zM332 741h1v1h-1zM622 696h1v1h-1zM44 719h1v1h-1zM804 736h1v1h-1zM10 726h1v1h-1zM138 732h1v1h-1zM271 767h1v1h-1zM757 740h1v1h-1zM66 742h1v2h-1zM1053 739h1v1h-1zM683 711h1v1h-1zM89 725h1v2h-1zM560 726h1v1h-1zM610 699h1v1h-1zM556 728h1v1h-1zM993 729h1v1h-1zM442 741h1v2h-1zM989 731h1v1h-1zM518 737h1v1h-1zM172 737h1v1h-1zM468 736h1v1h-1zM510 738h1v1h-1zM910 708h1v1h-1zM1016 724h1v2h-1zM168 743h1v2h-1zM255 748h1v2h-1zM765 734h1v1h-1zM685 711h1v1h-1zM391 758h1v1h-1zM289 746h1v1h-1zM491 737h1v1h-1zM350 734h1v1h-1zM520 736h1v1h-1zM614 700h1v1h-1zM928 710h1v1h-1zM961 744h1v1h-1zM27 723h1v1h-1zM1106 753h1v1h-1zM152 754h1v1h-1zM890 720h1v1h-1zM602 703h1v1h-1zM1011 722h1v1h-1zM863 707h1v1h-1zM639 706h1v1h-1zM699 720h1v1h-1zM859 709h1v1h-1zM394 758h1v1h-1zM197 738h1v1h-1zM1003 722h1v1h-1zM387 755h1v1h-1zM243 741h1v1h-1zM360 737h1v1h-1zM616 699h1v1h-1zM562 728h1v1h-1zM672 716h1v1h-1zM1101 749h1v1h-1zM945 730h1v1h-1zM673 716h1v1h-1zM182 744h1v1h-1zM223 745h1v1h-1zM341 737h1v1h-1zM658 709h1v1h-1zM1162 736h1v1h-1zM881 723h1v1h-1zM1015 723h1v1h-1zM295 742h1v1h-1zM437 746h1v1h-1zM634 702h1v1h-1zM14 728h1v1h-1zM15 729h1v1h-1zM382 751h1v1h-1zM417 745h1v1h-1zM1055 736h1v1h-1zM1066 745h1v1h-1zM379 754h1v1h-1zM968 740h1v1h-1zM930 713h1v1h-1zM896 720h1v1h-1zM82 732h1v1h-1zM478 732h1v1h-1zM931 714h1v1h-1zM963 746h1v1h-1zM1108 755h1v1h-1zM777 741h1v1h-1zM1165 737h1v1h-1zM1131 744h1v1h-1zM987 730h1v1h-1zM1048 746h1v1h-1zM979 731h1v1h-1zM146 730h1v1h-1zM908 707h1v1h-1zM504 739h1v1h-1zM263 762h1v1h-1zM872 726h1v1h-1zM329 743h1v1h-1zM161 750h1v1h-1zM758 740h1v1h-1zM792 738h1v1h-1zM489 737h1v1h-1zM588 715h1v1h-1zM788 740h1v1h-1zM128 730h1v1h-1zM557 727h1v1h-1zM926 710h1v1h-1zM214 738h1v1h-1zM888 719h1v1h-1zM1046 747h1v1h-1zM1172 743h1v1h-1zM427 738h1v1h-1z" fill="#1e90ff"/></g><polygon points="3,795 3,800 8,800" fill="#c8c8c8"/><rect x="1419" y="672" width="2" height="1" fill="#000" /><rect x="1419" y="710" width="2" height="1" fill="#000" /><rect x="1419" y="761" width="2" height="1" fill="#000" /><rect x="1419" y="799" width="2" height="1" fill="#000" /><rect x="3" y="801" width="1" height="3" fill="#000" /><rect x="67" y="801" width="1" height="3" fill="#000" /><rect x="131" y="801" width="1" height="3" fill="#000" /><rect x="195" y="801" width="1" height="3" fill="#000" /><rect x="259" y="801" width="1" height="3" fill="#000" /><rect x="323" y="801" width="1" height="3" fill="#000" /><rect x="387" y="801" width="1" height="3" fill="#000" /><rect x="451" y="801" width="1" height="3" fill="#000" /><rect x="515" y="801" width="1" height="3" fill="#000" /><rect x="579" y="801" width="1" height="3" fill="#000" /><rect x="643" y="801" width="1" height="3" fill="#000" /><rect x="707" y="801" width="1" height="3" fill="#000" /><rect x="771" y="801" width="1" height="3" fill="#000" /><rect x="835" y="801" width="1" height="3" fill="#000" /><rect x="899" y="801" width="1" height="3" fill="#000" /><rect x="963" y="801" width="1" height="3" fill="#000" /><rect x="1027" y="801" width="1" height="3" fill="#000" /><rect x="1091" y="801" width="1" height="3" fill="#000" /><rect x="1155" y="801" width="1" height="3" fill="#000" /><polygon points="6,33 13,33 9.5,29" fill="#000" shape-rendering="auto"/><rect x="0" y="821" width="1461" height="1" fill="#e3e3e3" /><rect x="0" y="822" width="1461" height="1" fill="#ffffff" /><rect x="0" y="823" width="1461" height="20" fill="#f0f0f0" /><rect x="0" y="823" width="1461" height="1" fill="#000" /><rect x="0" y="843" width="1461" height="1" fill="#fafafa" /><rect x="437" y="823" width="111" height="19" fill="#ffffff" /><rect x="437" y="823" width="1" height="19" fill="#000" /><rect x="547" y="823" width="1" height="19" fill="#000" /><rect x="437" y="841" width="111" height="1" fill="#000" /><rect x="112" y="826" width="1" height="14" fill="#6d6d6d" /><rect x="221" y="826" width="1" height="14" fill="#6d6d6d" /><rect x="328" y="826" width="1" height="14" fill="#6d6d6d" /><rect x="668" y="826" width="1" height="14" fill="#6d6d6d" /><rect x="792" y="826" width="1" height="14" fill="#6d6d6d" /><rect x="888" y="826" width="1" height="14" fill="#6d6d6d" /><rect x="968" y="826" width="1" height="14" fill="#6d6d6d" /><rect x="1072" y="826" width="1" height="14" fill="#6d6d6d" /><rect x="1164" y="826" width="1" height="14" fill="#6d6d6d" /><rect x="1244" y="826" width="1" height="14" fill="#6d6d6d" /><polygon points="1437,829 1437,835 1434,832" fill="#a0a0a0" shape-rendering="auto"/><polygon points="1453,829 1453,835 1456,832" fill="#a0a0a0" shape-rendering="auto"/></svg>
<div class="t" style="left:1424px;top:28px;letter-spacing:-0.6px">7.21290</div>
<div class="t" style="left:1424px;top:61px;letter-spacing:-0.6px">7.17890</div>
<div class="t" style="left:1424px;top:94px;letter-spacing:-0.6px">7.14390</div>
<div class="t" style="left:1424px;top:127px;letter-spacing:-0.6px">7.10890</div>
<div class="t" style="left:1424px;top:160px;letter-spacing:-0.6px">7.07490</div>
<div class="t" style="left:1424px;top:193px;letter-spacing:-0.6px">7.03990</div>
<div class="t" style="left:1424px;top:226px;letter-spacing:-0.6px">7.00490</div>
<div class="t" style="left:1424px;top:259px;letter-spacing:-0.6px">6.97090</div>
<div class="t" style="left:1424px;top:292px;letter-spacing:-0.6px">6.93590</div>
<div class="t" style="left:1424px;top:325px;letter-spacing:-0.6px">6.90090</div>
<div class="t" style="left:1424px;top:358px;letter-spacing:-0.6px">6.86690</div>
<div class="t" style="left:1424px;top:391px;letter-spacing:-0.6px">6.83190</div>
<div class="t" style="left:1424px;top:424px;letter-spacing:-0.6px">6.79690</div>
<div class="t" style="left:1424px;top:457px;letter-spacing:-0.6px">6.76290</div>
<div class="t" style="left:1424px;top:490px;letter-spacing:-0.6px">6.72790</div>
<div class="t" style="left:1424px;top:523px;letter-spacing:-0.6px">6.69290</div>
<div class="t" style="left:1424px;top:556px;letter-spacing:-0.6px">6.65890</div>
<div class="t" style="left:1422px;top:567px;letter-spacing:-0.6px">0.060687</div>
<div class="t" style="left:1422px;top:623px;letter-spacing:-0.6px">0.00</div>
<div class="t" style="left:1422px;top:659px;letter-spacing:-0.6px">-0.040432</div>
<div class="t" style="left:7px;top:569px;letter-spacing:-0.35px">MACD(12,26,9) -0.009878 -0.013926</div>
<div class="t" style="left:1422px;top:674px;letter-spacing:-0.6px">100</div>
<div class="t" style="left:1421px;top:707px;letter-spacing:-0.6px">70</div>
<div class="t" style="left:1421px;top:758px;letter-spacing:-0.6px">30</div>
<div class="t" style="left:1422px;top:789px;">0</div>
<div class="t" style="left:7px;top:675px;letter-spacing:-0.4px">RSI(14) 44.7742</div>
<div class="t" style="left:3px;top:806px;letter-spacing:-0.4px">11 Oct 2018</div>
<div class="t" style="left:67px;top:806px;letter-spacing:-0.4px">2 Nov 2018</div>
<div class="t" style="left:131px;top:806px;letter-spacing:-0.4px">26 Nov 2018</div>
<div class="t" style="left:195px;top:806px;letter-spacing:-0.4px">18 Dec 2018</div>
<div class="t" style="left:259px;top:806px;letter-spacing:-0.4px">9 Jan 2019</div>
<div class="t" style="left:323px;top:806px;letter-spacing:-0.4px">31 Jan 2019</div>
<div class="t" style="left:387px;top:806px;letter-spacing:-0.4px">22 Feb 2019</div>
<div class="t" style="left:451px;top:806px;letter-spacing:-0.4px">18 Mar 2019</div>
<div class="t" style="left:515px;top:806px;letter-spacing:-0.4px">9 Apr 2019</div>
<div class="t" style="left:579px;top:806px;letter-spacing:-0.4px">2 May 2019</div>
<div class="t" style="left:643px;top:806px;letter-spacing:-0.4px">24 May 2019</div>
<div class="t" style="left:707px;top:806px;letter-spacing:-0.4px">17 Jun 2019</div>
<div class="t" style="left:771px;top:806px;letter-spacing:-0.4px">9 Jul 2019</div>
<div class="t" style="left:835px;top:806px;letter-spacing:-0.4px">31 Jul 2019</div>
<div class="t" style="left:899px;top:806px;letter-spacing:-0.4px">22 Aug 2019</div>
<div class="t" style="left:963px;top:806px;letter-spacing:-0.4px">13 Sep 2019</div>
<div class="t" style="left:1027px;top:806px;letter-spacing:-0.4px">7 Oct 2019</div>
<div class="t" style="left:1091px;top:806px;letter-spacing:-0.4px">29 Oct 2019</div>
<div class="t" style="left:1155px;top:806px;letter-spacing:-0.4px">20 Nov 2019</div>
<div class="t" style="left:18px;top:27px;letter-spacing:-0.3px">USDCNH-,Daily</div>
<div class="t" style="left:92px;top:27px;letter-spacing:-0.35px">7.01421 7.02145 7.01350 7.01731</div>
<div class="tb" style="left:6px;top:2px;">H4</div>
<div class="tb" style="left:35px;top:2px;">D1</div>
<div class="tb" style="left:62px;top:2px;">W1</div>
<div class="tb" style="left:88px;top:2px;">MN</div>
<div class="tab" style="left:15px;top:828px;">EURUSD-,Daily</div>
<div class="tab" style="left:122px;top:828px;">AUDUSD-,Daily</div>
<div class="tab" style="left:233px;top:828px;">USDCHF-,Daily</div>
<div class="tab" style="left:340px;top:828px;">USDCAD-,Daily</div>
<div class="tab" style="left:559px;top:828px;">EURCHF-,Weekly</div>
<div class="tab" style="left:680px;top:828px;">XAUUSD-,Weekly</div>
<div class="tab" style="left:803px;top:828px;">GBPUSD-,H1</div>
<div class="tab" style="left:899px;top:828px;">UKOil-,H1</div>
<div class="tab" style="left:978px;top:828px;">USDX-,Weekly</div>
<div class="tab" style="left:1082px;top:828px;">EURCHF-,H1</div>
<div class="tab" style="left:1176px;top:828px;">USOil-,H1</div>
<div class="tab" style="left:449px;top:828px;color:#000">USDCNH-,Daily</div>
<div class="lab" style="top:38px;background:#ff0000"><span>7.20007</span></div>
<div class="lab" style="top:132px;background:#ff0000"><span>7.10051</span></div>
<div class="lab" style="top:212px;background:#000000"><span>7.01731</span></div>
<div class="lab" style="top:227px;background:#00ff00"><span>7.00089</span></div>
<div class="lab" style="top:322px;background:#0000ff"><span>6.90100</span></div>
<div class="lab" style="top:398px;background:#0000ff"><span>6.82103</span></div>

<div class="pn" style="left:4px;top:39px;width:223px;height:69px;background:#fff"></div>
<div class="pn" style="left:6px;top:42px;width:52px;height:24px;background:linear-gradient(#5656ff,#4040f2);border:1px solid #1a1ab0;border-bottom:none"></div>
<div class="pn" style="left:10px;top:65px;width:45px;height:1px;background:#2a2aa8"></div>
<div class="pn" style="left:6px;top:66px;width:109px;height:40px;background:linear-gradient(#3434e6,#0000b4);border:1px solid #1010a0;border-top:none"></div>
<div class="pn" style="left:10px;top:66px;width:45px;height:1px;background:#8c8cff"></div>
<div class="pn" style="left:173px;top:42px;width:52px;height:24px;background:linear-gradient(#5656ff,#4040f2);border:1px solid #1a1ab0;border-bottom:none"></div>
<div class="pn" style="left:177px;top:65px;width:44px;height:1px;background:#2a2aa8"></div>
<div class="pn" style="left:117px;top:66px;width:108px;height:40px;background:linear-gradient(#3434e6,#0000b4);border:1px solid #1010a0;border-top:none"></div>
<div class="pn" style="left:177px;top:66px;width:44px;height:1px;background:#8c8cff"></div>
<div class="pn" style="left:60px;top:42px;width:111px;height:22px;background:#fff;border:1px solid #a8a8a8"></div>
<div class="pn" style="left:61px;top:43px;width:20px;height:20px;background:linear-gradient(#f0f0f0 0%,#e6e6e6 45%,#d6d6d6 50%,#d0d0d0 100%);border-right:1px solid #b4b4b4"></div>
<div class="pn" style="left:149px;top:43px;width:21px;height:20px;background:linear-gradient(#f0f0f0 0%,#e6e6e6 45%,#d6d6d6 50%,#d0d0d0 100%);border-left:1px solid #b4b4b4"></div>
<svg width="1461" height="120" style="left:0;top:0"><polygon points="68,51 73,51 70.5,54" fill="#5a6ab0"/><polygon points="157,54 162,54 159.5,51" fill="#5a6ab0"/></svg>
<div class="pn" style="left:18px;top:48px;font-size:12px;line-height:12px;color:#e8e8ff;transform:scaleX(0.9);transform-origin:0 0">SELL</div>
<div class="pn" style="left:186px;top:48px;font-size:12px;line-height:12px;color:#e8e8ff;transform:scaleX(0.98);transform-origin:0 0">BUY</div>
<div class="pn" style="left:122px;top:47px;font-size:12px;line-height:12px;color:#000">1.00</div>
<div class="pn" style="left:25px;top:87px;font-size:12px;line-height:12px;color:#fff;font-weight:bold;letter-spacing:0.6px">7.01</div>
<div class="pn" style="left:53px;top:68px;font-size:34px;line-height:34px;color:#fff">73</div>
<div class="pn" style="left:93px;top:71px;font-size:12px;line-height:12px;color:#fff;font-weight:bold">1</div>
<div class="pn" style="left:135px;top:87px;font-size:12px;line-height:12px;color:#fff;font-weight:bold;letter-spacing:0.6px">7.01</div>
<div class="pn" style="left:163px;top:68px;font-size:34px;line-height:34px;color:#fff">97</div>
<div class="pn" style="left:204px;top:71px;font-size:12px;line-height:12px;color:#fff;font-weight:bold">2</div>

</body></html>
